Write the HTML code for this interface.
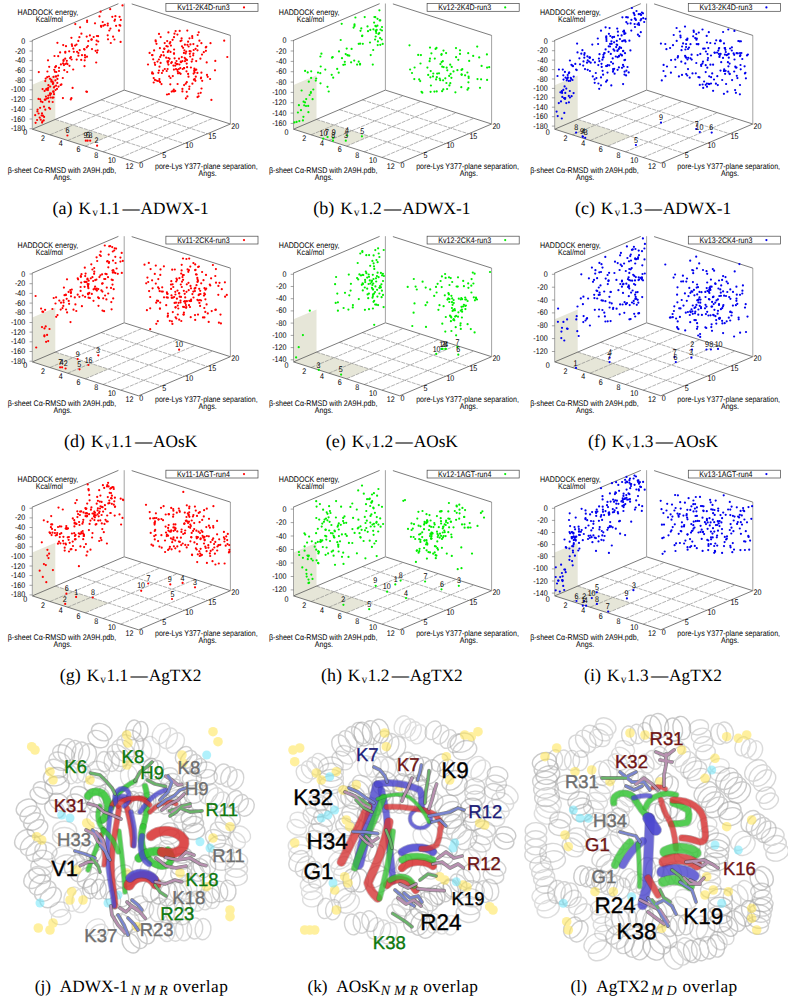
<!DOCTYPE html>
<html><head><meta charset="utf-8"><style>
html,body{margin:0;padding:0;background:#fff;}
body{width:788px;height:1000px;overflow:hidden;position:relative;font-family:"Liberation Sans",sans-serif;}
svg{display:block;position:absolute;left:0;top:0;}
</style></head><body>
<svg width="788" height="1000" viewBox="0 0 788 1000" font-family="Liberation Sans" text-rendering="geometricPrecision">
<g transform="translate(0.0,0.0)">
<polygon points="32.3,129.2 85.4,146.1 108.4,136.4 55.3,119.4" fill="#e6e6d8"/>
<polygon points="32.3,129.2 55.3,119.4 55.3,75.0 32.3,84.8" fill="#e6e6d8"/>
<line x1="50.0" y1="134.8" x2="141.9" y2="95.8" stroke="#808080" stroke-width="0.6" stroke-dasharray="4,1"/>
<line x1="67.7" y1="140.5" x2="159.6" y2="101.4" stroke="#808080" stroke-width="0.6" stroke-dasharray="4,1"/>
<line x1="85.4" y1="146.1" x2="177.3" y2="107.0" stroke="#808080" stroke-width="0.6" stroke-dasharray="4,1"/>
<line x1="103.1" y1="151.8" x2="195.0" y2="112.7" stroke="#808080" stroke-width="0.6" stroke-dasharray="4,1"/>
<line x1="120.8" y1="157.4" x2="212.7" y2="118.3" stroke="#808080" stroke-width="0.6" stroke-dasharray="4,1"/>
<line x1="55.3" y1="119.4" x2="161.5" y2="153.3" stroke="#808080" stroke-width="0.6" stroke-dasharray="4,1"/>
<line x1="78.2" y1="109.6" x2="184.4" y2="143.6" stroke="#808080" stroke-width="0.6" stroke-dasharray="4,1"/>
<line x1="101.2" y1="99.9" x2="207.4" y2="133.8" stroke="#808080" stroke-width="0.6" stroke-dasharray="4,1"/>
<line x1="32.3" y1="129.2" x2="138.5" y2="163.1" stroke="#444" stroke-width="0.7"/>
<line x1="138.5" y1="163.1" x2="230.4" y2="124.0" stroke="#444" stroke-width="0.7"/>
<line x1="32.3" y1="129.2" x2="124.2" y2="90.1" stroke="#444" stroke-width="0.7"/>
<line x1="124.2" y1="90.1" x2="230.4" y2="124.0" stroke="#444" stroke-width="0.7"/>
<line x1="32.3" y1="129.2" x2="32.3" y2="40.6" stroke="#999" stroke-width="0.9"/>
<line x1="124.2" y1="90.1" x2="124.2" y2="3.5" stroke="#999" stroke-width="0.9"/>
<line x1="230.4" y1="124.0" x2="230.4" y2="35.4" stroke="#999" stroke-width="0.9"/>
<line x1="31.8" y1="40.6" x2="118.4" y2="3.7" stroke="#444" stroke-width="0.7"/>
<line x1="131.7" y1="3.9" x2="230.4" y2="35.4" stroke="#444" stroke-width="0.7"/>
<line x1="29.5" y1="41.3" x2="32.3" y2="41.3" stroke="#666" stroke-width="0.6"/>
<text transform="translate(25.2,43.8) scale(0.868,1)" font-size="8.2" text-anchor="end" fill="#000">0</text>
<line x1="29.5" y1="51.0" x2="32.3" y2="51.0" stroke="#666" stroke-width="0.6"/>
<text transform="translate(25.2,53.5) scale(0.868,1)" font-size="8.2" text-anchor="end" fill="#000">-20</text>
<line x1="29.5" y1="60.7" x2="32.3" y2="60.7" stroke="#666" stroke-width="0.6"/>
<text transform="translate(25.2,63.2) scale(0.868,1)" font-size="8.2" text-anchor="end" fill="#000">-40</text>
<line x1="29.5" y1="70.4" x2="32.3" y2="70.4" stroke="#666" stroke-width="0.6"/>
<text transform="translate(25.2,72.9) scale(0.868,1)" font-size="8.2" text-anchor="end" fill="#000">-60</text>
<line x1="29.5" y1="80.1" x2="32.3" y2="80.1" stroke="#666" stroke-width="0.6"/>
<text transform="translate(25.2,82.6) scale(0.868,1)" font-size="8.2" text-anchor="end" fill="#000">-80</text>
<line x1="29.5" y1="89.8" x2="32.3" y2="89.8" stroke="#666" stroke-width="0.6"/>
<text transform="translate(25.2,92.3) scale(0.868,1)" font-size="8.2" text-anchor="end" fill="#000">-100</text>
<line x1="29.5" y1="99.6" x2="32.3" y2="99.6" stroke="#666" stroke-width="0.6"/>
<text transform="translate(25.2,102.1) scale(0.868,1)" font-size="8.2" text-anchor="end" fill="#000">-120</text>
<line x1="29.5" y1="109.3" x2="32.3" y2="109.3" stroke="#666" stroke-width="0.6"/>
<text transform="translate(25.2,111.8) scale(0.868,1)" font-size="8.2" text-anchor="end" fill="#000">-140</text>
<line x1="29.5" y1="119.0" x2="32.3" y2="119.0" stroke="#666" stroke-width="0.6"/>
<text transform="translate(25.2,121.5) scale(0.868,1)" font-size="8.2" text-anchor="end" fill="#000">-160</text>
<line x1="29.5" y1="128.7" x2="32.3" y2="128.7" stroke="#666" stroke-width="0.6"/>
<text transform="translate(25.2,131.2) scale(0.868,1)" font-size="8.2" text-anchor="end" fill="#000">-180</text>
<text transform="translate(27.3,135.1) scale(0.868,1)" font-size="8.2" text-anchor="end" fill="#000">0</text>
<text transform="translate(45.0,140.8) scale(0.868,1)" font-size="8.2" text-anchor="end" fill="#000">2</text>
<text transform="translate(62.7,146.4) scale(0.868,1)" font-size="8.2" text-anchor="end" fill="#000">4</text>
<text transform="translate(80.4,152.0) scale(0.868,1)" font-size="8.2" text-anchor="end" fill="#000">6</text>
<text transform="translate(98.1,157.7) scale(0.868,1)" font-size="8.2" text-anchor="end" fill="#000">8</text>
<text transform="translate(115.8,163.3) scale(0.868,1)" font-size="8.2" text-anchor="end" fill="#000">10</text>
<text transform="translate(133.5,169.0) scale(0.868,1)" font-size="8.2" text-anchor="end" fill="#000">12</text>
<text transform="translate(139.3,167.8) scale(0.868,1)" font-size="8.2" text-anchor="start" fill="#000">0</text>
<text transform="translate(162.3,158.0) scale(0.868,1)" font-size="8.2" text-anchor="start" fill="#000">5</text>
<text transform="translate(185.2,148.2) scale(0.868,1)" font-size="8.2" text-anchor="start" fill="#000">10</text>
<text transform="translate(208.2,138.5) scale(0.868,1)" font-size="8.2" text-anchor="start" fill="#000">15</text>
<text transform="translate(231.2,128.7) scale(0.868,1)" font-size="8.2" text-anchor="start" fill="#000">20</text>
<text transform="translate(47.9,15.2) scale(0.868,1)" font-size="8.2" text-anchor="middle" fill="#000">HADDOCK energy,</text>
<text transform="translate(49.3,22.0) scale(0.868,1)" font-size="8.2" text-anchor="middle" fill="#000">Kcal/mol</text>
<text transform="translate(62.0,172.9) scale(0.868,1)" font-size="8.2" text-anchor="middle" fill="#000">β-sheet Cα-RMSD with 2A9H.pdb,</text>
<text transform="translate(62.7,180.2) scale(0.868,1)" font-size="8.2" text-anchor="middle" fill="#000">Angs.</text>
<text transform="translate(206.3,169.3) scale(0.868,1)" font-size="8.2" text-anchor="middle" fill="#000">pore-Lys Y377-plane separation,</text>
<text transform="translate(207.6,176.4) scale(0.868,1)" font-size="8.2" text-anchor="middle" fill="#000">Angs.</text>
<g fill="#ff0000"><circle cx="51.0" cy="93.7" r="1.1"/><circle cx="42.6" cy="89.1" r="1.1"/><circle cx="49.1" cy="101.7" r="1.1"/><circle cx="37.1" cy="120.0" r="1.1"/><circle cx="53.2" cy="83.1" r="1.1"/><circle cx="51.3" cy="81.6" r="1.1"/><circle cx="53.2" cy="91.4" r="1.1"/><circle cx="41.6" cy="115.5" r="1.1"/><circle cx="45.3" cy="109.7" r="1.1"/><circle cx="50.5" cy="97.5" r="1.1"/><circle cx="52.6" cy="81.7" r="1.1"/><circle cx="52.7" cy="102.0" r="1.1"/><circle cx="35.2" cy="115.2" r="1.1"/><circle cx="48.3" cy="95.6" r="1.1"/><circle cx="44.0" cy="106.7" r="1.1"/><circle cx="47.6" cy="89.0" r="1.1"/><circle cx="50.2" cy="86.6" r="1.1"/><circle cx="52.9" cy="83.9" r="1.1"/><circle cx="52.4" cy="97.7" r="1.1"/><circle cx="56.1" cy="85.7" r="1.1"/><circle cx="57.3" cy="82.9" r="1.1"/><circle cx="45.9" cy="96.6" r="1.1"/><circle cx="38.5" cy="98.9" r="1.1"/><circle cx="37.6" cy="109.6" r="1.1"/><circle cx="40.1" cy="107.8" r="1.1"/><circle cx="48.4" cy="85.2" r="1.1"/><circle cx="53.6" cy="91.9" r="1.1"/><circle cx="55.5" cy="90.0" r="1.1"/><circle cx="37.4" cy="111.4" r="1.1"/><circle cx="57.0" cy="88.9" r="1.1"/><circle cx="46.5" cy="88.9" r="1.1"/><circle cx="40.2" cy="99.3" r="1.1"/><circle cx="39.7" cy="117.6" r="1.1"/><circle cx="50.1" cy="94.9" r="1.1"/><circle cx="47.9" cy="90.1" r="1.1"/><circle cx="50.0" cy="93.3" r="1.1"/><circle cx="48.1" cy="98.2" r="1.1"/><circle cx="38.6" cy="113.5" r="1.1"/><circle cx="53.5" cy="97.5" r="1.1"/><circle cx="46.3" cy="89.7" r="1.1"/><circle cx="35.6" cy="122.8" r="1.1"/><circle cx="40.7" cy="119.7" r="1.1"/><circle cx="54.0" cy="94.2" r="1.1"/><circle cx="50.1" cy="108.8" r="1.1"/><circle cx="44.6" cy="90.9" r="1.1"/><circle cx="40.9" cy="101.4" r="1.1"/><circle cx="45.5" cy="99.7" r="1.1"/><circle cx="48.2" cy="87.9" r="1.1"/><circle cx="54.5" cy="86.6" r="1.1"/><circle cx="42.0" cy="113.4" r="1.1"/><circle cx="42.4" cy="121.3" r="1.1"/><circle cx="43.7" cy="120.4" r="1.1"/><circle cx="42.1" cy="122.6" r="1.1"/><circle cx="44.8" cy="99.7" r="1.1"/><circle cx="42.5" cy="102.1" r="1.1"/><circle cx="44.1" cy="116.9" r="1.1"/><circle cx="46.8" cy="98.5" r="1.1"/><circle cx="42.9" cy="115.7" r="1.1"/><circle cx="49.1" cy="107.8" r="1.1"/><circle cx="51.3" cy="79.9" r="1.1"/><circle cx="59.0" cy="67.8" r="1.1"/><circle cx="61.4" cy="84.4" r="1.1"/><circle cx="76.5" cy="44.6" r="1.1"/><circle cx="58.1" cy="75.6" r="1.1"/><circle cx="72.6" cy="87.9" r="1.1"/><circle cx="58.2" cy="56.2" r="1.1"/><circle cx="56.2" cy="76.4" r="1.1"/><circle cx="56.3" cy="72.0" r="1.1"/><circle cx="60.1" cy="52.4" r="1.1"/><circle cx="66.0" cy="46.2" r="1.1"/><circle cx="55.2" cy="67.2" r="1.1"/><circle cx="65.3" cy="51.8" r="1.1"/><circle cx="53.5" cy="76.9" r="1.1"/><circle cx="66.8" cy="60.8" r="1.1"/><circle cx="59.0" cy="71.0" r="1.1"/><circle cx="73.3" cy="48.7" r="1.1"/><circle cx="45.3" cy="81.1" r="1.1"/><circle cx="54.5" cy="56.0" r="1.1"/><circle cx="47.4" cy="71.5" r="1.1"/><circle cx="57.4" cy="78.9" r="1.1"/><circle cx="55.4" cy="80.4" r="1.1"/><circle cx="49.2" cy="66.8" r="1.1"/><circle cx="65.2" cy="58.7" r="1.1"/><circle cx="63.6" cy="59.9" r="1.1"/><circle cx="69.5" cy="65.8" r="1.1"/><circle cx="78.4" cy="55.7" r="1.1"/><circle cx="66.6" cy="63.3" r="1.1"/><circle cx="67.2" cy="72.0" r="1.1"/><circle cx="71.6" cy="59.5" r="1.1"/><circle cx="45.7" cy="78.6" r="1.1"/><circle cx="64.3" cy="70.2" r="1.1"/><circle cx="50.0" cy="78.8" r="1.1"/><circle cx="47.2" cy="77.2" r="1.1"/><circle cx="63.5" cy="60.9" r="1.1"/><circle cx="84.9" cy="55.2" r="1.1"/><circle cx="73.2" cy="69.5" r="1.1"/><circle cx="60.6" cy="85.0" r="1.1"/><circle cx="56.0" cy="66.2" r="1.1"/><circle cx="84.7" cy="60.3" r="1.1"/><circle cx="81.2" cy="59.9" r="1.1"/><circle cx="58.5" cy="86.6" r="1.1"/><circle cx="72.1" cy="45.9" r="1.1"/><circle cx="54.9" cy="71.7" r="1.1"/><circle cx="48.0" cy="60.3" r="1.1"/><circle cx="53.9" cy="87.5" r="1.1"/><circle cx="65.2" cy="64.0" r="1.1"/><circle cx="49.0" cy="76.5" r="1.1"/><circle cx="60.9" cy="64.4" r="1.1"/><circle cx="63.9" cy="65.1" r="1.1"/><circle cx="78.4" cy="53.0" r="1.1"/><circle cx="73.8" cy="51.8" r="1.1"/><circle cx="63.1" cy="63.4" r="1.1"/><circle cx="79.7" cy="50.2" r="1.1"/><circle cx="38.8" cy="72.1" r="1.1"/><circle cx="67.5" cy="64.1" r="1.1"/><circle cx="62.9" cy="98.1" r="1.1"/><circle cx="55.7" cy="76.5" r="1.1"/><circle cx="54.2" cy="69.8" r="1.1"/><circle cx="62.8" cy="78.0" r="1.1"/><circle cx="71.8" cy="44.3" r="1.1"/><circle cx="85.1" cy="57.4" r="1.1"/><circle cx="110.4" cy="28.6" r="1.1"/><circle cx="110.8" cy="43.0" r="1.1"/><circle cx="69.2" cy="51.3" r="1.1"/><circle cx="86.8" cy="47.3" r="1.1"/><circle cx="107.7" cy="35.3" r="1.1"/><circle cx="91.4" cy="39.7" r="1.1"/><circle cx="112.3" cy="16.8" r="1.1"/><circle cx="77.1" cy="51.8" r="1.1"/><circle cx="57.4" cy="42.8" r="1.1"/><circle cx="96.9" cy="36.0" r="1.1"/><circle cx="93.7" cy="37.0" r="1.1"/><circle cx="86.7" cy="36.6" r="1.1"/><circle cx="82.0" cy="55.2" r="1.1"/><circle cx="84.1" cy="49.1" r="1.1"/><circle cx="119.5" cy="25.0" r="1.1"/><circle cx="115.4" cy="16.2" r="1.1"/><circle cx="84.6" cy="49.6" r="1.1"/><circle cx="116.1" cy="25.8" r="1.1"/><circle cx="84.5" cy="66.2" r="1.1"/><circle cx="92.0" cy="49.1" r="1.1"/><circle cx="97.0" cy="52.6" r="1.1"/><circle cx="99.5" cy="16.4" r="1.1"/><circle cx="70.1" cy="58.1" r="1.1"/><circle cx="118.9" cy="30.5" r="1.1"/><circle cx="119.6" cy="16.8" r="1.1"/><circle cx="96.2" cy="62.5" r="1.1"/><circle cx="87.1" cy="22.0" r="1.1"/><circle cx="78.3" cy="40.9" r="1.1"/><circle cx="81.4" cy="33.7" r="1.1"/><circle cx="120.6" cy="41.9" r="1.1"/><circle cx="87.9" cy="46.0" r="1.1"/><circle cx="71.4" cy="37.8" r="1.1"/><circle cx="98.2" cy="41.5" r="1.1"/><circle cx="76.7" cy="59.6" r="1.1"/><circle cx="63.2" cy="45.1" r="1.1"/><circle cx="100.6" cy="11.7" r="1.1"/><circle cx="87.0" cy="56.7" r="1.1"/><circle cx="101.0" cy="25.9" r="1.1"/><circle cx="87.1" cy="20.6" r="1.1"/><circle cx="114.5" cy="20.8" r="1.1"/><circle cx="104.9" cy="24.8" r="1.1"/><circle cx="95.6" cy="50.8" r="1.1"/><circle cx="70.9" cy="57.1" r="1.1"/><circle cx="102.7" cy="22.0" r="1.1"/><circle cx="114.4" cy="39.5" r="1.1"/><circle cx="108.0" cy="39.3" r="1.1"/><circle cx="110.2" cy="9.2" r="1.1"/><circle cx="107.7" cy="25.4" r="1.1"/><circle cx="98.1" cy="36.2" r="1.1"/><circle cx="101.2" cy="26.8" r="1.1"/><circle cx="115.0" cy="19.6" r="1.1"/><circle cx="96.6" cy="40.6" r="1.1"/><circle cx="95.0" cy="23.3" r="1.1"/><circle cx="79.4" cy="37.2" r="1.1"/><circle cx="113.1" cy="36.7" r="1.1"/><circle cx="88.3" cy="41.1" r="1.1"/><circle cx="120.8" cy="19.9" r="1.1"/><circle cx="119.1" cy="30.6" r="1.1"/><circle cx="107.8" cy="23.5" r="1.1"/><circle cx="80.1" cy="27.3" r="1.1"/><circle cx="91.7" cy="39.4" r="1.1"/><circle cx="103.3" cy="25.7" r="1.1"/><circle cx="96.4" cy="44.5" r="1.1"/><circle cx="89.9" cy="35.4" r="1.1"/><circle cx="75.1" cy="45.6" r="1.1"/><circle cx="65.3" cy="52.7" r="1.1"/><circle cx="97.6" cy="50.3" r="1.1"/><circle cx="120.3" cy="25.7" r="1.1"/><circle cx="109.3" cy="30.5" r="1.1"/><circle cx="75.3" cy="24.1" r="1.1"/><circle cx="122.5" cy="5.4" r="1.1"/><circle cx="86.3" cy="91.6" r="1.1"/><circle cx="87.0" cy="91.8" r="1.1"/><circle cx="70.8" cy="99.4" r="1.1"/><circle cx="71.4" cy="98.2" r="1.1"/><circle cx="177.4" cy="34.6" r="1.1"/><circle cx="167.0" cy="94.5" r="1.1"/><circle cx="185.8" cy="83.7" r="1.1"/><circle cx="182.4" cy="61.2" r="1.1"/><circle cx="182.4" cy="88.9" r="1.1"/><circle cx="191.7" cy="61.6" r="1.1"/><circle cx="201.1" cy="77.5" r="1.1"/><circle cx="200.7" cy="92.8" r="1.1"/><circle cx="168.4" cy="32.4" r="1.1"/><circle cx="203.8" cy="52.2" r="1.1"/><circle cx="189.5" cy="38.3" r="1.1"/><circle cx="173.4" cy="65.6" r="1.1"/><circle cx="152.5" cy="55.0" r="1.1"/><circle cx="198.7" cy="32.3" r="1.1"/><circle cx="181.0" cy="62.2" r="1.1"/><circle cx="182.0" cy="46.3" r="1.1"/><circle cx="193.4" cy="53.6" r="1.1"/><circle cx="187.1" cy="67.2" r="1.1"/><circle cx="184.7" cy="57.8" r="1.1"/><circle cx="159.4" cy="79.1" r="1.1"/><circle cx="148.0" cy="64.5" r="1.1"/><circle cx="157.8" cy="81.0" r="1.1"/><circle cx="160.1" cy="82.2" r="1.1"/><circle cx="156.5" cy="43.8" r="1.1"/><circle cx="170.5" cy="78.0" r="1.1"/><circle cx="174.0" cy="37.2" r="1.1"/><circle cx="190.2" cy="56.5" r="1.1"/><circle cx="197.5" cy="50.3" r="1.1"/><circle cx="179.4" cy="64.5" r="1.1"/><circle cx="189.8" cy="53.8" r="1.1"/><circle cx="181.8" cy="57.1" r="1.1"/><circle cx="188.6" cy="46.5" r="1.1"/><circle cx="161.9" cy="73.0" r="1.1"/><circle cx="201.4" cy="43.2" r="1.1"/><circle cx="167.7" cy="46.5" r="1.1"/><circle cx="206.3" cy="46.8" r="1.1"/><circle cx="164.3" cy="48.8" r="1.1"/><circle cx="181.6" cy="38.4" r="1.1"/><circle cx="195.6" cy="48.8" r="1.1"/><circle cx="192.4" cy="83.7" r="1.1"/><circle cx="179.7" cy="30.9" r="1.1"/><circle cx="163.0" cy="70.7" r="1.1"/><circle cx="186.2" cy="51.7" r="1.1"/><circle cx="182.4" cy="91.4" r="1.1"/><circle cx="190.4" cy="44.4" r="1.1"/><circle cx="174.0" cy="53.7" r="1.1"/><circle cx="168.6" cy="50.6" r="1.1"/><circle cx="189.6" cy="51.2" r="1.1"/><circle cx="164.7" cy="43.1" r="1.1"/><circle cx="169.6" cy="58.8" r="1.1"/><circle cx="177.8" cy="71.7" r="1.1"/><circle cx="192.2" cy="36.2" r="1.1"/><circle cx="167.6" cy="69.0" r="1.1"/><circle cx="180.5" cy="41.1" r="1.1"/><circle cx="173.8" cy="89.6" r="1.1"/><circle cx="198.6" cy="96.3" r="1.1"/><circle cx="201.4" cy="72.7" r="1.1"/><circle cx="153.1" cy="73.6" r="1.1"/><circle cx="168.6" cy="61.0" r="1.1"/><circle cx="177.6" cy="64.1" r="1.1"/><circle cx="168.9" cy="94.1" r="1.1"/><circle cx="189.2" cy="89.0" r="1.1"/><circle cx="189.4" cy="86.6" r="1.1"/><circle cx="174.5" cy="33.7" r="1.1"/><circle cx="171.2" cy="63.1" r="1.1"/><circle cx="196.2" cy="61.1" r="1.1"/><circle cx="160.2" cy="56.9" r="1.1"/><circle cx="168.4" cy="64.6" r="1.1"/><circle cx="184.9" cy="44.7" r="1.1"/><circle cx="193.6" cy="73.6" r="1.1"/><circle cx="186.7" cy="63.6" r="1.1"/><circle cx="180.3" cy="68.1" r="1.1"/><circle cx="170.3" cy="84.3" r="1.1"/><circle cx="167.4" cy="61.3" r="1.1"/><circle cx="186.3" cy="59.5" r="1.1"/><circle cx="175.6" cy="31.1" r="1.1"/><circle cx="155.8" cy="41.5" r="1.1"/><circle cx="167.8" cy="62.7" r="1.1"/><circle cx="201.5" cy="88.5" r="1.1"/><circle cx="176.5" cy="61.0" r="1.1"/><circle cx="185.0" cy="61.2" r="1.1"/><circle cx="183.9" cy="52.9" r="1.1"/><circle cx="158.9" cy="59.5" r="1.1"/><circle cx="206.7" cy="62.4" r="1.1"/><circle cx="193.4" cy="44.1" r="1.1"/><circle cx="173.9" cy="69.6" r="1.1"/><circle cx="173.0" cy="91.1" r="1.1"/><circle cx="185.5" cy="59.1" r="1.1"/><circle cx="159.0" cy="33.9" r="1.1"/><circle cx="169.2" cy="76.3" r="1.1"/><circle cx="157.5" cy="61.6" r="1.1"/><circle cx="159.3" cy="81.1" r="1.1"/><circle cx="207.0" cy="74.9" r="1.1"/><circle cx="183.1" cy="47.8" r="1.1"/><circle cx="172.8" cy="76.1" r="1.1"/><circle cx="170.5" cy="51.9" r="1.1"/><circle cx="180.6" cy="73.8" r="1.1"/><circle cx="166.2" cy="57.7" r="1.1"/><circle cx="152.1" cy="55.2" r="1.1"/><circle cx="182.7" cy="69.0" r="1.1"/><circle cx="178.9" cy="69.0" r="1.1"/><circle cx="170.9" cy="45.6" r="1.1"/><circle cx="188.1" cy="41.7" r="1.1"/><circle cx="190.6" cy="51.4" r="1.1"/><circle cx="156.4" cy="80.5" r="1.1"/><circle cx="186.8" cy="82.2" r="1.1"/><circle cx="166.7" cy="71.0" r="1.1"/><circle cx="205.8" cy="47.4" r="1.1"/><circle cx="178.0" cy="73.3" r="1.1"/><circle cx="202.2" cy="80.8" r="1.1"/><circle cx="175.5" cy="63.0" r="1.1"/><circle cx="196.3" cy="69.7" r="1.1"/><circle cx="175.2" cy="90.9" r="1.1"/><circle cx="184.4" cy="50.3" r="1.1"/><circle cx="174.0" cy="53.4" r="1.1"/><circle cx="163.8" cy="55.4" r="1.1"/><circle cx="195.0" cy="69.9" r="1.1"/><circle cx="171.7" cy="91.6" r="1.1"/><circle cx="200.4" cy="58.7" r="1.1"/><circle cx="161.5" cy="84.1" r="1.1"/><circle cx="153.7" cy="82.5" r="1.1"/><circle cx="179.0" cy="58.7" r="1.1"/><circle cx="174.0" cy="91.5" r="1.1"/><circle cx="159.9" cy="48.2" r="1.1"/><circle cx="168.4" cy="58.0" r="1.1"/><circle cx="166.4" cy="46.1" r="1.1"/><circle cx="184.1" cy="68.1" r="1.1"/><circle cx="169.7" cy="43.4" r="1.1"/><circle cx="205.9" cy="50.8" r="1.1"/><circle cx="174.1" cy="49.5" r="1.1"/><circle cx="176.7" cy="64.2" r="1.1"/><circle cx="195.4" cy="80.8" r="1.1"/><circle cx="167.2" cy="41.1" r="1.1"/><circle cx="152.1" cy="73.5" r="1.1"/><circle cx="186.5" cy="71.3" r="1.1"/><circle cx="188.5" cy="76.7" r="1.1"/><circle cx="161.2" cy="55.2" r="1.1"/><circle cx="160.6" cy="62.9" r="1.1"/><circle cx="207.7" cy="76.8" r="1.1"/><circle cx="192.3" cy="38.0" r="1.1"/><circle cx="176.0" cy="69.1" r="1.1"/><circle cx="197.4" cy="72.9" r="1.1"/><circle cx="194.4" cy="68.6" r="1.1"/><circle cx="167.8" cy="51.9" r="1.1"/><circle cx="200.9" cy="78.3" r="1.1"/><circle cx="193.2" cy="55.3" r="1.1"/><circle cx="197.4" cy="45.9" r="1.1"/><circle cx="185.6" cy="53.4" r="1.1"/><circle cx="185.9" cy="98.4" r="1.1"/><circle cx="193.9" cy="79.7" r="1.1"/><circle cx="184.1" cy="68.2" r="1.1"/><circle cx="184.1" cy="85.1" r="1.1"/><circle cx="170.3" cy="42.2" r="1.1"/><circle cx="174.6" cy="58.3" r="1.1"/><circle cx="154.7" cy="62.8" r="1.1"/><circle cx="159.0" cy="70.5" r="1.1"/><circle cx="154.9" cy="79.9" r="1.1"/><circle cx="153.7" cy="78.1" r="1.1"/><circle cx="193.7" cy="50.0" r="1.1"/><circle cx="155.6" cy="40.4" r="1.1"/><circle cx="188.1" cy="73.9" r="1.1"/><circle cx="171.8" cy="62.2" r="1.1"/><circle cx="194.8" cy="79.2" r="1.1"/><circle cx="154.1" cy="50.4" r="1.1"/><circle cx="177.6" cy="84.0" r="1.1"/><circle cx="194.4" cy="70.2" r="1.1"/><circle cx="187.3" cy="30.6" r="1.1"/><circle cx="187.0" cy="60.1" r="1.1"/><circle cx="194.3" cy="71.1" r="1.1"/><circle cx="199.4" cy="40.7" r="1.1"/><circle cx="163.2" cy="52.1" r="1.1"/><circle cx="160.7" cy="37.1" r="1.1"/><circle cx="195.8" cy="76.7" r="1.1"/><circle cx="187.4" cy="44.8" r="1.1"/><circle cx="172.6" cy="39.8" r="1.1"/><circle cx="179.5" cy="72.9" r="1.1"/><circle cx="186.7" cy="91.8" r="1.1"/><circle cx="180.7" cy="61.7" r="1.1"/><circle cx="177.3" cy="69.8" r="1.1"/><circle cx="194.6" cy="72.5" r="1.1"/><circle cx="152.2" cy="72.3" r="1.1"/><circle cx="197.7" cy="35.0" r="1.1"/><circle cx="164.8" cy="69.0" r="1.1"/><circle cx="190.9" cy="67.5" r="1.1"/><circle cx="153.2" cy="59.3" r="1.1"/><circle cx="192.4" cy="59.3" r="1.1"/><circle cx="181.5" cy="40.5" r="1.1"/><circle cx="158.4" cy="72.8" r="1.1"/><circle cx="175.2" cy="65.7" r="1.1"/><circle cx="149.6" cy="52.9" r="1.1"/><circle cx="187.4" cy="96.4" r="1.1"/><circle cx="197.5" cy="97.1" r="1.1"/><circle cx="215.0" cy="70.3" r="1.1"/><circle cx="215.3" cy="60.9" r="1.1"/><circle cx="159.5" cy="66.7" r="1.1"/><circle cx="164.3" cy="48.7" r="1.1"/><circle cx="155.1" cy="64.8" r="1.1"/><circle cx="211.4" cy="99.9" r="1.1"/><circle cx="210.1" cy="79.0" r="1.1"/><circle cx="210.5" cy="43.2" r="1.1"/><circle cx="198.4" cy="93.5" r="1.1"/><circle cx="202.0" cy="54.6" r="1.1"/><circle cx="227.3" cy="57.0" r="1.1"/><circle cx="224.2" cy="40.7" r="1.1"/><circle cx="67.4" cy="135.5" r="1.1"/><circle cx="85.8" cy="140.7" r="1.1"/><circle cx="87.6" cy="140.7" r="1.1"/><circle cx="90.2" cy="140.7" r="1.1"/><circle cx="97.1" cy="145.7" r="1.1"/></g>
<text transform="translate(67.6,133.1) scale(0.868,1)" font-size="8.2" text-anchor="middle" fill="#000">6</text>
<text transform="translate(85.5,138.3) scale(0.868,1)" font-size="8.2" text-anchor="middle" fill="#000">9</text>
<text transform="translate(88.0,138.3) scale(0.868,1)" font-size="8.2" text-anchor="middle" fill="#000">5</text>
<text transform="translate(90.5,138.3) scale(0.868,1)" font-size="8.2" text-anchor="middle" fill="#000">8</text>
<text transform="translate(96.5,143.3) scale(0.868,1)" font-size="8.2" text-anchor="middle" fill="#000">2</text>
<rect x="165.9" y="3.5" width="92.1" height="7.8" fill="#fff" stroke="#444" stroke-width="0.7"/>
<text transform="translate(203.5,10.0) scale(0.868,1)" font-size="8.2" text-anchor="middle" fill="#000">Kv11-2K4D-run3</text>
<circle cx="244" cy="7.4" r="1.1" fill="#ff0000"/>
</g>
<g transform="translate(261.2,0.0)">
<polygon points="32.3,129.2 85.4,146.1 108.4,136.4 55.3,119.4" fill="#e6e6d8"/>
<polygon points="32.3,129.2 55.3,119.4 55.3,75.3 32.3,85.1" fill="#e6e6d8"/>
<line x1="50.0" y1="134.8" x2="141.9" y2="95.8" stroke="#808080" stroke-width="0.6" stroke-dasharray="4,1"/>
<line x1="67.7" y1="140.5" x2="159.6" y2="101.4" stroke="#808080" stroke-width="0.6" stroke-dasharray="4,1"/>
<line x1="85.4" y1="146.1" x2="177.3" y2="107.0" stroke="#808080" stroke-width="0.6" stroke-dasharray="4,1"/>
<line x1="103.1" y1="151.8" x2="195.0" y2="112.7" stroke="#808080" stroke-width="0.6" stroke-dasharray="4,1"/>
<line x1="120.8" y1="157.4" x2="212.7" y2="118.3" stroke="#808080" stroke-width="0.6" stroke-dasharray="4,1"/>
<line x1="55.3" y1="119.4" x2="161.5" y2="153.3" stroke="#808080" stroke-width="0.6" stroke-dasharray="4,1"/>
<line x1="78.2" y1="109.6" x2="184.4" y2="143.6" stroke="#808080" stroke-width="0.6" stroke-dasharray="4,1"/>
<line x1="101.2" y1="99.9" x2="207.4" y2="133.8" stroke="#808080" stroke-width="0.6" stroke-dasharray="4,1"/>
<line x1="32.3" y1="129.2" x2="138.5" y2="163.1" stroke="#444" stroke-width="0.7"/>
<line x1="138.5" y1="163.1" x2="230.4" y2="124.0" stroke="#444" stroke-width="0.7"/>
<line x1="32.3" y1="129.2" x2="124.2" y2="90.1" stroke="#444" stroke-width="0.7"/>
<line x1="124.2" y1="90.1" x2="230.4" y2="124.0" stroke="#444" stroke-width="0.7"/>
<line x1="32.3" y1="129.2" x2="32.3" y2="40.6" stroke="#999" stroke-width="0.9"/>
<line x1="124.2" y1="90.1" x2="124.2" y2="3.5" stroke="#999" stroke-width="0.9"/>
<line x1="230.4" y1="124.0" x2="230.4" y2="35.4" stroke="#999" stroke-width="0.9"/>
<line x1="31.8" y1="40.6" x2="118.4" y2="3.7" stroke="#444" stroke-width="0.7"/>
<line x1="131.7" y1="3.9" x2="230.4" y2="35.4" stroke="#444" stroke-width="0.7"/>
<line x1="29.5" y1="40.7" x2="32.3" y2="40.7" stroke="#666" stroke-width="0.6"/>
<text transform="translate(25.2,43.2) scale(0.868,1)" font-size="8.2" text-anchor="end" fill="#000">0</text>
<line x1="29.5" y1="51.0" x2="32.3" y2="51.0" stroke="#666" stroke-width="0.6"/>
<text transform="translate(25.2,53.5) scale(0.868,1)" font-size="8.2" text-anchor="end" fill="#000">-20</text>
<line x1="29.5" y1="61.4" x2="32.3" y2="61.4" stroke="#666" stroke-width="0.6"/>
<text transform="translate(25.2,63.9) scale(0.868,1)" font-size="8.2" text-anchor="end" fill="#000">-40</text>
<line x1="29.5" y1="71.7" x2="32.3" y2="71.7" stroke="#666" stroke-width="0.6"/>
<text transform="translate(25.2,74.2) scale(0.868,1)" font-size="8.2" text-anchor="end" fill="#000">-60</text>
<line x1="29.5" y1="82.1" x2="32.3" y2="82.1" stroke="#666" stroke-width="0.6"/>
<text transform="translate(25.2,84.6) scale(0.868,1)" font-size="8.2" text-anchor="end" fill="#000">-80</text>
<line x1="29.5" y1="92.4" x2="32.3" y2="92.4" stroke="#666" stroke-width="0.6"/>
<text transform="translate(25.2,94.9) scale(0.868,1)" font-size="8.2" text-anchor="end" fill="#000">-100</text>
<line x1="29.5" y1="102.7" x2="32.3" y2="102.7" stroke="#666" stroke-width="0.6"/>
<text transform="translate(25.2,105.2) scale(0.868,1)" font-size="8.2" text-anchor="end" fill="#000">-120</text>
<line x1="29.5" y1="113.1" x2="32.3" y2="113.1" stroke="#666" stroke-width="0.6"/>
<text transform="translate(25.2,115.6) scale(0.868,1)" font-size="8.2" text-anchor="end" fill="#000">-140</text>
<line x1="29.5" y1="123.4" x2="32.3" y2="123.4" stroke="#666" stroke-width="0.6"/>
<text transform="translate(25.2,125.9) scale(0.868,1)" font-size="8.2" text-anchor="end" fill="#000">-160</text>
<text transform="translate(27.3,135.1) scale(0.868,1)" font-size="8.2" text-anchor="end" fill="#000">0</text>
<text transform="translate(45.0,140.8) scale(0.868,1)" font-size="8.2" text-anchor="end" fill="#000">2</text>
<text transform="translate(62.7,146.4) scale(0.868,1)" font-size="8.2" text-anchor="end" fill="#000">4</text>
<text transform="translate(80.4,152.0) scale(0.868,1)" font-size="8.2" text-anchor="end" fill="#000">6</text>
<text transform="translate(98.1,157.7) scale(0.868,1)" font-size="8.2" text-anchor="end" fill="#000">8</text>
<text transform="translate(115.8,163.3) scale(0.868,1)" font-size="8.2" text-anchor="end" fill="#000">10</text>
<text transform="translate(133.5,169.0) scale(0.868,1)" font-size="8.2" text-anchor="end" fill="#000">12</text>
<text transform="translate(139.3,167.8) scale(0.868,1)" font-size="8.2" text-anchor="start" fill="#000">0</text>
<text transform="translate(162.3,158.0) scale(0.868,1)" font-size="8.2" text-anchor="start" fill="#000">5</text>
<text transform="translate(185.2,148.2) scale(0.868,1)" font-size="8.2" text-anchor="start" fill="#000">10</text>
<text transform="translate(208.2,138.5) scale(0.868,1)" font-size="8.2" text-anchor="start" fill="#000">15</text>
<text transform="translate(231.2,128.7) scale(0.868,1)" font-size="8.2" text-anchor="start" fill="#000">20</text>
<text transform="translate(47.9,15.2) scale(0.868,1)" font-size="8.2" text-anchor="middle" fill="#000">HADDOCK energy,</text>
<text transform="translate(49.3,22.0) scale(0.868,1)" font-size="8.2" text-anchor="middle" fill="#000">Kcal/mol</text>
<text transform="translate(62.0,172.9) scale(0.868,1)" font-size="8.2" text-anchor="middle" fill="#000">β-sheet Cα-RMSD with 2A9H.pdb,</text>
<text transform="translate(62.7,180.2) scale(0.868,1)" font-size="8.2" text-anchor="middle" fill="#000">Angs.</text>
<text transform="translate(206.3,169.3) scale(0.868,1)" font-size="8.2" text-anchor="middle" fill="#000">pore-Lys Y377-plane separation,</text>
<text transform="translate(207.6,176.4) scale(0.868,1)" font-size="8.2" text-anchor="middle" fill="#000">Angs.</text>
<g fill="#00ee00"><circle cx="51.4" cy="99.2" r="1.1"/><circle cx="66.3" cy="86.8" r="1.1"/><circle cx="42.4" cy="101.7" r="1.1"/><circle cx="36.7" cy="112.5" r="1.1"/><circle cx="39.8" cy="110.2" r="1.1"/><circle cx="49.9" cy="77.9" r="1.1"/><circle cx="38.1" cy="121.1" r="1.1"/><circle cx="52.1" cy="89.5" r="1.1"/><circle cx="37.7" cy="105.2" r="1.1"/><circle cx="48.4" cy="95.0" r="1.1"/><circle cx="44.8" cy="106.0" r="1.1"/><circle cx="47.2" cy="112.2" r="1.1"/><circle cx="41.7" cy="120.4" r="1.1"/><circle cx="40.4" cy="90.5" r="1.1"/><circle cx="47.6" cy="81.7" r="1.1"/><circle cx="47.0" cy="105.9" r="1.1"/><circle cx="43.0" cy="105.3" r="1.1"/><circle cx="43.8" cy="102.4" r="1.1"/><circle cx="45.0" cy="99.1" r="1.1"/><circle cx="49.7" cy="92.0" r="1.1"/><circle cx="33.2" cy="122.4" r="1.1"/><circle cx="35.4" cy="121.9" r="1.1"/><circle cx="42.2" cy="116.8" r="1.1"/><circle cx="49.6" cy="93.0" r="1.1"/><circle cx="77.8" cy="51.4" r="1.1"/><circle cx="77.5" cy="72.7" r="1.1"/><circle cx="76.0" cy="68.9" r="1.1"/><circle cx="85.5" cy="48.6" r="1.1"/><circle cx="80.8" cy="58.2" r="1.1"/><circle cx="55.0" cy="78.5" r="1.1"/><circle cx="46.5" cy="72.4" r="1.1"/><circle cx="98.8" cy="64.6" r="1.1"/><circle cx="93.0" cy="60.6" r="1.1"/><circle cx="89.9" cy="62.3" r="1.1"/><circle cx="86.7" cy="55.4" r="1.1"/><circle cx="56.8" cy="72.6" r="1.1"/><circle cx="84.5" cy="54.1" r="1.1"/><circle cx="60.2" cy="53.7" r="1.1"/><circle cx="97.5" cy="61.7" r="1.1"/><circle cx="98.9" cy="63.9" r="1.1"/><circle cx="72.0" cy="77.7" r="1.1"/><circle cx="83.6" cy="61.8" r="1.1"/><circle cx="70.5" cy="74.8" r="1.1"/><circle cx="88.1" cy="55.7" r="1.1"/><circle cx="59.3" cy="83.3" r="1.1"/><circle cx="59.1" cy="73.2" r="1.1"/><circle cx="67.5" cy="91.5" r="1.1"/><circle cx="64.1" cy="69.6" r="1.1"/><circle cx="50.0" cy="71.3" r="1.1"/><circle cx="43.9" cy="70.9" r="1.1"/><circle cx="82.1" cy="64.8" r="1.1"/><circle cx="71.5" cy="57.2" r="1.1"/><circle cx="86.1" cy="55.0" r="1.1"/><circle cx="83.7" cy="64.5" r="1.1"/><circle cx="70.8" cy="57.7" r="1.1"/><circle cx="90.4" cy="48.9" r="1.1"/><circle cx="59.5" cy="66.5" r="1.1"/><circle cx="59.2" cy="56.5" r="1.1"/><circle cx="54.6" cy="80.6" r="1.1"/><circle cx="98.9" cy="43.7" r="1.1"/><circle cx="99.3" cy="30.8" r="1.1"/><circle cx="103.5" cy="17.1" r="1.1"/><circle cx="100.1" cy="28.4" r="1.1"/><circle cx="80.5" cy="23.8" r="1.1"/><circle cx="106.8" cy="31.2" r="1.1"/><circle cx="93.3" cy="25.9" r="1.1"/><circle cx="92.4" cy="27.6" r="1.1"/><circle cx="79.5" cy="40.0" r="1.1"/><circle cx="106.3" cy="26.4" r="1.1"/><circle cx="97.5" cy="43.8" r="1.1"/><circle cx="95.9" cy="64.6" r="1.1"/><circle cx="94.2" cy="17.5" r="1.1"/><circle cx="100.9" cy="36.1" r="1.1"/><circle cx="111.6" cy="64.6" r="1.1"/><circle cx="101.6" cy="43.8" r="1.1"/><circle cx="93.3" cy="24.4" r="1.1"/><circle cx="101.1" cy="35.7" r="1.1"/><circle cx="109.5" cy="55.1" r="1.1"/><circle cx="108.8" cy="42.5" r="1.1"/><circle cx="116.2" cy="25.7" r="1.1"/><circle cx="114.1" cy="17.2" r="1.1"/><circle cx="112.0" cy="50.0" r="1.1"/><circle cx="116.3" cy="18.8" r="1.1"/><circle cx="119.3" cy="29.6" r="1.1"/><circle cx="120.8" cy="30.5" r="1.1"/><circle cx="115.5" cy="29.9" r="1.1"/><circle cx="120.5" cy="39.5" r="1.1"/><circle cx="113.9" cy="39.5" r="1.1"/><circle cx="114.5" cy="36.5" r="1.1"/><circle cx="118.2" cy="10.3" r="1.1"/><circle cx="116.7" cy="41.4" r="1.1"/><circle cx="114.8" cy="31.3" r="1.1"/><circle cx="113.2" cy="17.0" r="1.1"/><circle cx="115.0" cy="33.0" r="1.1"/><circle cx="119.1" cy="44.8" r="1.1"/><circle cx="119.1" cy="20.3" r="1.1"/><circle cx="118.9" cy="38.1" r="1.1"/><circle cx="114.9" cy="26.5" r="1.1"/><circle cx="120.8" cy="27.0" r="1.1"/><circle cx="112.9" cy="22.6" r="1.1"/><circle cx="116.5" cy="45.1" r="1.1"/><circle cx="109.1" cy="29.9" r="1.1"/><circle cx="118.5" cy="20.4" r="1.1"/><circle cx="118.1" cy="33.1" r="1.1"/><circle cx="121.5" cy="43.9" r="1.1"/><circle cx="112.2" cy="29.3" r="1.1"/><circle cx="114.5" cy="30.5" r="1.1"/><circle cx="114.2" cy="25.9" r="1.1"/><circle cx="117.3" cy="33.9" r="1.1"/><circle cx="180.2" cy="54.8" r="1.1"/><circle cx="168.8" cy="58.7" r="1.1"/><circle cx="159.7" cy="55.1" r="1.1"/><circle cx="218.8" cy="87.8" r="1.1"/><circle cx="182.1" cy="89.4" r="1.1"/><circle cx="200.1" cy="87.2" r="1.1"/><circle cx="207.0" cy="53.2" r="1.1"/><circle cx="203.9" cy="75.3" r="1.1"/><circle cx="190.2" cy="77.8" r="1.1"/><circle cx="184.1" cy="78.3" r="1.1"/><circle cx="180.4" cy="62.1" r="1.1"/><circle cx="148.9" cy="69.5" r="1.1"/><circle cx="169.4" cy="91.8" r="1.1"/><circle cx="181.0" cy="66.7" r="1.1"/><circle cx="170.2" cy="53.3" r="1.1"/><circle cx="212.0" cy="55.9" r="1.1"/><circle cx="185.2" cy="83.0" r="1.1"/><circle cx="176.0" cy="73.6" r="1.1"/><circle cx="182.3" cy="50.6" r="1.1"/><circle cx="180.9" cy="91.2" r="1.1"/><circle cx="190.5" cy="66.9" r="1.1"/><circle cx="220.4" cy="65.9" r="1.1"/><circle cx="179.0" cy="80.2" r="1.1"/><circle cx="181.9" cy="80.3" r="1.1"/><circle cx="207.4" cy="76.6" r="1.1"/><circle cx="192.3" cy="71.4" r="1.1"/><circle cx="175.3" cy="47.9" r="1.1"/><circle cx="200.5" cy="74.8" r="1.1"/><circle cx="175.5" cy="91.4" r="1.1"/><circle cx="207.2" cy="88.2" r="1.1"/><circle cx="153.4" cy="67.5" r="1.1"/><circle cx="160.3" cy="91.8" r="1.1"/><circle cx="177.8" cy="73.3" r="1.1"/><circle cx="201.1" cy="69.2" r="1.1"/><circle cx="186.1" cy="70.3" r="1.1"/><circle cx="225.7" cy="54.4" r="1.1"/><circle cx="182.4" cy="67.1" r="1.1"/><circle cx="175.6" cy="77.2" r="1.1"/><circle cx="194.8" cy="48.1" r="1.1"/><circle cx="171.8" cy="76.4" r="1.1"/><circle cx="197.1" cy="59.8" r="1.1"/><circle cx="188.0" cy="75.9" r="1.1"/><circle cx="198.8" cy="50.3" r="1.1"/><circle cx="207.2" cy="82.3" r="1.1"/><circle cx="225.9" cy="79.9" r="1.1"/><circle cx="196.2" cy="70.2" r="1.1"/><circle cx="185.5" cy="67.7" r="1.1"/><circle cx="200.4" cy="74.4" r="1.1"/><circle cx="219.9" cy="79.3" r="1.1"/><circle cx="178.5" cy="78.5" r="1.1"/><circle cx="172.1" cy="73.5" r="1.1"/><circle cx="157.0" cy="54.9" r="1.1"/><circle cx="228.0" cy="67.2" r="1.1"/><circle cx="168.4" cy="61.2" r="1.1"/><circle cx="179.2" cy="64.1" r="1.1"/><circle cx="185.9" cy="89.0" r="1.1"/><circle cx="169.2" cy="77.3" r="1.1"/><circle cx="207.5" cy="78.0" r="1.1"/><circle cx="206.2" cy="72.5" r="1.1"/><circle cx="198.8" cy="53.9" r="1.1"/><circle cx="206.3" cy="89.7" r="1.1"/><circle cx="153.1" cy="79.1" r="1.1"/><circle cx="189.1" cy="83.2" r="1.1"/><circle cx="218.0" cy="57.4" r="1.1"/><circle cx="166.2" cy="67.6" r="1.1"/><circle cx="173.2" cy="91.6" r="1.1"/><circle cx="159.0" cy="81.1" r="1.1"/><circle cx="150.8" cy="73.0" r="1.1"/><circle cx="194.9" cy="57.2" r="1.1"/><circle cx="216.3" cy="79.1" r="1.1"/><circle cx="159.3" cy="63.5" r="1.1"/><circle cx="189.4" cy="73.9" r="1.1"/><circle cx="174.4" cy="48.9" r="1.1"/><circle cx="189.0" cy="64.7" r="1.1"/><circle cx="174.9" cy="79.4" r="1.1"/><circle cx="173.6" cy="58.6" r="1.1"/><circle cx="200.3" cy="69.9" r="1.1"/><circle cx="181.6" cy="61.2" r="1.1"/><circle cx="167.0" cy="74.9" r="1.1"/><circle cx="161.1" cy="92.7" r="1.1"/><circle cx="184.9" cy="53.1" r="1.1"/><circle cx="168.8" cy="47.6" r="1.1"/><circle cx="216.0" cy="46.6" r="1.1"/><circle cx="225.9" cy="67.6" r="1.1"/><circle cx="169.7" cy="85.5" r="1.1"/><circle cx="194.2" cy="92.3" r="1.1"/><circle cx="158.0" cy="79.4" r="1.1"/><circle cx="148.3" cy="45.3" r="1.1"/><circle cx="180.4" cy="54.0" r="1.1"/><circle cx="169.5" cy="71.1" r="1.1"/><circle cx="208.0" cy="60.9" r="1.1"/><circle cx="188.2" cy="85.4" r="1.1"/><circle cx="62.0" cy="138.7" r="1.1"/><circle cx="66.4" cy="137.0" r="1.1"/><circle cx="71.9" cy="137.8" r="1.1"/><circle cx="71.8" cy="140.7" r="1.1"/><circle cx="86.1" cy="135.5" r="1.1"/><circle cx="100.7" cy="136.3" r="1.1"/><circle cx="84.6" cy="140.7" r="1.1"/></g>
<text transform="translate(62.3,136.3) scale(0.868,1)" font-size="8.2" text-anchor="middle" fill="#000">10</text>
<text transform="translate(65.8,134.6) scale(0.868,1)" font-size="8.2" text-anchor="middle" fill="#000">7</text>
<text transform="translate(72.5,135.4) scale(0.868,1)" font-size="8.2" text-anchor="middle" fill="#000">9</text>
<text transform="translate(72.0,138.3) scale(0.868,1)" font-size="8.2" text-anchor="middle" fill="#000">8</text>
<text transform="translate(85.7,133.1) scale(0.868,1)" font-size="8.2" text-anchor="middle" fill="#000">4</text>
<text transform="translate(101.0,133.9) scale(0.868,1)" font-size="8.2" text-anchor="middle" fill="#000">5</text>
<text transform="translate(84.8,138.3) scale(0.868,1)" font-size="8.2" text-anchor="middle" fill="#000">3</text>
<rect x="165.9" y="3.5" width="92.1" height="7.8" fill="#fff" stroke="#444" stroke-width="0.7"/>
<text transform="translate(203.5,10.0) scale(0.868,1)" font-size="8.2" text-anchor="middle" fill="#000">Kv12-2K4D-run3</text>
<circle cx="244" cy="7.4" r="1.1" fill="#00ee00"/>
</g>
<g transform="translate(522.4,0.0)">
<polygon points="32.3,129.2 85.4,146.1 108.4,136.4 55.3,119.4" fill="#e6e6d8"/>
<polygon points="32.3,129.2 55.3,119.4 55.3,75.5 32.3,85.3" fill="#e6e6d8"/>
<line x1="50.0" y1="134.8" x2="141.9" y2="95.8" stroke="#808080" stroke-width="0.6" stroke-dasharray="4,1"/>
<line x1="67.7" y1="140.5" x2="159.6" y2="101.4" stroke="#808080" stroke-width="0.6" stroke-dasharray="4,1"/>
<line x1="85.4" y1="146.1" x2="177.3" y2="107.0" stroke="#808080" stroke-width="0.6" stroke-dasharray="4,1"/>
<line x1="103.1" y1="151.8" x2="195.0" y2="112.7" stroke="#808080" stroke-width="0.6" stroke-dasharray="4,1"/>
<line x1="120.8" y1="157.4" x2="212.7" y2="118.3" stroke="#808080" stroke-width="0.6" stroke-dasharray="4,1"/>
<line x1="55.3" y1="119.4" x2="161.5" y2="153.3" stroke="#808080" stroke-width="0.6" stroke-dasharray="4,1"/>
<line x1="78.2" y1="109.6" x2="184.4" y2="143.6" stroke="#808080" stroke-width="0.6" stroke-dasharray="4,1"/>
<line x1="101.2" y1="99.9" x2="207.4" y2="133.8" stroke="#808080" stroke-width="0.6" stroke-dasharray="4,1"/>
<line x1="32.3" y1="129.2" x2="138.5" y2="163.1" stroke="#444" stroke-width="0.7"/>
<line x1="138.5" y1="163.1" x2="230.4" y2="124.0" stroke="#444" stroke-width="0.7"/>
<line x1="32.3" y1="129.2" x2="124.2" y2="90.1" stroke="#444" stroke-width="0.7"/>
<line x1="124.2" y1="90.1" x2="230.4" y2="124.0" stroke="#444" stroke-width="0.7"/>
<line x1="32.3" y1="129.2" x2="32.3" y2="40.6" stroke="#999" stroke-width="0.9"/>
<line x1="124.2" y1="90.1" x2="124.2" y2="3.5" stroke="#999" stroke-width="0.9"/>
<line x1="230.4" y1="124.0" x2="230.4" y2="35.4" stroke="#999" stroke-width="0.9"/>
<line x1="31.8" y1="40.6" x2="118.4" y2="3.7" stroke="#444" stroke-width="0.7"/>
<line x1="131.7" y1="3.9" x2="230.4" y2="35.4" stroke="#444" stroke-width="0.7"/>
<line x1="29.5" y1="41.3" x2="32.3" y2="41.3" stroke="#666" stroke-width="0.6"/>
<text transform="translate(25.2,43.8) scale(0.868,1)" font-size="8.2" text-anchor="end" fill="#000">0</text>
<line x1="29.5" y1="50.7" x2="32.3" y2="50.7" stroke="#666" stroke-width="0.6"/>
<text transform="translate(25.2,53.2) scale(0.868,1)" font-size="8.2" text-anchor="end" fill="#000">-20</text>
<line x1="29.5" y1="60.1" x2="32.3" y2="60.1" stroke="#666" stroke-width="0.6"/>
<text transform="translate(25.2,62.6) scale(0.868,1)" font-size="8.2" text-anchor="end" fill="#000">-40</text>
<line x1="29.5" y1="69.6" x2="32.3" y2="69.6" stroke="#666" stroke-width="0.6"/>
<text transform="translate(25.2,72.1) scale(0.868,1)" font-size="8.2" text-anchor="end" fill="#000">-60</text>
<line x1="29.5" y1="79.0" x2="32.3" y2="79.0" stroke="#666" stroke-width="0.6"/>
<text transform="translate(25.2,81.5) scale(0.868,1)" font-size="8.2" text-anchor="end" fill="#000">-80</text>
<line x1="29.5" y1="88.4" x2="32.3" y2="88.4" stroke="#666" stroke-width="0.6"/>
<text transform="translate(25.2,90.9) scale(0.868,1)" font-size="8.2" text-anchor="end" fill="#000">-100</text>
<line x1="29.5" y1="97.8" x2="32.3" y2="97.8" stroke="#666" stroke-width="0.6"/>
<text transform="translate(25.2,100.3) scale(0.868,1)" font-size="8.2" text-anchor="end" fill="#000">-120</text>
<line x1="29.5" y1="107.2" x2="32.3" y2="107.2" stroke="#666" stroke-width="0.6"/>
<text transform="translate(25.2,109.7) scale(0.868,1)" font-size="8.2" text-anchor="end" fill="#000">-140</text>
<line x1="29.5" y1="116.7" x2="32.3" y2="116.7" stroke="#666" stroke-width="0.6"/>
<text transform="translate(25.2,119.2) scale(0.868,1)" font-size="8.2" text-anchor="end" fill="#000">-160</text>
<line x1="29.5" y1="126.1" x2="32.3" y2="126.1" stroke="#666" stroke-width="0.6"/>
<text transform="translate(25.2,128.6) scale(0.868,1)" font-size="8.2" text-anchor="end" fill="#000">-180</text>
<text transform="translate(27.3,135.1) scale(0.868,1)" font-size="8.2" text-anchor="end" fill="#000">0</text>
<text transform="translate(45.0,140.8) scale(0.868,1)" font-size="8.2" text-anchor="end" fill="#000">2</text>
<text transform="translate(62.7,146.4) scale(0.868,1)" font-size="8.2" text-anchor="end" fill="#000">4</text>
<text transform="translate(80.4,152.0) scale(0.868,1)" font-size="8.2" text-anchor="end" fill="#000">6</text>
<text transform="translate(98.1,157.7) scale(0.868,1)" font-size="8.2" text-anchor="end" fill="#000">8</text>
<text transform="translate(115.8,163.3) scale(0.868,1)" font-size="8.2" text-anchor="end" fill="#000">10</text>
<text transform="translate(133.5,169.0) scale(0.868,1)" font-size="8.2" text-anchor="end" fill="#000">12</text>
<text transform="translate(139.3,167.8) scale(0.868,1)" font-size="8.2" text-anchor="start" fill="#000">0</text>
<text transform="translate(162.3,158.0) scale(0.868,1)" font-size="8.2" text-anchor="start" fill="#000">5</text>
<text transform="translate(185.2,148.2) scale(0.868,1)" font-size="8.2" text-anchor="start" fill="#000">10</text>
<text transform="translate(208.2,138.5) scale(0.868,1)" font-size="8.2" text-anchor="start" fill="#000">15</text>
<text transform="translate(231.2,128.7) scale(0.868,1)" font-size="8.2" text-anchor="start" fill="#000">20</text>
<text transform="translate(47.9,15.2) scale(0.868,1)" font-size="8.2" text-anchor="middle" fill="#000">HADDOCK energy,</text>
<text transform="translate(49.3,22.0) scale(0.868,1)" font-size="8.2" text-anchor="middle" fill="#000">Kcal/mol</text>
<text transform="translate(62.0,172.9) scale(0.868,1)" font-size="8.2" text-anchor="middle" fill="#000">β-sheet Cα-RMSD with 2A9H.pdb,</text>
<text transform="translate(62.7,180.2) scale(0.868,1)" font-size="8.2" text-anchor="middle" fill="#000">Angs.</text>
<text transform="translate(206.3,169.3) scale(0.868,1)" font-size="8.2" text-anchor="middle" fill="#000">pore-Lys Y377-plane separation,</text>
<text transform="translate(207.6,176.4) scale(0.868,1)" font-size="8.2" text-anchor="middle" fill="#000">Angs.</text>
<g fill="#0000ee"><circle cx="35.3" cy="116.1" r="1.1"/><circle cx="43.9" cy="88.6" r="1.1"/><circle cx="39.7" cy="92.9" r="1.1"/><circle cx="47.5" cy="97.5" r="1.1"/><circle cx="41.7" cy="98.2" r="1.1"/><circle cx="47.8" cy="80.8" r="1.1"/><circle cx="34.2" cy="111.6" r="1.1"/><circle cx="39.4" cy="118.5" r="1.1"/><circle cx="38.0" cy="92.3" r="1.1"/><circle cx="38.6" cy="101.4" r="1.1"/><circle cx="42.9" cy="98.0" r="1.1"/><circle cx="40.9" cy="89.9" r="1.1"/><circle cx="41.9" cy="112.9" r="1.1"/><circle cx="47.4" cy="91.0" r="1.1"/><circle cx="42.6" cy="99.0" r="1.1"/><circle cx="36.4" cy="103.1" r="1.1"/><circle cx="50.1" cy="80.0" r="1.1"/><circle cx="46.4" cy="95.9" r="1.1"/><circle cx="39.5" cy="91.5" r="1.1"/><circle cx="43.9" cy="103.1" r="1.1"/><circle cx="51.2" cy="93.1" r="1.1"/><circle cx="39.4" cy="91.1" r="1.1"/><circle cx="46.5" cy="102.3" r="1.1"/><circle cx="42.9" cy="92.9" r="1.1"/><circle cx="46.3" cy="80.9" r="1.1"/><circle cx="42.2" cy="86.4" r="1.1"/><circle cx="49.2" cy="96.2" r="1.1"/><circle cx="39.9" cy="96.9" r="1.1"/><circle cx="45.3" cy="75.0" r="1.1"/><circle cx="48.3" cy="77.8" r="1.1"/><circle cx="67.1" cy="57.4" r="1.1"/><circle cx="65.3" cy="60.4" r="1.1"/><circle cx="61.9" cy="54.8" r="1.1"/><circle cx="60.8" cy="65.6" r="1.1"/><circle cx="67.3" cy="57.8" r="1.1"/><circle cx="62.6" cy="69.1" r="1.1"/><circle cx="42.5" cy="71.9" r="1.1"/><circle cx="53.7" cy="69.5" r="1.1"/><circle cx="48.8" cy="78.9" r="1.1"/><circle cx="44.7" cy="78.8" r="1.1"/><circle cx="44.3" cy="80.3" r="1.1"/><circle cx="51.3" cy="76.6" r="1.1"/><circle cx="57.0" cy="58.3" r="1.1"/><circle cx="45.4" cy="77.4" r="1.1"/><circle cx="46.8" cy="72.4" r="1.1"/><circle cx="49.0" cy="64.8" r="1.1"/><circle cx="64.6" cy="62.7" r="1.1"/><circle cx="58.9" cy="53.7" r="1.1"/><circle cx="57.6" cy="64.3" r="1.1"/><circle cx="45.1" cy="78.1" r="1.1"/><circle cx="55.1" cy="52.4" r="1.1"/><circle cx="72.5" cy="62.4" r="1.1"/><circle cx="65.0" cy="56.4" r="1.1"/><circle cx="46.4" cy="73.2" r="1.1"/><circle cx="40.4" cy="69.6" r="1.1"/><circle cx="60.0" cy="50.2" r="1.1"/><circle cx="65.3" cy="69.8" r="1.1"/><circle cx="50.6" cy="66.2" r="1.1"/><circle cx="61.9" cy="57.7" r="1.1"/><circle cx="67.5" cy="71.0" r="1.1"/><circle cx="66.7" cy="61.6" r="1.1"/><circle cx="67.6" cy="57.5" r="1.1"/><circle cx="36.5" cy="69.5" r="1.1"/><circle cx="54.3" cy="70.1" r="1.1"/><circle cx="68.3" cy="62.7" r="1.1"/><circle cx="40.9" cy="75.3" r="1.1"/><circle cx="62.2" cy="53.2" r="1.1"/><circle cx="43.1" cy="77.7" r="1.1"/><circle cx="35.1" cy="76.0" r="1.1"/><circle cx="52.9" cy="63.9" r="1.1"/><circle cx="54.7" cy="43.6" r="1.1"/><circle cx="41.1" cy="79.6" r="1.1"/><circle cx="61.1" cy="61.4" r="1.1"/><circle cx="47.5" cy="60.5" r="1.1"/><circle cx="50.0" cy="65.7" r="1.1"/><circle cx="101.3" cy="40.6" r="1.1"/><circle cx="102.6" cy="53.2" r="1.1"/><circle cx="104.0" cy="70.7" r="1.1"/><circle cx="103.7" cy="75.4" r="1.1"/><circle cx="83.2" cy="49.4" r="1.1"/><circle cx="90.6" cy="63.6" r="1.1"/><circle cx="95.2" cy="69.8" r="1.1"/><circle cx="77.0" cy="61.2" r="1.1"/><circle cx="96.6" cy="55.8" r="1.1"/><circle cx="80.0" cy="59.7" r="1.1"/><circle cx="102.1" cy="74.6" r="1.1"/><circle cx="80.7" cy="74.7" r="1.1"/><circle cx="86.2" cy="51.8" r="1.1"/><circle cx="105.1" cy="67.0" r="1.1"/><circle cx="90.3" cy="58.4" r="1.1"/><circle cx="100.6" cy="64.9" r="1.1"/><circle cx="94.8" cy="45.0" r="1.1"/><circle cx="75.9" cy="65.1" r="1.1"/><circle cx="72.2" cy="79.3" r="1.1"/><circle cx="96.5" cy="56.5" r="1.1"/><circle cx="78.6" cy="85.3" r="1.1"/><circle cx="87.2" cy="28.1" r="1.1"/><circle cx="97.5" cy="39.1" r="1.1"/><circle cx="86.9" cy="65.3" r="1.1"/><circle cx="103.0" cy="33.3" r="1.1"/><circle cx="95.2" cy="50.3" r="1.1"/><circle cx="88.7" cy="62.0" r="1.1"/><circle cx="91.8" cy="68.8" r="1.1"/><circle cx="78.6" cy="30.7" r="1.1"/><circle cx="95.6" cy="35.5" r="1.1"/><circle cx="86.3" cy="46.3" r="1.1"/><circle cx="81.8" cy="53.3" r="1.1"/><circle cx="70.4" cy="76.4" r="1.1"/><circle cx="102.7" cy="59.8" r="1.1"/><circle cx="79.1" cy="63.8" r="1.1"/><circle cx="101.3" cy="66.5" r="1.1"/><circle cx="85.3" cy="65.0" r="1.1"/><circle cx="73.4" cy="73.0" r="1.1"/><circle cx="106.3" cy="72.4" r="1.1"/><circle cx="99.6" cy="67.8" r="1.1"/><circle cx="72.3" cy="82.8" r="1.1"/><circle cx="103.2" cy="41.6" r="1.1"/><circle cx="85.1" cy="72.6" r="1.1"/><circle cx="94.4" cy="40.9" r="1.1"/><circle cx="75.4" cy="38.5" r="1.1"/><circle cx="92.2" cy="73.7" r="1.1"/><circle cx="98.2" cy="54.3" r="1.1"/><circle cx="92.0" cy="50.7" r="1.1"/><circle cx="102.0" cy="60.2" r="1.1"/><circle cx="84.7" cy="80.3" r="1.1"/><circle cx="88.4" cy="53.9" r="1.1"/><circle cx="76.5" cy="58.6" r="1.1"/><circle cx="107.0" cy="40.7" r="1.1"/><circle cx="102.6" cy="40.4" r="1.1"/><circle cx="78.6" cy="77.4" r="1.1"/><circle cx="77.1" cy="54.2" r="1.1"/><circle cx="83.7" cy="81.7" r="1.1"/><circle cx="95.0" cy="51.0" r="1.1"/><circle cx="83.7" cy="66.1" r="1.1"/><circle cx="80.2" cy="70.8" r="1.1"/><circle cx="102.2" cy="71.7" r="1.1"/><circle cx="76.0" cy="83.5" r="1.1"/><circle cx="88.9" cy="85.4" r="1.1"/><circle cx="95.2" cy="57.2" r="1.1"/><circle cx="79.3" cy="66.9" r="1.1"/><circle cx="100.7" cy="84.1" r="1.1"/><circle cx="76.8" cy="88.8" r="1.1"/><circle cx="81.0" cy="54.8" r="1.1"/><circle cx="87.9" cy="36.0" r="1.1"/><circle cx="90.9" cy="70.1" r="1.1"/><circle cx="89.0" cy="41.3" r="1.1"/><circle cx="81.1" cy="57.2" r="1.1"/><circle cx="75.7" cy="44.0" r="1.1"/><circle cx="69.9" cy="44.6" r="1.1"/><circle cx="82.2" cy="53.0" r="1.1"/><circle cx="91.1" cy="49.4" r="1.1"/><circle cx="90.7" cy="69.0" r="1.1"/><circle cx="84.1" cy="41.0" r="1.1"/><circle cx="74.0" cy="78.1" r="1.1"/><circle cx="84.8" cy="66.0" r="1.1"/><circle cx="93.4" cy="56.5" r="1.1"/><circle cx="87.7" cy="43.9" r="1.1"/><circle cx="99.6" cy="55.5" r="1.1"/><circle cx="96.5" cy="67.4" r="1.1"/><circle cx="80.7" cy="57.5" r="1.1"/><circle cx="89.3" cy="43.8" r="1.1"/><circle cx="87.6" cy="46.5" r="1.1"/><circle cx="70.6" cy="59.8" r="1.1"/><circle cx="90.6" cy="71.7" r="1.1"/><circle cx="94.3" cy="44.5" r="1.1"/><circle cx="95.5" cy="31.7" r="1.1"/><circle cx="111.6" cy="13.6" r="1.1"/><circle cx="116.9" cy="36.2" r="1.1"/><circle cx="109.5" cy="8.0" r="1.1"/><circle cx="116.3" cy="14.2" r="1.1"/><circle cx="94.8" cy="28.6" r="1.1"/><circle cx="100.8" cy="50.8" r="1.1"/><circle cx="99.2" cy="35.4" r="1.1"/><circle cx="108.9" cy="30.6" r="1.1"/><circle cx="83.9" cy="36.3" r="1.1"/><circle cx="114.1" cy="11.0" r="1.1"/><circle cx="115.5" cy="34.7" r="1.1"/><circle cx="112.2" cy="15.1" r="1.1"/><circle cx="119.5" cy="12.5" r="1.1"/><circle cx="116.7" cy="24.9" r="1.1"/><circle cx="101.6" cy="30.6" r="1.1"/><circle cx="98.7" cy="47.9" r="1.1"/><circle cx="91.7" cy="42.3" r="1.1"/><circle cx="100.8" cy="51.2" r="1.1"/><circle cx="113.1" cy="19.2" r="1.1"/><circle cx="84.0" cy="39.1" r="1.1"/><circle cx="116.3" cy="23.2" r="1.1"/><circle cx="86.5" cy="33.8" r="1.1"/><circle cx="120.8" cy="18.2" r="1.1"/><circle cx="83.8" cy="37.4" r="1.1"/><circle cx="103.9" cy="22.1" r="1.1"/><circle cx="113.5" cy="20.0" r="1.1"/><circle cx="99.3" cy="55.2" r="1.1"/><circle cx="112.4" cy="18.3" r="1.1"/><circle cx="118.7" cy="14.9" r="1.1"/><circle cx="108.0" cy="50.4" r="1.1"/><circle cx="96.5" cy="48.9" r="1.1"/><circle cx="112.6" cy="27.0" r="1.1"/><circle cx="115.1" cy="24.3" r="1.1"/><circle cx="105.2" cy="23.6" r="1.1"/><circle cx="105.4" cy="17.4" r="1.1"/><circle cx="90.0" cy="37.6" r="1.1"/><circle cx="121.8" cy="22.0" r="1.1"/><circle cx="100.0" cy="17.3" r="1.1"/><circle cx="118.2" cy="20.3" r="1.1"/><circle cx="99.8" cy="41.2" r="1.1"/><circle cx="118.8" cy="19.1" r="1.1"/><circle cx="91.7" cy="36.9" r="1.1"/><circle cx="108.2" cy="23.4" r="1.1"/><circle cx="118.1" cy="14.5" r="1.1"/><circle cx="101.8" cy="31.9" r="1.1"/><circle cx="90.1" cy="37.1" r="1.1"/><circle cx="118.4" cy="32.2" r="1.1"/><circle cx="83.2" cy="27.3" r="1.1"/><circle cx="112.2" cy="24.0" r="1.1"/><circle cx="120.6" cy="13.3" r="1.1"/><circle cx="101.9" cy="33.9" r="1.1"/><circle cx="100.8" cy="31.5" r="1.1"/><circle cx="97.3" cy="47.2" r="1.1"/><circle cx="93.8" cy="47.1" r="1.1"/><circle cx="109.0" cy="19.8" r="1.1"/><circle cx="117.7" cy="14.0" r="1.1"/><circle cx="103.8" cy="17.2" r="1.1"/><circle cx="123.2" cy="18.8" r="1.1"/><circle cx="111.2" cy="12.8" r="1.1"/><circle cx="185.3" cy="60.1" r="1.1"/><circle cx="180.2" cy="84.5" r="1.1"/><circle cx="163.9" cy="39.8" r="1.1"/><circle cx="176.4" cy="32.6" r="1.1"/><circle cx="174.4" cy="38.6" r="1.1"/><circle cx="162.6" cy="26.6" r="1.1"/><circle cx="180.6" cy="61.7" r="1.1"/><circle cx="154.2" cy="28.0" r="1.1"/><circle cx="185.1" cy="54.1" r="1.1"/><circle cx="144.0" cy="49.2" r="1.1"/><circle cx="157.4" cy="31.5" r="1.1"/><circle cx="154.3" cy="40.9" r="1.1"/><circle cx="170.8" cy="36.3" r="1.1"/><circle cx="173.9" cy="63.0" r="1.1"/><circle cx="193.5" cy="83.7" r="1.1"/><circle cx="175.7" cy="44.3" r="1.1"/><circle cx="163.2" cy="56.9" r="1.1"/><circle cx="177.4" cy="84.9" r="1.1"/><circle cx="171.4" cy="31.9" r="1.1"/><circle cx="176.0" cy="44.1" r="1.1"/><circle cx="158.0" cy="35.7" r="1.1"/><circle cx="170.1" cy="73.4" r="1.1"/><circle cx="164.8" cy="39.8" r="1.1"/><circle cx="151.3" cy="35.0" r="1.1"/><circle cx="173.9" cy="34.1" r="1.1"/><circle cx="163.7" cy="47.0" r="1.1"/><circle cx="165.6" cy="69.1" r="1.1"/><circle cx="176.0" cy="77.1" r="1.1"/><circle cx="165.0" cy="38.6" r="1.1"/><circle cx="165.1" cy="59.5" r="1.1"/><circle cx="150.6" cy="45.2" r="1.1"/><circle cx="174.0" cy="39.7" r="1.1"/><circle cx="142.9" cy="44.0" r="1.1"/><circle cx="183.3" cy="84.8" r="1.1"/><circle cx="163.8" cy="74.1" r="1.1"/><circle cx="141.2" cy="64.9" r="1.1"/><circle cx="185.9" cy="48.1" r="1.1"/><circle cx="177.1" cy="77.4" r="1.1"/><circle cx="184.6" cy="86.7" r="1.1"/><circle cx="178.7" cy="64.8" r="1.1"/><circle cx="144.6" cy="66.5" r="1.1"/><circle cx="139.4" cy="80.4" r="1.1"/><circle cx="166.6" cy="47.6" r="1.1"/><circle cx="153.1" cy="67.0" r="1.1"/><circle cx="141.1" cy="71.0" r="1.1"/><circle cx="173.4" cy="73.3" r="1.1"/><circle cx="165.8" cy="57.8" r="1.1"/><circle cx="165.6" cy="49.0" r="1.1"/><circle cx="188.7" cy="77.2" r="1.1"/><circle cx="192.1" cy="52.6" r="1.1"/><circle cx="163.7" cy="44.1" r="1.1"/><circle cx="169.3" cy="59.6" r="1.1"/><circle cx="162.9" cy="63.4" r="1.1"/><circle cx="171.2" cy="30.5" r="1.1"/><circle cx="155.3" cy="57.6" r="1.1"/><circle cx="185.6" cy="58.0" r="1.1"/><circle cx="163.8" cy="57.8" r="1.1"/><circle cx="156.5" cy="76.4" r="1.1"/><circle cx="168.1" cy="44.2" r="1.1"/><circle cx="175.2" cy="55.1" r="1.1"/><circle cx="163.0" cy="49.5" r="1.1"/><circle cx="159.6" cy="74.9" r="1.1"/><circle cx="158.9" cy="61.7" r="1.1"/><circle cx="183.5" cy="51.5" r="1.1"/><circle cx="168.1" cy="58.3" r="1.1"/><circle cx="148.5" cy="72.7" r="1.1"/><circle cx="143.0" cy="76.2" r="1.1"/><circle cx="184.3" cy="35.9" r="1.1"/><circle cx="155.6" cy="56.2" r="1.1"/><circle cx="138.5" cy="43.6" r="1.1"/><circle cx="147.7" cy="48.0" r="1.1"/><circle cx="162.7" cy="55.8" r="1.1"/><circle cx="172.8" cy="38.1" r="1.1"/><circle cx="152.8" cy="59.6" r="1.1"/><circle cx="180.0" cy="63.6" r="1.1"/><circle cx="158.2" cy="37.3" r="1.1"/><circle cx="160.7" cy="43.4" r="1.1"/><circle cx="167.3" cy="77.7" r="1.1"/><circle cx="159.1" cy="50.2" r="1.1"/><circle cx="164.9" cy="75.5" r="1.1"/><circle cx="169.2" cy="54.7" r="1.1"/><circle cx="188.6" cy="55.5" r="1.1"/><circle cx="159.7" cy="46.5" r="1.1"/><circle cx="174.3" cy="44.1" r="1.1"/><circle cx="148.7" cy="60.1" r="1.1"/><circle cx="200.7" cy="32.0" r="1.1"/><circle cx="207.2" cy="63.6" r="1.1"/><circle cx="207.7" cy="48.5" r="1.1"/><circle cx="212.1" cy="59.5" r="1.1"/><circle cx="181.7" cy="81.5" r="1.1"/><circle cx="186.4" cy="32.2" r="1.1"/><circle cx="188.6" cy="83.5" r="1.1"/><circle cx="196.8" cy="48.1" r="1.1"/><circle cx="192.6" cy="43.5" r="1.1"/><circle cx="212.9" cy="66.5" r="1.1"/><circle cx="209.4" cy="50.5" r="1.1"/><circle cx="199.8" cy="80.0" r="1.1"/><circle cx="215.9" cy="41.0" r="1.1"/><circle cx="198.1" cy="70.6" r="1.1"/><circle cx="205.3" cy="54.6" r="1.1"/><circle cx="202.7" cy="73.8" r="1.1"/><circle cx="212.7" cy="90.1" r="1.1"/><circle cx="195.4" cy="85.1" r="1.1"/><circle cx="187.0" cy="84.1" r="1.1"/><circle cx="218.5" cy="41.3" r="1.1"/><circle cx="207.4" cy="74.1" r="1.1"/><circle cx="215.4" cy="53.3" r="1.1"/><circle cx="214.1" cy="67.6" r="1.1"/><circle cx="201.7" cy="70.9" r="1.1"/><circle cx="218.1" cy="65.0" r="1.1"/><circle cx="178.8" cy="66.0" r="1.1"/><circle cx="197.4" cy="55.5" r="1.1"/><circle cx="202.2" cy="48.1" r="1.1"/><circle cx="177.9" cy="53.9" r="1.1"/><circle cx="217.5" cy="94.3" r="1.1"/><circle cx="217.6" cy="53.1" r="1.1"/><circle cx="214.2" cy="53.2" r="1.1"/><circle cx="201.6" cy="43.4" r="1.1"/><circle cx="207.0" cy="73.5" r="1.1"/><circle cx="206.3" cy="53.9" r="1.1"/><circle cx="192.4" cy="52.8" r="1.1"/><circle cx="219.0" cy="53.0" r="1.1"/><circle cx="184.9" cy="67.7" r="1.1"/><circle cx="196.5" cy="48.6" r="1.1"/><circle cx="205.9" cy="29.5" r="1.1"/><circle cx="183.3" cy="72.1" r="1.1"/><circle cx="211.8" cy="54.8" r="1.1"/><circle cx="186.3" cy="83.9" r="1.1"/><circle cx="203.0" cy="49.8" r="1.1"/><circle cx="205.5" cy="62.2" r="1.1"/><circle cx="187.9" cy="43.0" r="1.1"/><circle cx="218.3" cy="69.3" r="1.1"/><circle cx="219.9" cy="59.0" r="1.1"/><circle cx="206.4" cy="57.7" r="1.1"/><circle cx="198.2" cy="53.9" r="1.1"/><circle cx="223.5" cy="78.3" r="1.1"/><circle cx="188.0" cy="64.7" r="1.1"/><circle cx="203.2" cy="70.8" r="1.1"/><circle cx="180.8" cy="48.7" r="1.1"/><circle cx="194.9" cy="76.2" r="1.1"/><circle cx="215.0" cy="78.1" r="1.1"/><circle cx="189.8" cy="73.4" r="1.1"/><circle cx="206.0" cy="66.3" r="1.1"/><circle cx="196.5" cy="53.9" r="1.1"/><circle cx="222.2" cy="66.3" r="1.1"/><circle cx="212.0" cy="30.9" r="1.1"/><circle cx="195.9" cy="50.6" r="1.1"/><circle cx="211.2" cy="53.4" r="1.1"/><circle cx="180.8" cy="87.9" r="1.1"/><circle cx="197.8" cy="40.9" r="1.1"/><circle cx="191.6" cy="79.5" r="1.1"/><circle cx="211.8" cy="71.5" r="1.1"/><circle cx="198.2" cy="41.2" r="1.1"/><circle cx="204.2" cy="55.2" r="1.1"/><circle cx="190.7" cy="90.8" r="1.1"/><circle cx="193.8" cy="40.3" r="1.1"/><circle cx="183.3" cy="65.2" r="1.1"/><circle cx="214.4" cy="75.8" r="1.1"/><circle cx="190.7" cy="64.7" r="1.1"/><circle cx="225.5" cy="54.5" r="1.1"/><circle cx="201.8" cy="69.4" r="1.1"/><circle cx="203.4" cy="52.0" r="1.1"/><circle cx="217.6" cy="85.0" r="1.1"/><circle cx="194.7" cy="52.6" r="1.1"/><circle cx="222.5" cy="73.5" r="1.1"/><circle cx="213.3" cy="67.5" r="1.1"/><circle cx="186.8" cy="76.3" r="1.1"/><circle cx="209.7" cy="80.1" r="1.1"/><circle cx="205.0" cy="91.7" r="1.1"/><circle cx="201.6" cy="71.0" r="1.1"/><circle cx="202.7" cy="48.1" r="1.1"/><circle cx="180.1" cy="29.5" r="1.1"/><circle cx="213.5" cy="92.8" r="1.1"/><circle cx="223.0" cy="72.8" r="1.1"/><circle cx="201.5" cy="93.8" r="1.1"/><circle cx="182.3" cy="48.5" r="1.1"/><circle cx="200.6" cy="57.9" r="1.1"/><circle cx="184.5" cy="83.5" r="1.1"/><circle cx="184.6" cy="42.5" r="1.1"/><circle cx="217.6" cy="56.1" r="1.1"/><circle cx="205.9" cy="71.7" r="1.1"/><circle cx="209.5" cy="47.3" r="1.1"/><circle cx="203.7" cy="84.0" r="1.1"/><circle cx="218.0" cy="55.2" r="1.1"/><circle cx="198.0" cy="40.4" r="1.1"/><circle cx="224.6" cy="55.4" r="1.1"/><circle cx="198.8" cy="62.2" r="1.1"/><circle cx="217.1" cy="41.3" r="1.1"/><circle cx="197.0" cy="56.9" r="1.1"/><circle cx="202.5" cy="54.6" r="1.1"/><circle cx="53.7" cy="132.6" r="1.1"/><circle cx="60.2" cy="136.3" r="1.1"/><circle cx="60.5" cy="136.8" r="1.1"/><circle cx="62.8" cy="137.8" r="1.1"/><circle cx="113.5" cy="145.0" r="1.1"/><circle cx="138.6" cy="122.6" r="1.1"/><circle cx="173.8" cy="129.0" r="1.1"/><circle cx="177.4" cy="132.0" r="1.1"/><circle cx="189.3" cy="132.6" r="1.1"/></g>
<text transform="translate(53.8,130.2) scale(0.868,1)" font-size="8.2" text-anchor="middle" fill="#000">8</text>
<text transform="translate(59.6,133.9) scale(0.868,1)" font-size="8.2" text-anchor="middle" fill="#000">9</text>
<text transform="translate(61.0,134.4) scale(0.868,1)" font-size="8.2" text-anchor="middle" fill="#000">4</text>
<text transform="translate(63.4,135.4) scale(0.868,1)" font-size="8.2" text-anchor="middle" fill="#000">3</text>
<text transform="translate(113.6,142.6) scale(0.868,1)" font-size="8.2" text-anchor="middle" fill="#000">5</text>
<text transform="translate(138.7,120.2) scale(0.868,1)" font-size="8.2" text-anchor="middle" fill="#000">9</text>
<text transform="translate(174.3,126.6) scale(0.868,1)" font-size="8.2" text-anchor="middle" fill="#000">7</text>
<text transform="translate(177.0,129.6) scale(0.868,1)" font-size="8.2" text-anchor="middle" fill="#000">10</text>
<text transform="translate(188.9,130.2) scale(0.868,1)" font-size="8.2" text-anchor="middle" fill="#000">6</text>
<rect x="165.9" y="3.5" width="92.1" height="7.8" fill="#fff" stroke="#444" stroke-width="0.7"/>
<text transform="translate(203.5,10.0) scale(0.868,1)" font-size="8.2" text-anchor="middle" fill="#000">Kv13-2K4D-run3</text>
<circle cx="244" cy="7.4" r="1.1" fill="#0000ee"/>
</g>
<g transform="translate(0.0,232.7)">
<polygon points="32.3,129.2 85.4,146.1 108.4,136.4 55.3,119.4" fill="#e6e6d8"/>
<polygon points="32.3,129.2 55.3,119.4 55.3,75.1 32.3,84.9" fill="#e6e6d8"/>
<line x1="50.0" y1="134.8" x2="141.9" y2="95.8" stroke="#808080" stroke-width="0.6" stroke-dasharray="4,1"/>
<line x1="67.7" y1="140.5" x2="159.6" y2="101.4" stroke="#808080" stroke-width="0.6" stroke-dasharray="4,1"/>
<line x1="85.4" y1="146.1" x2="177.3" y2="107.0" stroke="#808080" stroke-width="0.6" stroke-dasharray="4,1"/>
<line x1="103.1" y1="151.8" x2="195.0" y2="112.7" stroke="#808080" stroke-width="0.6" stroke-dasharray="4,1"/>
<line x1="120.8" y1="157.4" x2="212.7" y2="118.3" stroke="#808080" stroke-width="0.6" stroke-dasharray="4,1"/>
<line x1="55.3" y1="119.4" x2="161.5" y2="153.3" stroke="#808080" stroke-width="0.6" stroke-dasharray="4,1"/>
<line x1="78.2" y1="109.6" x2="184.4" y2="143.6" stroke="#808080" stroke-width="0.6" stroke-dasharray="4,1"/>
<line x1="101.2" y1="99.9" x2="207.4" y2="133.8" stroke="#808080" stroke-width="0.6" stroke-dasharray="4,1"/>
<line x1="32.3" y1="129.2" x2="138.5" y2="163.1" stroke="#444" stroke-width="0.7"/>
<line x1="138.5" y1="163.1" x2="230.4" y2="124.0" stroke="#444" stroke-width="0.7"/>
<line x1="32.3" y1="129.2" x2="124.2" y2="90.1" stroke="#444" stroke-width="0.7"/>
<line x1="124.2" y1="90.1" x2="230.4" y2="124.0" stroke="#444" stroke-width="0.7"/>
<line x1="32.3" y1="129.2" x2="32.3" y2="40.6" stroke="#999" stroke-width="0.9"/>
<line x1="124.2" y1="90.1" x2="124.2" y2="3.5" stroke="#999" stroke-width="0.9"/>
<line x1="230.4" y1="124.0" x2="230.4" y2="35.4" stroke="#999" stroke-width="0.9"/>
<line x1="31.8" y1="40.6" x2="118.4" y2="3.7" stroke="#444" stroke-width="0.7"/>
<line x1="131.7" y1="3.9" x2="230.4" y2="35.4" stroke="#444" stroke-width="0.7"/>
<line x1="29.5" y1="41.3" x2="32.3" y2="41.3" stroke="#666" stroke-width="0.6"/>
<text transform="translate(25.2,43.8) scale(0.868,1)" font-size="8.2" text-anchor="end" fill="#000">0</text>
<line x1="29.5" y1="51.0" x2="32.3" y2="51.0" stroke="#666" stroke-width="0.6"/>
<text transform="translate(25.2,53.5) scale(0.868,1)" font-size="8.2" text-anchor="end" fill="#000">-20</text>
<line x1="29.5" y1="60.7" x2="32.3" y2="60.7" stroke="#666" stroke-width="0.6"/>
<text transform="translate(25.2,63.2) scale(0.868,1)" font-size="8.2" text-anchor="end" fill="#000">-40</text>
<line x1="29.5" y1="70.4" x2="32.3" y2="70.4" stroke="#666" stroke-width="0.6"/>
<text transform="translate(25.2,72.9) scale(0.868,1)" font-size="8.2" text-anchor="end" fill="#000">-60</text>
<line x1="29.5" y1="80.1" x2="32.3" y2="80.1" stroke="#666" stroke-width="0.6"/>
<text transform="translate(25.2,82.6) scale(0.868,1)" font-size="8.2" text-anchor="end" fill="#000">-80</text>
<line x1="29.5" y1="89.8" x2="32.3" y2="89.8" stroke="#666" stroke-width="0.6"/>
<text transform="translate(25.2,92.2) scale(0.868,1)" font-size="8.2" text-anchor="end" fill="#000">-100</text>
<line x1="29.5" y1="99.4" x2="32.3" y2="99.4" stroke="#666" stroke-width="0.6"/>
<text transform="translate(25.2,101.9) scale(0.868,1)" font-size="8.2" text-anchor="end" fill="#000">-120</text>
<line x1="29.5" y1="109.1" x2="32.3" y2="109.1" stroke="#666" stroke-width="0.6"/>
<text transform="translate(25.2,111.6) scale(0.868,1)" font-size="8.2" text-anchor="end" fill="#000">-140</text>
<line x1="29.5" y1="118.8" x2="32.3" y2="118.8" stroke="#666" stroke-width="0.6"/>
<text transform="translate(25.2,121.3) scale(0.868,1)" font-size="8.2" text-anchor="end" fill="#000">-160</text>
<line x1="29.5" y1="128.5" x2="32.3" y2="128.5" stroke="#666" stroke-width="0.6"/>
<text transform="translate(25.2,131.0) scale(0.868,1)" font-size="8.2" text-anchor="end" fill="#000">-180</text>
<text transform="translate(27.3,135.1) scale(0.868,1)" font-size="8.2" text-anchor="end" fill="#000">0</text>
<text transform="translate(45.0,140.8) scale(0.868,1)" font-size="8.2" text-anchor="end" fill="#000">2</text>
<text transform="translate(62.7,146.4) scale(0.868,1)" font-size="8.2" text-anchor="end" fill="#000">4</text>
<text transform="translate(80.4,152.0) scale(0.868,1)" font-size="8.2" text-anchor="end" fill="#000">6</text>
<text transform="translate(98.1,157.7) scale(0.868,1)" font-size="8.2" text-anchor="end" fill="#000">8</text>
<text transform="translate(115.8,163.3) scale(0.868,1)" font-size="8.2" text-anchor="end" fill="#000">10</text>
<text transform="translate(133.5,169.0) scale(0.868,1)" font-size="8.2" text-anchor="end" fill="#000">12</text>
<text transform="translate(139.3,167.8) scale(0.868,1)" font-size="8.2" text-anchor="start" fill="#000">0</text>
<text transform="translate(162.3,158.0) scale(0.868,1)" font-size="8.2" text-anchor="start" fill="#000">5</text>
<text transform="translate(185.2,148.2) scale(0.868,1)" font-size="8.2" text-anchor="start" fill="#000">10</text>
<text transform="translate(208.2,138.5) scale(0.868,1)" font-size="8.2" text-anchor="start" fill="#000">15</text>
<text transform="translate(231.2,128.7) scale(0.868,1)" font-size="8.2" text-anchor="start" fill="#000">20</text>
<text transform="translate(47.9,15.2) scale(0.868,1)" font-size="8.2" text-anchor="middle" fill="#000">HADDOCK energy,</text>
<text transform="translate(49.3,22.0) scale(0.868,1)" font-size="8.2" text-anchor="middle" fill="#000">Kcal/mol</text>
<text transform="translate(62.0,172.9) scale(0.868,1)" font-size="8.2" text-anchor="middle" fill="#000">β-sheet Cα-RMSD with 2A9H.pdb,</text>
<text transform="translate(62.7,180.2) scale(0.868,1)" font-size="8.2" text-anchor="middle" fill="#000">Angs.</text>
<text transform="translate(206.3,169.3) scale(0.868,1)" font-size="8.2" text-anchor="middle" fill="#000">pore-Lys Y377-plane separation,</text>
<text transform="translate(207.6,176.4) scale(0.868,1)" font-size="8.2" text-anchor="middle" fill="#000">Angs.</text>
<g fill="#ff0000"><circle cx="49.5" cy="96.3" r="1.1"/><circle cx="42.4" cy="79.0" r="1.1"/><circle cx="44.4" cy="102.7" r="1.1"/><circle cx="42.0" cy="94.4" r="1.1"/><circle cx="36.2" cy="114.8" r="1.1"/><circle cx="45.7" cy="93.7" r="1.1"/><circle cx="47.1" cy="102.2" r="1.1"/><circle cx="44.5" cy="95.7" r="1.1"/><circle cx="44.4" cy="103.6" r="1.1"/><circle cx="48.2" cy="108.4" r="1.1"/><circle cx="46.1" cy="109.1" r="1.1"/><circle cx="43.2" cy="79.1" r="1.1"/><circle cx="69.1" cy="71.1" r="1.1"/><circle cx="77.7" cy="45.6" r="1.1"/><circle cx="55.5" cy="70.8" r="1.1"/><circle cx="95.1" cy="53.8" r="1.1"/><circle cx="71.8" cy="56.9" r="1.1"/><circle cx="62.5" cy="75.4" r="1.1"/><circle cx="70.5" cy="89.4" r="1.1"/><circle cx="86.6" cy="49.2" r="1.1"/><circle cx="71.0" cy="63.6" r="1.1"/><circle cx="65.8" cy="62.0" r="1.1"/><circle cx="52.4" cy="76.3" r="1.1"/><circle cx="56.2" cy="84.1" r="1.1"/><circle cx="96.9" cy="57.9" r="1.1"/><circle cx="85.1" cy="64.1" r="1.1"/><circle cx="35.6" cy="63.3" r="1.1"/><circle cx="93.2" cy="48.3" r="1.1"/><circle cx="74.8" cy="64.7" r="1.1"/><circle cx="53.7" cy="65.3" r="1.1"/><circle cx="68.6" cy="59.2" r="1.1"/><circle cx="81.2" cy="49.9" r="1.1"/><circle cx="68.7" cy="68.2" r="1.1"/><circle cx="66.7" cy="66.1" r="1.1"/><circle cx="45.1" cy="77.1" r="1.1"/><circle cx="63.9" cy="54.9" r="1.1"/><circle cx="70.9" cy="60.4" r="1.1"/><circle cx="63.5" cy="67.6" r="1.1"/><circle cx="71.0" cy="59.4" r="1.1"/><circle cx="65.8" cy="62.4" r="1.1"/><circle cx="56.1" cy="64.6" r="1.1"/><circle cx="61.0" cy="70.0" r="1.1"/><circle cx="82.8" cy="62.8" r="1.1"/><circle cx="85.6" cy="40.9" r="1.1"/><circle cx="66.1" cy="76.8" r="1.1"/><circle cx="63.6" cy="69.7" r="1.1"/><circle cx="91.8" cy="61.2" r="1.1"/><circle cx="88.1" cy="52.8" r="1.1"/><circle cx="87.5" cy="46.0" r="1.1"/><circle cx="59.3" cy="67.9" r="1.1"/><circle cx="77.7" cy="62.0" r="1.1"/><circle cx="87.6" cy="51.3" r="1.1"/><circle cx="79.4" cy="64.1" r="1.1"/><circle cx="67.1" cy="79.7" r="1.1"/><circle cx="84.5" cy="49.1" r="1.1"/><circle cx="89.9" cy="65.3" r="1.1"/><circle cx="63.3" cy="73.2" r="1.1"/><circle cx="73.5" cy="77.0" r="1.1"/><circle cx="70.3" cy="57.4" r="1.1"/><circle cx="76.3" cy="78.3" r="1.1"/><circle cx="57.5" cy="82.4" r="1.1"/><circle cx="67.0" cy="46.6" r="1.1"/><circle cx="81.9" cy="73.5" r="1.1"/><circle cx="41.1" cy="75.9" r="1.1"/><circle cx="75.4" cy="71.7" r="1.1"/><circle cx="60.7" cy="76.9" r="1.1"/><circle cx="64.5" cy="62.5" r="1.1"/><circle cx="80.9" cy="44.1" r="1.1"/><circle cx="104.1" cy="78.5" r="1.1"/><circle cx="106.6" cy="41.5" r="1.1"/><circle cx="111.6" cy="76.6" r="1.1"/><circle cx="112.8" cy="47.4" r="1.1"/><circle cx="120.4" cy="28.9" r="1.1"/><circle cx="100.7" cy="19.0" r="1.1"/><circle cx="96.8" cy="56.0" r="1.1"/><circle cx="115.6" cy="30.3" r="1.1"/><circle cx="92.4" cy="36.8" r="1.1"/><circle cx="88.1" cy="54.0" r="1.1"/><circle cx="94.2" cy="35.3" r="1.1"/><circle cx="88.8" cy="60.9" r="1.1"/><circle cx="87.4" cy="46.8" r="1.1"/><circle cx="88.7" cy="48.0" r="1.1"/><circle cx="104.8" cy="12.8" r="1.1"/><circle cx="93.5" cy="68.1" r="1.1"/><circle cx="113.2" cy="65.7" r="1.1"/><circle cx="108.0" cy="44.5" r="1.1"/><circle cx="114.2" cy="17.8" r="1.1"/><circle cx="95.2" cy="47.4" r="1.1"/><circle cx="102.1" cy="51.0" r="1.1"/><circle cx="114.2" cy="39.7" r="1.1"/><circle cx="85.2" cy="43.4" r="1.1"/><circle cx="101.4" cy="57.7" r="1.1"/><circle cx="99.4" cy="44.4" r="1.1"/><circle cx="117.8" cy="41.1" r="1.1"/><circle cx="87.9" cy="60.8" r="1.1"/><circle cx="113.3" cy="37.7" r="1.1"/><circle cx="108.2" cy="60.8" r="1.1"/><circle cx="108.3" cy="34.6" r="1.1"/><circle cx="111.7" cy="47.0" r="1.1"/><circle cx="97.2" cy="28.3" r="1.1"/><circle cx="98.5" cy="73.1" r="1.1"/><circle cx="113.7" cy="56.5" r="1.1"/><circle cx="110.2" cy="13.4" r="1.1"/><circle cx="100.8" cy="23.3" r="1.1"/><circle cx="109.2" cy="13.6" r="1.1"/><circle cx="84.8" cy="35.0" r="1.1"/><circle cx="102.4" cy="58.9" r="1.1"/><circle cx="122.8" cy="28.2" r="1.1"/><circle cx="112.4" cy="37.9" r="1.1"/><circle cx="104.2" cy="46.3" r="1.1"/><circle cx="105.4" cy="41.1" r="1.1"/><circle cx="98.3" cy="56.4" r="1.1"/><circle cx="115.3" cy="24.1" r="1.1"/><circle cx="80.8" cy="43.5" r="1.1"/><circle cx="113.2" cy="37.7" r="1.1"/><circle cx="93.6" cy="56.6" r="1.1"/><circle cx="96.6" cy="24.6" r="1.1"/><circle cx="94.3" cy="39.0" r="1.1"/><circle cx="120.4" cy="24.9" r="1.1"/><circle cx="88.6" cy="51.4" r="1.1"/><circle cx="91.3" cy="31.6" r="1.1"/><circle cx="115.4" cy="40.4" r="1.1"/><circle cx="107.6" cy="28.4" r="1.1"/><circle cx="109.1" cy="29.3" r="1.1"/><circle cx="112.2" cy="14.4" r="1.1"/><circle cx="85.2" cy="49.2" r="1.1"/><circle cx="80.6" cy="54.3" r="1.1"/><circle cx="116.6" cy="35.8" r="1.1"/><circle cx="100.4" cy="42.6" r="1.1"/><circle cx="88.6" cy="65.0" r="1.1"/><circle cx="89.3" cy="60.2" r="1.1"/><circle cx="98.9" cy="65.5" r="1.1"/><circle cx="90.8" cy="45.6" r="1.1"/><circle cx="121.7" cy="20.2" r="1.1"/><circle cx="94.7" cy="55.6" r="1.1"/><circle cx="116.1" cy="15.9" r="1.1"/><circle cx="78.1" cy="46.6" r="1.1"/><circle cx="105.1" cy="62.8" r="1.1"/><circle cx="106.8" cy="54.9" r="1.1"/><circle cx="105.3" cy="46.3" r="1.1"/><circle cx="102.7" cy="50.6" r="1.1"/><circle cx="112.8" cy="18.8" r="1.1"/><circle cx="80.6" cy="58.2" r="1.1"/><circle cx="94.1" cy="41.1" r="1.1"/><circle cx="111.0" cy="55.2" r="1.1"/><circle cx="113.0" cy="27.9" r="1.1"/><circle cx="102.5" cy="77.9" r="1.1"/><circle cx="98.1" cy="64.6" r="1.1"/><circle cx="81.5" cy="41.5" r="1.1"/><circle cx="106.4" cy="66.7" r="1.1"/><circle cx="88.1" cy="61.6" r="1.1"/><circle cx="114.7" cy="15.6" r="1.1"/><circle cx="102.1" cy="41.6" r="1.1"/><circle cx="92.4" cy="44.5" r="1.1"/><circle cx="96.4" cy="46.9" r="1.1"/><circle cx="107.1" cy="28.8" r="1.1"/><circle cx="103.2" cy="65.6" r="1.1"/><circle cx="88.4" cy="55.5" r="1.1"/><circle cx="111.3" cy="69.4" r="1.1"/><circle cx="95.8" cy="56.7" r="1.1"/><circle cx="112.8" cy="39.9" r="1.1"/><circle cx="108.7" cy="21.9" r="1.1"/><circle cx="112.5" cy="51.9" r="1.1"/><circle cx="108.9" cy="30.3" r="1.1"/><circle cx="99.8" cy="22.3" r="1.1"/><circle cx="121.8" cy="40.2" r="1.1"/><circle cx="84.6" cy="54.1" r="1.1"/><circle cx="171.1" cy="56.2" r="1.1"/><circle cx="181.8" cy="54.3" r="1.1"/><circle cx="162.8" cy="58.9" r="1.1"/><circle cx="167.9" cy="80.8" r="1.1"/><circle cx="188.3" cy="39.1" r="1.1"/><circle cx="172.9" cy="65.0" r="1.1"/><circle cx="195.2" cy="37.5" r="1.1"/><circle cx="204.3" cy="60.7" r="1.1"/><circle cx="176.5" cy="45.8" r="1.1"/><circle cx="172.6" cy="51.6" r="1.1"/><circle cx="183.1" cy="74.1" r="1.1"/><circle cx="212.9" cy="32.3" r="1.1"/><circle cx="184.1" cy="68.8" r="1.1"/><circle cx="211.1" cy="45.6" r="1.1"/><circle cx="183.8" cy="81.9" r="1.1"/><circle cx="179.7" cy="64.0" r="1.1"/><circle cx="150.2" cy="64.3" r="1.1"/><circle cx="175.6" cy="84.6" r="1.1"/><circle cx="177.8" cy="72.9" r="1.1"/><circle cx="211.7" cy="78.4" r="1.1"/><circle cx="193.5" cy="64.8" r="1.1"/><circle cx="189.2" cy="25.9" r="1.1"/><circle cx="198.6" cy="62.4" r="1.1"/><circle cx="150.2" cy="75.6" r="1.1"/><circle cx="205.4" cy="57.0" r="1.1"/><circle cx="183.9" cy="80.0" r="1.1"/><circle cx="160.3" cy="42.2" r="1.1"/><circle cx="171.0" cy="51.9" r="1.1"/><circle cx="184.7" cy="61.1" r="1.1"/><circle cx="161.4" cy="58.8" r="1.1"/><circle cx="176.4" cy="85.8" r="1.1"/><circle cx="188.9" cy="37.5" r="1.1"/><circle cx="197.9" cy="48.2" r="1.1"/><circle cx="166.7" cy="64.6" r="1.1"/><circle cx="171.9" cy="88.6" r="1.1"/><circle cx="155.8" cy="50.9" r="1.1"/><circle cx="186.8" cy="51.6" r="1.1"/><circle cx="188.5" cy="50.1" r="1.1"/><circle cx="181.2" cy="40.9" r="1.1"/><circle cx="182.0" cy="49.0" r="1.1"/><circle cx="174.8" cy="36.8" r="1.1"/><circle cx="194.9" cy="58.4" r="1.1"/><circle cx="171.3" cy="48.5" r="1.1"/><circle cx="181.6" cy="37.7" r="1.1"/><circle cx="152.1" cy="47.6" r="1.1"/><circle cx="197.6" cy="46.9" r="1.1"/><circle cx="198.3" cy="67.8" r="1.1"/><circle cx="176.9" cy="47.2" r="1.1"/><circle cx="160.0" cy="75.9" r="1.1"/><circle cx="215.4" cy="77.2" r="1.1"/><circle cx="186.4" cy="26.3" r="1.1"/><circle cx="183.1" cy="47.1" r="1.1"/><circle cx="195.5" cy="37.1" r="1.1"/><circle cx="190.5" cy="53.2" r="1.1"/><circle cx="191.1" cy="66.8" r="1.1"/><circle cx="171.7" cy="65.1" r="1.1"/><circle cx="199.9" cy="67.3" r="1.1"/><circle cx="182.9" cy="42.5" r="1.1"/><circle cx="164.0" cy="64.6" r="1.1"/><circle cx="225.1" cy="64.0" r="1.1"/><circle cx="195.2" cy="87.2" r="1.1"/><circle cx="190.7" cy="84.5" r="1.1"/><circle cx="195.4" cy="55.2" r="1.1"/><circle cx="176.0" cy="70.0" r="1.1"/><circle cx="182.5" cy="44.4" r="1.1"/><circle cx="221.8" cy="56.5" r="1.1"/><circle cx="224.9" cy="49.6" r="1.1"/><circle cx="148.2" cy="49.3" r="1.1"/><circle cx="198.1" cy="34.3" r="1.1"/><circle cx="191.1" cy="68.2" r="1.1"/><circle cx="186.5" cy="59.1" r="1.1"/><circle cx="192.4" cy="61.4" r="1.1"/><circle cx="183.0" cy="25.8" r="1.1"/><circle cx="206.2" cy="56.0" r="1.1"/><circle cx="155.8" cy="32.9" r="1.1"/><circle cx="146.2" cy="50.6" r="1.1"/><circle cx="174.2" cy="64.3" r="1.1"/><circle cx="180.5" cy="67.9" r="1.1"/><circle cx="196.7" cy="41.8" r="1.1"/><circle cx="205.4" cy="66.6" r="1.1"/><circle cx="154.8" cy="41.2" r="1.1"/><circle cx="174.6" cy="70.2" r="1.1"/><circle cx="204.0" cy="62.9" r="1.1"/><circle cx="210.3" cy="52.8" r="1.1"/><circle cx="190.0" cy="74.3" r="1.1"/><circle cx="203.0" cy="84.7" r="1.1"/><circle cx="201.2" cy="50.6" r="1.1"/><circle cx="216.0" cy="50.0" r="1.1"/><circle cx="204.3" cy="75.3" r="1.1"/><circle cx="167.7" cy="84.0" r="1.1"/><circle cx="166.9" cy="59.6" r="1.1"/><circle cx="147.4" cy="44.9" r="1.1"/><circle cx="177.5" cy="57.9" r="1.1"/><circle cx="179.3" cy="60.6" r="1.1"/><circle cx="226.8" cy="62.2" r="1.1"/><circle cx="181.0" cy="64.2" r="1.1"/><circle cx="160.2" cy="69.9" r="1.1"/><circle cx="176.9" cy="66.0" r="1.1"/><circle cx="180.8" cy="51.8" r="1.1"/><circle cx="149.1" cy="58.4" r="1.1"/><circle cx="158.9" cy="55.9" r="1.1"/><circle cx="200.5" cy="61.3" r="1.1"/><circle cx="157.8" cy="88.5" r="1.1"/><circle cx="191.0" cy="55.6" r="1.1"/><circle cx="144.5" cy="32.0" r="1.1"/><circle cx="190.3" cy="33.9" r="1.1"/><circle cx="159.6" cy="58.4" r="1.1"/><circle cx="201.1" cy="67.8" r="1.1"/><circle cx="169.8" cy="88.1" r="1.1"/><circle cx="189.3" cy="68.1" r="1.1"/><circle cx="184.1" cy="74.4" r="1.1"/><circle cx="178.6" cy="70.1" r="1.1"/><circle cx="199.2" cy="61.7" r="1.1"/><circle cx="186.3" cy="74.3" r="1.1"/><circle cx="208.7" cy="89.2" r="1.1"/><circle cx="200.1" cy="73.2" r="1.1"/><circle cx="185.2" cy="64.7" r="1.1"/><circle cx="195.0" cy="82.4" r="1.1"/><circle cx="185.0" cy="68.5" r="1.1"/><circle cx="185.3" cy="70.4" r="1.1"/><circle cx="205.0" cy="61.6" r="1.1"/><circle cx="172.2" cy="37.0" r="1.1"/><circle cx="218.4" cy="53.2" r="1.1"/><circle cx="179.4" cy="45.5" r="1.1"/><circle cx="180.5" cy="69.7" r="1.1"/><circle cx="194.6" cy="56.0" r="1.1"/><circle cx="215.8" cy="77.0" r="1.1"/><circle cx="158.3" cy="46.4" r="1.1"/><circle cx="171.5" cy="62.7" r="1.1"/><circle cx="219.5" cy="50.1" r="1.1"/><circle cx="200.2" cy="58.1" r="1.1"/><circle cx="175.4" cy="61.8" r="1.1"/><circle cx="156.3" cy="91.1" r="1.1"/><circle cx="202.1" cy="39.3" r="1.1"/><circle cx="177.8" cy="81.8" r="1.1"/><circle cx="190.3" cy="68.4" r="1.1"/><circle cx="178.3" cy="75.8" r="1.1"/><circle cx="172.4" cy="91.2" r="1.1"/><circle cx="189.0" cy="72.5" r="1.1"/><circle cx="146.9" cy="77.5" r="1.1"/><circle cx="160.5" cy="36.7" r="1.1"/><circle cx="218.9" cy="90.0" r="1.1"/><circle cx="215.9" cy="36.4" r="1.1"/><circle cx="167.5" cy="61.2" r="1.1"/><circle cx="167.2" cy="60.9" r="1.1"/><circle cx="193.3" cy="58.9" r="1.1"/><circle cx="179.2" cy="87.0" r="1.1"/><circle cx="186.1" cy="75.1" r="1.1"/><circle cx="206.6" cy="71.7" r="1.1"/><circle cx="167.9" cy="82.8" r="1.1"/><circle cx="209.8" cy="51.8" r="1.1"/><circle cx="181.7" cy="32.1" r="1.1"/><circle cx="199.2" cy="56.1" r="1.1"/><circle cx="159.9" cy="75.9" r="1.1"/><circle cx="196.5" cy="52.5" r="1.1"/><circle cx="204.4" cy="84.7" r="1.1"/><circle cx="175.3" cy="59.1" r="1.1"/><circle cx="183.8" cy="42.3" r="1.1"/><circle cx="218.3" cy="62.1" r="1.1"/><circle cx="188.7" cy="57.5" r="1.1"/><circle cx="197.3" cy="45.2" r="1.1"/><circle cx="175.6" cy="74.3" r="1.1"/><circle cx="148.8" cy="30.2" r="1.1"/><circle cx="220.9" cy="90.7" r="1.1"/><circle cx="172.8" cy="79.4" r="1.1"/><circle cx="175.5" cy="74.9" r="1.1"/><circle cx="183.8" cy="58.1" r="1.1"/><circle cx="181.3" cy="88.3" r="1.1"/><circle cx="203.5" cy="47.5" r="1.1"/><circle cx="186.9" cy="68.5" r="1.1"/><circle cx="179.0" cy="60.6" r="1.1"/><circle cx="199.4" cy="70.2" r="1.1"/><circle cx="187.6" cy="36.7" r="1.1"/><circle cx="167.8" cy="65.0" r="1.1"/><circle cx="193.4" cy="30.4" r="1.1"/><circle cx="198.9" cy="33.8" r="1.1"/><circle cx="162.2" cy="54.6" r="1.1"/><circle cx="173.3" cy="54.3" r="1.1"/><circle cx="183.4" cy="81.8" r="1.1"/><circle cx="158.1" cy="54.6" r="1.1"/><circle cx="204.5" cy="55.5" r="1.1"/><circle cx="195.2" cy="31.7" r="1.1"/><circle cx="176.2" cy="48.8" r="1.1"/><circle cx="205.3" cy="79.2" r="1.1"/><circle cx="158.1" cy="68.2" r="1.1"/><circle cx="198.0" cy="81.9" r="1.1"/><circle cx="166.2" cy="72.5" r="1.1"/><circle cx="206.0" cy="42.2" r="1.1"/><circle cx="207.8" cy="80.7" r="1.1"/><circle cx="152.6" cy="55.6" r="1.1"/><circle cx="150.2" cy="96.5" r="1.1"/><circle cx="197.4" cy="67.1" r="1.1"/><circle cx="185.9" cy="72.3" r="1.1"/><circle cx="150.6" cy="36.4" r="1.1"/><circle cx="156.2" cy="70.0" r="1.1"/><circle cx="197.5" cy="49.2" r="1.1"/><circle cx="215.3" cy="43.3" r="1.1"/><circle cx="220.5" cy="81.9" r="1.1"/><circle cx="157.0" cy="68.0" r="1.1"/><circle cx="196.0" cy="41.7" r="1.1"/><circle cx="163.9" cy="33.6" r="1.1"/><circle cx="77.7" cy="126.4" r="1.1"/><circle cx="98.3" cy="122.6" r="1.1"/><circle cx="60.1" cy="134.6" r="1.1"/><circle cx="62.1" cy="134.6" r="1.1"/><circle cx="65.6" cy="135.8" r="1.1"/><circle cx="79.5" cy="136.6" r="1.1"/><circle cx="88.4" cy="132.3" r="1.1"/><circle cx="179.1" cy="117.0" r="1.1"/></g>
<text transform="translate(77.8,124.0) scale(0.868,1)" font-size="8.2" text-anchor="middle" fill="#000">9</text>
<text transform="translate(98.0,120.2) scale(0.868,1)" font-size="8.2" text-anchor="middle" fill="#000">3</text>
<text transform="translate(60.3,132.2) scale(0.868,1)" font-size="8.2" text-anchor="middle" fill="#000">7</text>
<text transform="translate(61.8,132.2) scale(0.868,1)" font-size="8.2" text-anchor="middle" fill="#000">4</text>
<text transform="translate(65.8,133.4) scale(0.868,1)" font-size="8.2" text-anchor="middle" fill="#000">2</text>
<text transform="translate(79.3,134.2) scale(0.868,1)" font-size="8.2" text-anchor="middle" fill="#000">5</text>
<text transform="translate(88.6,129.9) scale(0.868,1)" font-size="8.2" text-anchor="middle" fill="#000">16</text>
<text transform="translate(179.0,114.6) scale(0.868,1)" font-size="8.2" text-anchor="middle" fill="#000">10</text>
<rect x="165.9" y="3.5" width="92.1" height="7.8" fill="#fff" stroke="#444" stroke-width="0.7"/>
<text transform="translate(203.5,10.0) scale(0.868,1)" font-size="8.2" text-anchor="middle" fill="#000">Kv11-2CK4-run3</text>
<circle cx="244" cy="7.4" r="1.1" fill="#ff0000"/>
</g>
<g transform="translate(261.2,232.7)">
<polygon points="32.3,129.2 85.4,146.1 108.4,136.4 55.3,119.4" fill="#e6e6d8"/>
<polygon points="32.3,129.2 55.3,119.4 55.3,76.7 32.3,86.5" fill="#e6e6d8"/>
<line x1="50.0" y1="134.8" x2="141.9" y2="95.8" stroke="#808080" stroke-width="0.6" stroke-dasharray="4,1"/>
<line x1="67.7" y1="140.5" x2="159.6" y2="101.4" stroke="#808080" stroke-width="0.6" stroke-dasharray="4,1"/>
<line x1="85.4" y1="146.1" x2="177.3" y2="107.0" stroke="#808080" stroke-width="0.6" stroke-dasharray="4,1"/>
<line x1="103.1" y1="151.8" x2="195.0" y2="112.7" stroke="#808080" stroke-width="0.6" stroke-dasharray="4,1"/>
<line x1="120.8" y1="157.4" x2="212.7" y2="118.3" stroke="#808080" stroke-width="0.6" stroke-dasharray="4,1"/>
<line x1="55.3" y1="119.4" x2="161.5" y2="153.3" stroke="#808080" stroke-width="0.6" stroke-dasharray="4,1"/>
<line x1="78.2" y1="109.6" x2="184.4" y2="143.6" stroke="#808080" stroke-width="0.6" stroke-dasharray="4,1"/>
<line x1="101.2" y1="99.9" x2="207.4" y2="133.8" stroke="#808080" stroke-width="0.6" stroke-dasharray="4,1"/>
<line x1="32.3" y1="129.2" x2="138.5" y2="163.1" stroke="#444" stroke-width="0.7"/>
<line x1="138.5" y1="163.1" x2="230.4" y2="124.0" stroke="#444" stroke-width="0.7"/>
<line x1="32.3" y1="129.2" x2="124.2" y2="90.1" stroke="#444" stroke-width="0.7"/>
<line x1="124.2" y1="90.1" x2="230.4" y2="124.0" stroke="#444" stroke-width="0.7"/>
<line x1="32.3" y1="129.2" x2="32.3" y2="40.6" stroke="#999" stroke-width="0.9"/>
<line x1="124.2" y1="90.1" x2="124.2" y2="3.5" stroke="#999" stroke-width="0.9"/>
<line x1="230.4" y1="124.0" x2="230.4" y2="35.4" stroke="#999" stroke-width="0.9"/>
<line x1="31.8" y1="40.6" x2="118.4" y2="3.7" stroke="#444" stroke-width="0.7"/>
<line x1="131.7" y1="3.9" x2="230.4" y2="35.4" stroke="#444" stroke-width="0.7"/>
<line x1="29.5" y1="41.6" x2="32.3" y2="41.6" stroke="#666" stroke-width="0.6"/>
<text transform="translate(25.2,44.1) scale(0.868,1)" font-size="8.2" text-anchor="end" fill="#000">0</text>
<line x1="29.5" y1="53.8" x2="32.3" y2="53.8" stroke="#666" stroke-width="0.6"/>
<text transform="translate(25.2,56.3) scale(0.868,1)" font-size="8.2" text-anchor="end" fill="#000">-20</text>
<line x1="29.5" y1="66.0" x2="32.3" y2="66.0" stroke="#666" stroke-width="0.6"/>
<text transform="translate(25.2,68.5) scale(0.868,1)" font-size="8.2" text-anchor="end" fill="#000">-40</text>
<line x1="29.5" y1="78.2" x2="32.3" y2="78.2" stroke="#666" stroke-width="0.6"/>
<text transform="translate(25.2,80.7) scale(0.868,1)" font-size="8.2" text-anchor="end" fill="#000">-60</text>
<line x1="29.5" y1="90.4" x2="32.3" y2="90.4" stroke="#666" stroke-width="0.6"/>
<text transform="translate(25.2,92.9) scale(0.868,1)" font-size="8.2" text-anchor="end" fill="#000">-80</text>
<line x1="29.5" y1="102.7" x2="32.3" y2="102.7" stroke="#666" stroke-width="0.6"/>
<text transform="translate(25.2,105.2) scale(0.868,1)" font-size="8.2" text-anchor="end" fill="#000">-100</text>
<line x1="29.5" y1="114.9" x2="32.3" y2="114.9" stroke="#666" stroke-width="0.6"/>
<text transform="translate(25.2,117.4) scale(0.868,1)" font-size="8.2" text-anchor="end" fill="#000">-120</text>
<line x1="29.5" y1="127.1" x2="32.3" y2="127.1" stroke="#666" stroke-width="0.6"/>
<text transform="translate(25.2,129.6) scale(0.868,1)" font-size="8.2" text-anchor="end" fill="#000">-140</text>
<text transform="translate(27.3,135.1) scale(0.868,1)" font-size="8.2" text-anchor="end" fill="#000">0</text>
<text transform="translate(45.0,140.8) scale(0.868,1)" font-size="8.2" text-anchor="end" fill="#000">2</text>
<text transform="translate(62.7,146.4) scale(0.868,1)" font-size="8.2" text-anchor="end" fill="#000">4</text>
<text transform="translate(80.4,152.0) scale(0.868,1)" font-size="8.2" text-anchor="end" fill="#000">6</text>
<text transform="translate(98.1,157.7) scale(0.868,1)" font-size="8.2" text-anchor="end" fill="#000">8</text>
<text transform="translate(115.8,163.3) scale(0.868,1)" font-size="8.2" text-anchor="end" fill="#000">10</text>
<text transform="translate(133.5,169.0) scale(0.868,1)" font-size="8.2" text-anchor="end" fill="#000">12</text>
<text transform="translate(139.3,167.8) scale(0.868,1)" font-size="8.2" text-anchor="start" fill="#000">0</text>
<text transform="translate(162.3,158.0) scale(0.868,1)" font-size="8.2" text-anchor="start" fill="#000">5</text>
<text transform="translate(185.2,148.2) scale(0.868,1)" font-size="8.2" text-anchor="start" fill="#000">10</text>
<text transform="translate(208.2,138.5) scale(0.868,1)" font-size="8.2" text-anchor="start" fill="#000">15</text>
<text transform="translate(231.2,128.7) scale(0.868,1)" font-size="8.2" text-anchor="start" fill="#000">20</text>
<text transform="translate(47.9,15.2) scale(0.868,1)" font-size="8.2" text-anchor="middle" fill="#000">HADDOCK energy,</text>
<text transform="translate(49.3,22.0) scale(0.868,1)" font-size="8.2" text-anchor="middle" fill="#000">Kcal/mol</text>
<text transform="translate(62.0,172.9) scale(0.868,1)" font-size="8.2" text-anchor="middle" fill="#000">β-sheet Cα-RMSD with 2A9H.pdb,</text>
<text transform="translate(62.7,180.2) scale(0.868,1)" font-size="8.2" text-anchor="middle" fill="#000">Angs.</text>
<text transform="translate(206.3,169.3) scale(0.868,1)" font-size="8.2" text-anchor="middle" fill="#000">pore-Lys Y377-plane separation,</text>
<text transform="translate(207.6,176.4) scale(0.868,1)" font-size="8.2" text-anchor="middle" fill="#000">Angs.</text>
<g fill="#00ee00"><circle cx="34.9" cy="124.7" r="1.1"/><circle cx="37.5" cy="114.5" r="1.1"/><circle cx="41.7" cy="102.4" r="1.1"/><circle cx="48.6" cy="78.0" r="1.1"/><circle cx="91.6" cy="74.7" r="1.1"/><circle cx="76.7" cy="78.0" r="1.1"/><circle cx="89.7" cy="51.1" r="1.1"/><circle cx="76.7" cy="69.6" r="1.1"/><circle cx="73.9" cy="51.5" r="1.1"/><circle cx="74.5" cy="70.2" r="1.1"/><circle cx="76.1" cy="60.9" r="1.1"/><circle cx="87.2" cy="76.9" r="1.1"/><circle cx="91.7" cy="72.4" r="1.1"/><circle cx="87.6" cy="41.9" r="1.1"/><circle cx="82.4" cy="75.3" r="1.1"/><circle cx="89.4" cy="57.9" r="1.1"/><circle cx="88.1" cy="62.6" r="1.1"/><circle cx="83.8" cy="60.1" r="1.1"/><circle cx="74.9" cy="44.3" r="1.1"/><circle cx="98.2" cy="41.7" r="1.1"/><circle cx="115.2" cy="72.0" r="1.1"/><circle cx="119.1" cy="54.8" r="1.1"/><circle cx="113.8" cy="59.3" r="1.1"/><circle cx="107.8" cy="44.1" r="1.1"/><circle cx="111.2" cy="52.3" r="1.1"/><circle cx="113.1" cy="36.2" r="1.1"/><circle cx="121.8" cy="62.2" r="1.1"/><circle cx="107.9" cy="22.4" r="1.1"/><circle cx="99.8" cy="42.7" r="1.1"/><circle cx="109.0" cy="33.1" r="1.1"/><circle cx="118.2" cy="24.3" r="1.1"/><circle cx="122.5" cy="17.3" r="1.1"/><circle cx="116.4" cy="29.5" r="1.1"/><circle cx="95.9" cy="45.4" r="1.1"/><circle cx="108.6" cy="47.7" r="1.1"/><circle cx="115.7" cy="43.4" r="1.1"/><circle cx="100.6" cy="52.1" r="1.1"/><circle cx="120.4" cy="64.5" r="1.1"/><circle cx="96.5" cy="30.3" r="1.1"/><circle cx="104.6" cy="38.9" r="1.1"/><circle cx="99.1" cy="20.8" r="1.1"/><circle cx="111.8" cy="61.6" r="1.1"/><circle cx="107.7" cy="60.9" r="1.1"/><circle cx="115.9" cy="57.1" r="1.1"/><circle cx="111.3" cy="65.0" r="1.1"/><circle cx="111.6" cy="42.1" r="1.1"/><circle cx="111.4" cy="56.4" r="1.1"/><circle cx="104.0" cy="49.4" r="1.1"/><circle cx="103.9" cy="47.2" r="1.1"/><circle cx="114.0" cy="71.8" r="1.1"/><circle cx="102.1" cy="42.3" r="1.1"/><circle cx="101.4" cy="50.7" r="1.1"/><circle cx="112.3" cy="69.1" r="1.1"/><circle cx="112.4" cy="22.7" r="1.1"/><circle cx="116.2" cy="63.9" r="1.1"/><circle cx="109.2" cy="50.8" r="1.1"/><circle cx="101.6" cy="42.1" r="1.1"/><circle cx="118.8" cy="53.4" r="1.1"/><circle cx="112.3" cy="46.3" r="1.1"/><circle cx="112.9" cy="60.9" r="1.1"/><circle cx="112.8" cy="33.6" r="1.1"/><circle cx="105.1" cy="22.5" r="1.1"/><circle cx="120.2" cy="51.6" r="1.1"/><circle cx="122.4" cy="74.4" r="1.1"/><circle cx="101.8" cy="51.3" r="1.1"/><circle cx="116.9" cy="15.6" r="1.1"/><circle cx="114.2" cy="53.7" r="1.1"/><circle cx="107.0" cy="65.5" r="1.1"/><circle cx="101.6" cy="57.7" r="1.1"/><circle cx="122.7" cy="43.3" r="1.1"/><circle cx="111.7" cy="75.8" r="1.1"/><circle cx="116.9" cy="72.4" r="1.1"/><circle cx="111.7" cy="63.4" r="1.1"/><circle cx="117.5" cy="20.8" r="1.1"/><circle cx="106.0" cy="44.9" r="1.1"/><circle cx="110.7" cy="55.1" r="1.1"/><circle cx="114.8" cy="45.6" r="1.1"/><circle cx="110.4" cy="49.2" r="1.1"/><circle cx="107.8" cy="76.5" r="1.1"/><circle cx="111.9" cy="56.9" r="1.1"/><circle cx="116.4" cy="40.0" r="1.1"/><circle cx="121.8" cy="48.3" r="1.1"/><circle cx="119.7" cy="54.6" r="1.1"/><circle cx="105.2" cy="40.5" r="1.1"/><circle cx="97.6" cy="66.4" r="1.1"/><circle cx="101.1" cy="18.4" r="1.1"/><circle cx="120.9" cy="42.6" r="1.1"/><circle cx="115.0" cy="48.8" r="1.1"/><circle cx="97.0" cy="46.7" r="1.1"/><circle cx="119.7" cy="40.2" r="1.1"/><circle cx="107.4" cy="51.3" r="1.1"/><circle cx="103.6" cy="54.8" r="1.1"/><circle cx="101.2" cy="19.4" r="1.1"/><circle cx="118.1" cy="55.1" r="1.1"/><circle cx="112.4" cy="30.6" r="1.1"/><circle cx="115.3" cy="27.3" r="1.1"/><circle cx="107.5" cy="41.8" r="1.1"/><circle cx="112.0" cy="50.8" r="1.1"/><circle cx="120.7" cy="58.0" r="1.1"/><circle cx="121.7" cy="41.1" r="1.1"/><circle cx="114.1" cy="17.4" r="1.1"/><circle cx="117.4" cy="44.5" r="1.1"/><circle cx="103.7" cy="77.1" r="1.1"/><circle cx="106.0" cy="56.0" r="1.1"/><circle cx="113.0" cy="68.1" r="1.1"/><circle cx="106.4" cy="61.7" r="1.1"/><circle cx="110.8" cy="48.0" r="1.1"/><circle cx="111.2" cy="28.2" r="1.1"/><circle cx="118.2" cy="60.8" r="1.1"/><circle cx="113.0" cy="92.1" r="1.1"/><circle cx="154.4" cy="53.9" r="1.1"/><circle cx="164.5" cy="54.9" r="1.1"/><circle cx="173.0" cy="63.2" r="1.1"/><circle cx="176.4" cy="51.1" r="1.1"/><circle cx="152.6" cy="46.3" r="1.1"/><circle cx="146.5" cy="54.2" r="1.1"/><circle cx="164.4" cy="72.5" r="1.1"/><circle cx="169.0" cy="56.7" r="1.1"/><circle cx="164.8" cy="94.2" r="1.1"/><circle cx="155.6" cy="56.8" r="1.1"/><circle cx="151.1" cy="93.3" r="1.1"/><circle cx="166.0" cy="69.7" r="1.1"/><circle cx="161.4" cy="49.0" r="1.1"/><circle cx="152.4" cy="80.0" r="1.1"/><circle cx="153.3" cy="70.7" r="1.1"/><circle cx="174.8" cy="54.2" r="1.1"/><circle cx="177.2" cy="77.1" r="1.1"/><circle cx="210.2" cy="59.8" r="1.1"/><circle cx="199.2" cy="92.6" r="1.1"/><circle cx="204.1" cy="66.8" r="1.1"/><circle cx="194.9" cy="83.2" r="1.1"/><circle cx="200.9" cy="66.5" r="1.1"/><circle cx="206.4" cy="91.5" r="1.1"/><circle cx="195.4" cy="53.8" r="1.1"/><circle cx="196.8" cy="44.6" r="1.1"/><circle cx="193.4" cy="76.3" r="1.1"/><circle cx="191.0" cy="49.3" r="1.1"/><circle cx="214.8" cy="65.0" r="1.1"/><circle cx="204.2" cy="76.4" r="1.1"/><circle cx="190.2" cy="98.3" r="1.1"/><circle cx="193.9" cy="83.9" r="1.1"/><circle cx="200.7" cy="84.8" r="1.1"/><circle cx="178.3" cy="72.5" r="1.1"/><circle cx="200.1" cy="65.4" r="1.1"/><circle cx="192.1" cy="77.5" r="1.1"/><circle cx="184.4" cy="45.2" r="1.1"/><circle cx="201.8" cy="73.8" r="1.1"/><circle cx="193.1" cy="87.6" r="1.1"/><circle cx="200.7" cy="76.9" r="1.1"/><circle cx="188.3" cy="66.3" r="1.1"/><circle cx="206.4" cy="68.3" r="1.1"/><circle cx="200.9" cy="79.0" r="1.1"/><circle cx="192.6" cy="70.3" r="1.1"/><circle cx="189.5" cy="83.7" r="1.1"/><circle cx="199.6" cy="78.0" r="1.1"/><circle cx="205.0" cy="66.8" r="1.1"/><circle cx="190.2" cy="63.1" r="1.1"/><circle cx="211.6" cy="39.9" r="1.1"/><circle cx="204.7" cy="72.8" r="1.1"/><circle cx="199.5" cy="66.8" r="1.1"/><circle cx="180.5" cy="54.4" r="1.1"/><circle cx="183.6" cy="62.6" r="1.1"/><circle cx="197.6" cy="66.0" r="1.1"/><circle cx="186.3" cy="66.9" r="1.1"/><circle cx="213.4" cy="99.7" r="1.1"/><circle cx="214.8" cy="66.0" r="1.1"/><circle cx="210.4" cy="46.4" r="1.1"/><circle cx="196.5" cy="53.9" r="1.1"/><circle cx="187.8" cy="44.6" r="1.1"/><circle cx="194.9" cy="102.6" r="1.1"/><circle cx="187.7" cy="61.7" r="1.1"/><circle cx="200.3" cy="74.1" r="1.1"/><circle cx="191.4" cy="72.1" r="1.1"/><circle cx="213.4" cy="41.0" r="1.1"/><circle cx="190.1" cy="84.7" r="1.1"/><circle cx="183.9" cy="41.3" r="1.1"/><circle cx="180.7" cy="43.7" r="1.1"/><circle cx="189.7" cy="88.5" r="1.1"/><circle cx="189.5" cy="45.4" r="1.1"/><circle cx="188.8" cy="83.0" r="1.1"/><circle cx="207.0" cy="50.7" r="1.1"/><circle cx="188.1" cy="69.3" r="1.1"/><circle cx="193.7" cy="77.6" r="1.1"/><circle cx="197.2" cy="79.6" r="1.1"/><circle cx="199.6" cy="96.2" r="1.1"/><circle cx="175.4" cy="59.8" r="1.1"/><circle cx="187.1" cy="65.7" r="1.1"/><circle cx="184.1" cy="98.9" r="1.1"/><circle cx="204.0" cy="73.3" r="1.1"/><circle cx="190.7" cy="75.3" r="1.1"/><circle cx="191.4" cy="78.2" r="1.1"/><circle cx="179.4" cy="48.3" r="1.1"/><circle cx="181.1" cy="91.0" r="1.1"/><circle cx="202.7" cy="72.1" r="1.1"/><circle cx="209.6" cy="96.4" r="1.1"/><circle cx="194.5" cy="94.5" r="1.1"/><circle cx="207.2" cy="55.1" r="1.1"/><circle cx="184.6" cy="84.3" r="1.1"/><circle cx="188.3" cy="52.3" r="1.1"/><circle cx="190.8" cy="69.5" r="1.1"/><circle cx="215.8" cy="66.8" r="1.1"/><circle cx="212.2" cy="50.8" r="1.1"/><circle cx="199.4" cy="90.6" r="1.1"/><circle cx="191.0" cy="65.7" r="1.1"/><circle cx="202.7" cy="53.5" r="1.1"/><circle cx="192.5" cy="86.5" r="1.1"/><circle cx="192.4" cy="67.4" r="1.1"/><circle cx="196.8" cy="84.0" r="1.1"/><circle cx="213.7" cy="67.6" r="1.1"/><circle cx="202.0" cy="48.2" r="1.1"/><circle cx="192.2" cy="87.2" r="1.1"/><circle cx="212.6" cy="64.6" r="1.1"/><circle cx="187.2" cy="60.5" r="1.1"/><circle cx="204.0" cy="64.8" r="1.1"/><circle cx="210.1" cy="53.0" r="1.1"/><circle cx="182.4" cy="73.5" r="1.1"/><circle cx="228.8" cy="39.3" r="1.1"/><circle cx="57.6" cy="137.2" r="1.1"/><circle cx="79.9" cy="141.9" r="1.1"/><circle cx="175.1" cy="121.2" r="1.1"/><circle cx="180.4" cy="116.2" r="1.1"/><circle cx="181.4" cy="116.2" r="1.1"/><circle cx="184.2" cy="116.2" r="1.1"/><circle cx="184.6" cy="116.2" r="1.1"/><circle cx="196.2" cy="114.2" r="1.1"/><circle cx="197.1" cy="122.0" r="1.1"/></g>
<text transform="translate(57.2,134.8) scale(0.868,1)" font-size="8.2" text-anchor="middle" fill="#000">3</text>
<text transform="translate(79.6,139.5) scale(0.868,1)" font-size="8.2" text-anchor="middle" fill="#000">5</text>
<text transform="translate(175.4,118.8) scale(0.868,1)" font-size="8.2" text-anchor="middle" fill="#000">10</text>
<text transform="translate(180.0,113.8) scale(0.868,1)" font-size="8.2" text-anchor="middle" fill="#000">1</text>
<text transform="translate(182.0,113.8) scale(0.868,1)" font-size="8.2" text-anchor="middle" fill="#000">2</text>
<text transform="translate(184.0,113.8) scale(0.868,1)" font-size="8.2" text-anchor="middle" fill="#000">8</text>
<text transform="translate(185.0,113.8) scale(0.868,1)" font-size="8.2" text-anchor="middle" fill="#000">4</text>
<text transform="translate(196.4,111.8) scale(0.868,1)" font-size="8.2" text-anchor="middle" fill="#000">7</text>
<text transform="translate(197.0,119.6) scale(0.868,1)" font-size="8.2" text-anchor="middle" fill="#000">6</text>
<rect x="165.9" y="3.5" width="92.1" height="7.8" fill="#fff" stroke="#444" stroke-width="0.7"/>
<text transform="translate(203.5,10.0) scale(0.868,1)" font-size="8.2" text-anchor="middle" fill="#000">Kv12-2CK4-run3</text>
<circle cx="244" cy="7.4" r="1.1" fill="#00ee00"/>
</g>
<g transform="translate(522.4,232.7)">
<polygon points="32.3,129.2 85.4,146.1 108.4,136.4 55.3,119.4" fill="#e6e6d8"/>
<polygon points="32.3,129.2 55.3,119.4 55.3,76.7 32.3,86.5" fill="#e6e6d8"/>
<line x1="50.0" y1="134.8" x2="141.9" y2="95.8" stroke="#808080" stroke-width="0.6" stroke-dasharray="4,1"/>
<line x1="67.7" y1="140.5" x2="159.6" y2="101.4" stroke="#808080" stroke-width="0.6" stroke-dasharray="4,1"/>
<line x1="85.4" y1="146.1" x2="177.3" y2="107.0" stroke="#808080" stroke-width="0.6" stroke-dasharray="4,1"/>
<line x1="103.1" y1="151.8" x2="195.0" y2="112.7" stroke="#808080" stroke-width="0.6" stroke-dasharray="4,1"/>
<line x1="120.8" y1="157.4" x2="212.7" y2="118.3" stroke="#808080" stroke-width="0.6" stroke-dasharray="4,1"/>
<line x1="55.3" y1="119.4" x2="161.5" y2="153.3" stroke="#808080" stroke-width="0.6" stroke-dasharray="4,1"/>
<line x1="78.2" y1="109.6" x2="184.4" y2="143.6" stroke="#808080" stroke-width="0.6" stroke-dasharray="4,1"/>
<line x1="101.2" y1="99.9" x2="207.4" y2="133.8" stroke="#808080" stroke-width="0.6" stroke-dasharray="4,1"/>
<line x1="32.3" y1="129.2" x2="138.5" y2="163.1" stroke="#444" stroke-width="0.7"/>
<line x1="138.5" y1="163.1" x2="230.4" y2="124.0" stroke="#444" stroke-width="0.7"/>
<line x1="32.3" y1="129.2" x2="124.2" y2="90.1" stroke="#444" stroke-width="0.7"/>
<line x1="124.2" y1="90.1" x2="230.4" y2="124.0" stroke="#444" stroke-width="0.7"/>
<line x1="32.3" y1="129.2" x2="32.3" y2="40.6" stroke="#999" stroke-width="0.9"/>
<line x1="124.2" y1="90.1" x2="124.2" y2="3.5" stroke="#999" stroke-width="0.9"/>
<line x1="230.4" y1="124.0" x2="230.4" y2="35.4" stroke="#999" stroke-width="0.9"/>
<line x1="31.8" y1="40.6" x2="118.4" y2="3.7" stroke="#444" stroke-width="0.7"/>
<line x1="131.7" y1="3.9" x2="230.4" y2="35.4" stroke="#444" stroke-width="0.7"/>
<line x1="29.5" y1="41.6" x2="32.3" y2="41.6" stroke="#666" stroke-width="0.6"/>
<text transform="translate(25.2,44.1) scale(0.868,1)" font-size="8.2" text-anchor="end" fill="#000">0</text>
<line x1="29.5" y1="54.5" x2="32.3" y2="54.5" stroke="#666" stroke-width="0.6"/>
<text transform="translate(25.2,57.0) scale(0.868,1)" font-size="8.2" text-anchor="end" fill="#000">-20</text>
<line x1="29.5" y1="67.3" x2="32.3" y2="67.3" stroke="#666" stroke-width="0.6"/>
<text transform="translate(25.2,69.8) scale(0.868,1)" font-size="8.2" text-anchor="end" fill="#000">-40</text>
<line x1="29.5" y1="80.2" x2="32.3" y2="80.2" stroke="#666" stroke-width="0.6"/>
<text transform="translate(25.2,82.7) scale(0.868,1)" font-size="8.2" text-anchor="end" fill="#000">-60</text>
<line x1="29.5" y1="93.1" x2="32.3" y2="93.1" stroke="#666" stroke-width="0.6"/>
<text transform="translate(25.2,95.6) scale(0.868,1)" font-size="8.2" text-anchor="end" fill="#000">-80</text>
<line x1="29.5" y1="105.9" x2="32.3" y2="105.9" stroke="#666" stroke-width="0.6"/>
<text transform="translate(25.2,108.4) scale(0.868,1)" font-size="8.2" text-anchor="end" fill="#000">-100</text>
<line x1="29.5" y1="118.8" x2="32.3" y2="118.8" stroke="#666" stroke-width="0.6"/>
<text transform="translate(25.2,121.3) scale(0.868,1)" font-size="8.2" text-anchor="end" fill="#000">-120</text>
<text transform="translate(27.3,135.1) scale(0.868,1)" font-size="8.2" text-anchor="end" fill="#000">0</text>
<text transform="translate(45.0,140.8) scale(0.868,1)" font-size="8.2" text-anchor="end" fill="#000">2</text>
<text transform="translate(62.7,146.4) scale(0.868,1)" font-size="8.2" text-anchor="end" fill="#000">4</text>
<text transform="translate(80.4,152.0) scale(0.868,1)" font-size="8.2" text-anchor="end" fill="#000">6</text>
<text transform="translate(98.1,157.7) scale(0.868,1)" font-size="8.2" text-anchor="end" fill="#000">8</text>
<text transform="translate(115.8,163.3) scale(0.868,1)" font-size="8.2" text-anchor="end" fill="#000">10</text>
<text transform="translate(133.5,169.0) scale(0.868,1)" font-size="8.2" text-anchor="end" fill="#000">12</text>
<text transform="translate(139.3,167.8) scale(0.868,1)" font-size="8.2" text-anchor="start" fill="#000">0</text>
<text transform="translate(162.3,158.0) scale(0.868,1)" font-size="8.2" text-anchor="start" fill="#000">5</text>
<text transform="translate(185.2,148.2) scale(0.868,1)" font-size="8.2" text-anchor="start" fill="#000">10</text>
<text transform="translate(208.2,138.5) scale(0.868,1)" font-size="8.2" text-anchor="start" fill="#000">15</text>
<text transform="translate(231.2,128.7) scale(0.868,1)" font-size="8.2" text-anchor="start" fill="#000">20</text>
<text transform="translate(47.9,15.2) scale(0.868,1)" font-size="8.2" text-anchor="middle" fill="#000">HADDOCK energy,</text>
<text transform="translate(49.3,22.0) scale(0.868,1)" font-size="8.2" text-anchor="middle" fill="#000">Kcal/mol</text>
<text transform="translate(62.0,172.9) scale(0.868,1)" font-size="8.2" text-anchor="middle" fill="#000">β-sheet Cα-RMSD with 2A9H.pdb,</text>
<text transform="translate(62.7,180.2) scale(0.868,1)" font-size="8.2" text-anchor="middle" fill="#000">Angs.</text>
<text transform="translate(206.3,169.3) scale(0.868,1)" font-size="8.2" text-anchor="middle" fill="#000">pore-Lys Y377-plane separation,</text>
<text transform="translate(207.6,176.4) scale(0.868,1)" font-size="8.2" text-anchor="middle" fill="#000">Angs.</text>
<g fill="#0000ee"><circle cx="54.3" cy="83.5" r="1.1"/><circle cx="41.9" cy="107.8" r="1.1"/><circle cx="45.2" cy="96.1" r="1.1"/><circle cx="38.9" cy="105.4" r="1.1"/><circle cx="56.3" cy="103.3" r="1.1"/><circle cx="44.6" cy="95.9" r="1.1"/><circle cx="39.6" cy="95.1" r="1.1"/><circle cx="53.9" cy="86.7" r="1.1"/><circle cx="60.9" cy="89.4" r="1.1"/><circle cx="64.7" cy="85.5" r="1.1"/><circle cx="41.0" cy="89.2" r="1.1"/><circle cx="44.7" cy="86.7" r="1.1"/><circle cx="55.1" cy="73.8" r="1.1"/><circle cx="63.1" cy="87.8" r="1.1"/><circle cx="39.0" cy="98.9" r="1.1"/><circle cx="35.7" cy="75.9" r="1.1"/><circle cx="35.5" cy="89.1" r="1.1"/><circle cx="64.2" cy="86.1" r="1.1"/><circle cx="61.2" cy="83.4" r="1.1"/><circle cx="54.9" cy="98.5" r="1.1"/><circle cx="76.7" cy="76.8" r="1.1"/><circle cx="83.0" cy="68.5" r="1.1"/><circle cx="58.4" cy="65.7" r="1.1"/><circle cx="77.2" cy="59.8" r="1.1"/><circle cx="80.5" cy="68.0" r="1.1"/><circle cx="86.0" cy="48.4" r="1.1"/><circle cx="76.9" cy="39.6" r="1.1"/><circle cx="58.9" cy="41.6" r="1.1"/><circle cx="76.4" cy="54.8" r="1.1"/><circle cx="71.6" cy="47.2" r="1.1"/><circle cx="88.3" cy="59.2" r="1.1"/><circle cx="74.8" cy="65.8" r="1.1"/><circle cx="71.8" cy="62.1" r="1.1"/><circle cx="86.2" cy="47.7" r="1.1"/><circle cx="79.1" cy="67.6" r="1.1"/><circle cx="85.4" cy="51.4" r="1.1"/><circle cx="87.2" cy="74.8" r="1.1"/><circle cx="83.0" cy="88.8" r="1.1"/><circle cx="61.0" cy="64.0" r="1.1"/><circle cx="86.7" cy="40.1" r="1.1"/><circle cx="77.4" cy="62.0" r="1.1"/><circle cx="88.2" cy="88.4" r="1.1"/><circle cx="80.1" cy="34.9" r="1.1"/><circle cx="97.7" cy="71.7" r="1.1"/><circle cx="92.6" cy="29.0" r="1.1"/><circle cx="79.1" cy="31.5" r="1.1"/><circle cx="72.4" cy="77.1" r="1.1"/><circle cx="85.3" cy="88.6" r="1.1"/><circle cx="67.5" cy="92.8" r="1.1"/><circle cx="80.0" cy="77.3" r="1.1"/><circle cx="87.3" cy="69.9" r="1.1"/><circle cx="82.9" cy="24.2" r="1.1"/><circle cx="81.8" cy="58.8" r="1.1"/><circle cx="73.0" cy="37.5" r="1.1"/><circle cx="74.7" cy="45.5" r="1.1"/><circle cx="85.2" cy="42.3" r="1.1"/><circle cx="65.7" cy="65.8" r="1.1"/><circle cx="76.3" cy="62.2" r="1.1"/><circle cx="83.3" cy="45.9" r="1.1"/><circle cx="72.0" cy="65.4" r="1.1"/><circle cx="74.9" cy="58.3" r="1.1"/><circle cx="87.0" cy="64.1" r="1.1"/><circle cx="92.0" cy="40.3" r="1.1"/><circle cx="78.1" cy="52.7" r="1.1"/><circle cx="60.5" cy="71.5" r="1.1"/><circle cx="78.6" cy="39.3" r="1.1"/><circle cx="89.3" cy="70.7" r="1.1"/><circle cx="70.6" cy="49.1" r="1.1"/><circle cx="66.5" cy="45.6" r="1.1"/><circle cx="74.1" cy="57.9" r="1.1"/><circle cx="77.0" cy="30.2" r="1.1"/><circle cx="90.6" cy="76.3" r="1.1"/><circle cx="96.0" cy="57.5" r="1.1"/><circle cx="72.8" cy="40.9" r="1.1"/><circle cx="76.4" cy="83.8" r="1.1"/><circle cx="90.8" cy="75.2" r="1.1"/><circle cx="69.5" cy="34.9" r="1.1"/><circle cx="88.2" cy="59.3" r="1.1"/><circle cx="81.9" cy="80.0" r="1.1"/><circle cx="82.5" cy="83.7" r="1.1"/><circle cx="119.6" cy="45.4" r="1.1"/><circle cx="100.6" cy="51.6" r="1.1"/><circle cx="106.4" cy="63.5" r="1.1"/><circle cx="110.8" cy="42.1" r="1.1"/><circle cx="108.4" cy="21.8" r="1.1"/><circle cx="99.5" cy="48.7" r="1.1"/><circle cx="109.6" cy="69.8" r="1.1"/><circle cx="102.2" cy="69.5" r="1.1"/><circle cx="103.5" cy="71.5" r="1.1"/><circle cx="120.6" cy="47.6" r="1.1"/><circle cx="106.5" cy="53.9" r="1.1"/><circle cx="120.1" cy="41.3" r="1.1"/><circle cx="113.3" cy="64.2" r="1.1"/><circle cx="114.4" cy="72.1" r="1.1"/><circle cx="111.8" cy="81.1" r="1.1"/><circle cx="95.3" cy="30.4" r="1.1"/><circle cx="111.6" cy="51.3" r="1.1"/><circle cx="112.6" cy="47.7" r="1.1"/><circle cx="106.8" cy="47.4" r="1.1"/><circle cx="116.7" cy="80.5" r="1.1"/><circle cx="115.7" cy="24.6" r="1.1"/><circle cx="103.9" cy="51.0" r="1.1"/><circle cx="104.6" cy="70.4" r="1.1"/><circle cx="99.5" cy="33.4" r="1.1"/><circle cx="97.3" cy="81.6" r="1.1"/><circle cx="101.1" cy="51.2" r="1.1"/><circle cx="97.7" cy="22.6" r="1.1"/><circle cx="114.0" cy="26.5" r="1.1"/><circle cx="109.3" cy="35.4" r="1.1"/><circle cx="99.6" cy="48.0" r="1.1"/><circle cx="105.6" cy="54.3" r="1.1"/><circle cx="112.8" cy="25.7" r="1.1"/><circle cx="106.3" cy="52.6" r="1.1"/><circle cx="122.5" cy="11.2" r="1.1"/><circle cx="113.9" cy="66.1" r="1.1"/><circle cx="108.7" cy="59.9" r="1.1"/><circle cx="116.3" cy="17.9" r="1.1"/><circle cx="122.1" cy="26.7" r="1.1"/><circle cx="101.9" cy="80.1" r="1.1"/><circle cx="119.8" cy="64.4" r="1.1"/><circle cx="106.2" cy="44.6" r="1.1"/><circle cx="107.3" cy="72.4" r="1.1"/><circle cx="112.8" cy="52.1" r="1.1"/><circle cx="105.6" cy="46.5" r="1.1"/><circle cx="115.3" cy="67.1" r="1.1"/><circle cx="122.0" cy="15.8" r="1.1"/><circle cx="122.4" cy="40.8" r="1.1"/><circle cx="110.4" cy="16.7" r="1.1"/><circle cx="115.9" cy="70.0" r="1.1"/><circle cx="107.0" cy="86.6" r="1.1"/><circle cx="112.8" cy="30.8" r="1.1"/><circle cx="115.2" cy="59.4" r="1.1"/><circle cx="116.1" cy="47.4" r="1.1"/><circle cx="98.3" cy="32.0" r="1.1"/><circle cx="109.8" cy="48.0" r="1.1"/><circle cx="97.2" cy="37.3" r="1.1"/><circle cx="111.9" cy="43.2" r="1.1"/><circle cx="108.3" cy="36.6" r="1.1"/><circle cx="116.6" cy="22.5" r="1.1"/><circle cx="119.4" cy="46.6" r="1.1"/><circle cx="120.5" cy="5.7" r="1.1"/><circle cx="119.9" cy="32.6" r="1.1"/><circle cx="104.5" cy="13.7" r="1.1"/><circle cx="94.0" cy="47.2" r="1.1"/><circle cx="113.5" cy="59.6" r="1.1"/><circle cx="98.5" cy="20.2" r="1.1"/><circle cx="113.4" cy="44.4" r="1.1"/><circle cx="118.0" cy="45.2" r="1.1"/><circle cx="100.2" cy="71.8" r="1.1"/><circle cx="116.3" cy="44.6" r="1.1"/><circle cx="94.2" cy="76.0" r="1.1"/><circle cx="115.6" cy="26.1" r="1.1"/><circle cx="108.2" cy="86.4" r="1.1"/><circle cx="112.8" cy="66.3" r="1.1"/><circle cx="116.6" cy="46.8" r="1.1"/><circle cx="99.5" cy="54.0" r="1.1"/><circle cx="111.5" cy="14.1" r="1.1"/><circle cx="111.3" cy="68.2" r="1.1"/><circle cx="110.2" cy="57.8" r="1.1"/><circle cx="108.6" cy="27.9" r="1.1"/><circle cx="109.5" cy="17.1" r="1.1"/><circle cx="113.0" cy="16.3" r="1.1"/><circle cx="106.9" cy="36.3" r="1.1"/><circle cx="119.6" cy="18.5" r="1.1"/><circle cx="103.4" cy="38.3" r="1.1"/><circle cx="105.0" cy="25.3" r="1.1"/><circle cx="112.8" cy="83.8" r="1.1"/><circle cx="119.5" cy="44.6" r="1.1"/><circle cx="106.9" cy="40.2" r="1.1"/><circle cx="108.3" cy="47.8" r="1.1"/><circle cx="107.8" cy="23.4" r="1.1"/><circle cx="115.9" cy="80.7" r="1.1"/><circle cx="100.6" cy="60.2" r="1.1"/><circle cx="101.7" cy="30.8" r="1.1"/><circle cx="106.6" cy="28.6" r="1.1"/><circle cx="111.4" cy="70.8" r="1.1"/><circle cx="113.0" cy="26.5" r="1.1"/><circle cx="112.7" cy="62.0" r="1.1"/><circle cx="106.9" cy="55.7" r="1.1"/><circle cx="97.9" cy="51.3" r="1.1"/><circle cx="195.5" cy="66.7" r="1.1"/><circle cx="184.8" cy="79.1" r="1.1"/><circle cx="155.3" cy="95.6" r="1.1"/><circle cx="199.7" cy="88.1" r="1.1"/><circle cx="148.4" cy="84.7" r="1.1"/><circle cx="217.0" cy="31.4" r="1.1"/><circle cx="188.0" cy="57.2" r="1.1"/><circle cx="189.1" cy="74.0" r="1.1"/><circle cx="163.9" cy="48.9" r="1.1"/><circle cx="197.2" cy="86.1" r="1.1"/><circle cx="165.5" cy="79.3" r="1.1"/><circle cx="178.6" cy="75.5" r="1.1"/><circle cx="174.7" cy="51.8" r="1.1"/><circle cx="222.6" cy="74.9" r="1.1"/><circle cx="184.8" cy="49.8" r="1.1"/><circle cx="169.9" cy="59.0" r="1.1"/><circle cx="198.8" cy="52.7" r="1.1"/><circle cx="175.6" cy="54.5" r="1.1"/><circle cx="196.0" cy="55.8" r="1.1"/><circle cx="198.5" cy="63.1" r="1.1"/><circle cx="157.5" cy="84.2" r="1.1"/><circle cx="155.3" cy="88.7" r="1.1"/><circle cx="196.5" cy="85.7" r="1.1"/><circle cx="208.0" cy="66.1" r="1.1"/><circle cx="170.0" cy="78.6" r="1.1"/><circle cx="196.6" cy="72.2" r="1.1"/><circle cx="186.8" cy="57.2" r="1.1"/><circle cx="196.6" cy="47.8" r="1.1"/><circle cx="193.0" cy="83.5" r="1.1"/><circle cx="207.8" cy="87.8" r="1.1"/><circle cx="183.9" cy="95.3" r="1.1"/><circle cx="156.8" cy="75.6" r="1.1"/><circle cx="216.2" cy="84.9" r="1.1"/><circle cx="193.8" cy="87.4" r="1.1"/><circle cx="162.5" cy="60.7" r="1.1"/><circle cx="154.7" cy="62.0" r="1.1"/><circle cx="203.6" cy="63.3" r="1.1"/><circle cx="214.0" cy="68.1" r="1.1"/><circle cx="172.0" cy="87.4" r="1.1"/><circle cx="174.8" cy="67.6" r="1.1"/><circle cx="155.1" cy="54.6" r="1.1"/><circle cx="171.5" cy="57.2" r="1.1"/><circle cx="206.4" cy="85.0" r="1.1"/><circle cx="200.0" cy="90.7" r="1.1"/><circle cx="191.1" cy="64.0" r="1.1"/><circle cx="203.1" cy="44.4" r="1.1"/><circle cx="206.8" cy="64.4" r="1.1"/><circle cx="176.0" cy="76.8" r="1.1"/><circle cx="186.5" cy="59.1" r="1.1"/><circle cx="195.2" cy="81.0" r="1.1"/><circle cx="164.6" cy="45.8" r="1.1"/><circle cx="174.6" cy="96.1" r="1.1"/><circle cx="204.9" cy="59.3" r="1.1"/><circle cx="195.6" cy="78.1" r="1.1"/><circle cx="169.1" cy="76.6" r="1.1"/><circle cx="174.7" cy="90.5" r="1.1"/><circle cx="214.0" cy="54.0" r="1.1"/><circle cx="173.4" cy="87.5" r="1.1"/><circle cx="211.7" cy="103.8" r="1.1"/><circle cx="213.5" cy="72.5" r="1.1"/><circle cx="190.4" cy="36.4" r="1.1"/><circle cx="223.3" cy="71.5" r="1.1"/><circle cx="150.2" cy="81.3" r="1.1"/><circle cx="207.9" cy="79.3" r="1.1"/><circle cx="196.9" cy="63.3" r="1.1"/><circle cx="205.5" cy="50.6" r="1.1"/><circle cx="174.0" cy="72.2" r="1.1"/><circle cx="175.8" cy="67.2" r="1.1"/><circle cx="191.3" cy="71.4" r="1.1"/><circle cx="204.3" cy="88.6" r="1.1"/><circle cx="156.1" cy="96.4" r="1.1"/><circle cx="190.8" cy="82.1" r="1.1"/><circle cx="184.8" cy="41.1" r="1.1"/><circle cx="209.4" cy="79.8" r="1.1"/><circle cx="170.8" cy="40.5" r="1.1"/><circle cx="177.8" cy="104.2" r="1.1"/><circle cx="191.7" cy="38.0" r="1.1"/><circle cx="153.7" cy="85.8" r="1.1"/><circle cx="178.6" cy="74.4" r="1.1"/><circle cx="172.6" cy="80.6" r="1.1"/><circle cx="177.1" cy="59.2" r="1.1"/><circle cx="187.6" cy="55.8" r="1.1"/><circle cx="166.1" cy="63.5" r="1.1"/><circle cx="214.1" cy="66.0" r="1.1"/><circle cx="186.0" cy="82.8" r="1.1"/><circle cx="175.1" cy="94.1" r="1.1"/><circle cx="187.9" cy="54.0" r="1.1"/><circle cx="194.1" cy="67.7" r="1.1"/><circle cx="170.4" cy="72.8" r="1.1"/><circle cx="168.3" cy="79.5" r="1.1"/><circle cx="198.4" cy="60.0" r="1.1"/><circle cx="207.9" cy="56.7" r="1.1"/><circle cx="161.1" cy="72.9" r="1.1"/><circle cx="199.7" cy="47.2" r="1.1"/><circle cx="201.0" cy="72.3" r="1.1"/><circle cx="187.1" cy="66.8" r="1.1"/><circle cx="152.7" cy="41.8" r="1.1"/><circle cx="167.4" cy="82.3" r="1.1"/><circle cx="178.1" cy="66.9" r="1.1"/><circle cx="173.1" cy="74.5" r="1.1"/><circle cx="212.3" cy="38.7" r="1.1"/><circle cx="160.7" cy="48.7" r="1.1"/><circle cx="183.0" cy="94.6" r="1.1"/><circle cx="185.1" cy="58.2" r="1.1"/><circle cx="172.9" cy="79.0" r="1.1"/><circle cx="188.9" cy="94.4" r="1.1"/><circle cx="196.6" cy="71.5" r="1.1"/><circle cx="164.4" cy="68.1" r="1.1"/><circle cx="172.0" cy="62.6" r="1.1"/><circle cx="177.9" cy="70.0" r="1.1"/><circle cx="219.9" cy="60.8" r="1.1"/><circle cx="169.8" cy="37.3" r="1.1"/><circle cx="180.6" cy="37.3" r="1.1"/><circle cx="189.7" cy="69.2" r="1.1"/><circle cx="200.6" cy="73.6" r="1.1"/><circle cx="197.9" cy="56.7" r="1.1"/><circle cx="179.1" cy="59.5" r="1.1"/><circle cx="210.5" cy="72.9" r="1.1"/><circle cx="182.9" cy="59.2" r="1.1"/><circle cx="200.7" cy="43.4" r="1.1"/><circle cx="169.0" cy="58.6" r="1.1"/><circle cx="208.0" cy="79.0" r="1.1"/><circle cx="188.5" cy="46.9" r="1.1"/><circle cx="167.8" cy="89.5" r="1.1"/><circle cx="192.9" cy="69.9" r="1.1"/><circle cx="158.1" cy="75.7" r="1.1"/><circle cx="177.1" cy="64.6" r="1.1"/><circle cx="223.6" cy="99.3" r="1.1"/><circle cx="197.5" cy="85.2" r="1.1"/><circle cx="189.2" cy="91.6" r="1.1"/><circle cx="192.8" cy="50.7" r="1.1"/><circle cx="170.5" cy="49.4" r="1.1"/><circle cx="201.7" cy="63.0" r="1.1"/><circle cx="175.9" cy="82.0" r="1.1"/><circle cx="151.2" cy="44.9" r="1.1"/><circle cx="209.1" cy="82.8" r="1.1"/><circle cx="216.3" cy="86.6" r="1.1"/><circle cx="202.3" cy="90.5" r="1.1"/><circle cx="163.4" cy="80.0" r="1.1"/><circle cx="186.5" cy="66.4" r="1.1"/><circle cx="193.1" cy="51.2" r="1.1"/><circle cx="174.3" cy="54.9" r="1.1"/><circle cx="183.5" cy="81.4" r="1.1"/><circle cx="176.5" cy="66.7" r="1.1"/><circle cx="174.5" cy="35.6" r="1.1"/><circle cx="184.3" cy="55.4" r="1.1"/><circle cx="170.8" cy="37.8" r="1.1"/><circle cx="187.1" cy="55.2" r="1.1"/><circle cx="168.0" cy="60.1" r="1.1"/><circle cx="188.1" cy="82.6" r="1.1"/><circle cx="175.8" cy="102.8" r="1.1"/><circle cx="192.0" cy="77.1" r="1.1"/><circle cx="193.9" cy="90.9" r="1.1"/><circle cx="159.3" cy="67.3" r="1.1"/><circle cx="204.2" cy="48.9" r="1.1"/><circle cx="179.5" cy="82.2" r="1.1"/><circle cx="191.4" cy="82.6" r="1.1"/><circle cx="198.5" cy="76.5" r="1.1"/><circle cx="176.0" cy="69.7" r="1.1"/><circle cx="150.4" cy="84.5" r="1.1"/><circle cx="183.1" cy="64.3" r="1.1"/><circle cx="217.7" cy="100.0" r="1.1"/><circle cx="167.8" cy="78.6" r="1.1"/><circle cx="214.9" cy="71.1" r="1.1"/><circle cx="184.1" cy="73.9" r="1.1"/><circle cx="199.8" cy="75.4" r="1.1"/><circle cx="190.5" cy="64.5" r="1.1"/><circle cx="151.5" cy="78.3" r="1.1"/><circle cx="200.7" cy="58.7" r="1.1"/><circle cx="177.3" cy="73.1" r="1.1"/><circle cx="167.8" cy="28.0" r="1.1"/><circle cx="187.0" cy="60.3" r="1.1"/><circle cx="177.7" cy="101.3" r="1.1"/><circle cx="189.6" cy="98.1" r="1.1"/><circle cx="220.0" cy="58.0" r="1.1"/><circle cx="166.9" cy="55.2" r="1.1"/><circle cx="154.7" cy="94.4" r="1.1"/><circle cx="225.1" cy="83.9" r="1.1"/><circle cx="189.2" cy="54.0" r="1.1"/><circle cx="172.1" cy="75.3" r="1.1"/><circle cx="174.8" cy="61.7" r="1.1"/><circle cx="151.9" cy="73.6" r="1.1"/><circle cx="142.9" cy="31.8" r="1.1"/><circle cx="155.0" cy="69.6" r="1.1"/><circle cx="189.7" cy="73.8" r="1.1"/><circle cx="162.8" cy="97.7" r="1.1"/><circle cx="176.8" cy="30.7" r="1.1"/><circle cx="200.7" cy="100.4" r="1.1"/><circle cx="170.4" cy="81.1" r="1.1"/><circle cx="182.6" cy="75.6" r="1.1"/><circle cx="210.6" cy="59.2" r="1.1"/><circle cx="173.8" cy="24.0" r="1.1"/><circle cx="147.5" cy="84.9" r="1.1"/><circle cx="214.4" cy="62.0" r="1.1"/><circle cx="183.1" cy="72.1" r="1.1"/><circle cx="158.8" cy="48.8" r="1.1"/><circle cx="160.5" cy="43.0" r="1.1"/><circle cx="220.5" cy="52.7" r="1.1"/><circle cx="217.6" cy="62.1" r="1.1"/><circle cx="184.1" cy="38.5" r="1.1"/><circle cx="53.6" cy="135.2" r="1.1"/><circle cx="87.2" cy="125.0" r="1.1"/><circle cx="87.2" cy="129.4" r="1.1"/><circle cx="152.1" cy="124.4" r="1.1"/><circle cx="153.4" cy="129.4" r="1.1"/><circle cx="169.0" cy="125.0" r="1.1"/><circle cx="169.6" cy="116.8" r="1.1"/><circle cx="184.1" cy="116.8" r="1.1"/><circle cx="188.5" cy="116.8" r="1.1"/><circle cx="195.6" cy="116.2" r="1.1"/></g>
<text transform="translate(53.2,132.8) scale(0.868,1)" font-size="8.2" text-anchor="middle" fill="#000">1</text>
<text transform="translate(87.6,122.6) scale(0.868,1)" font-size="8.2" text-anchor="middle" fill="#000">4</text>
<text transform="translate(86.7,127.0) scale(0.868,1)" font-size="8.2" text-anchor="middle" fill="#000">7</text>
<text transform="translate(152.4,122.0) scale(0.868,1)" font-size="8.2" text-anchor="middle" fill="#000">7</text>
<text transform="translate(153.0,127.0) scale(0.868,1)" font-size="8.2" text-anchor="middle" fill="#000">6</text>
<text transform="translate(168.5,122.6) scale(0.868,1)" font-size="8.2" text-anchor="middle" fill="#000">3</text>
<text transform="translate(169.9,114.4) scale(0.868,1)" font-size="8.2" text-anchor="middle" fill="#000">2</text>
<text transform="translate(184.5,114.4) scale(0.868,1)" font-size="8.2" text-anchor="middle" fill="#000">9</text>
<text transform="translate(188.9,114.4) scale(0.868,1)" font-size="8.2" text-anchor="middle" fill="#000">8</text>
<text transform="translate(196.2,113.8) scale(0.868,1)" font-size="8.2" text-anchor="middle" fill="#000">10</text>
<rect x="165.9" y="3.5" width="92.1" height="7.8" fill="#fff" stroke="#444" stroke-width="0.7"/>
<text transform="translate(203.5,10.0) scale(0.868,1)" font-size="8.2" text-anchor="middle" fill="#000">Kv13-2CK4-run3</text>
<circle cx="244" cy="7.4" r="1.1" fill="#0000ee"/>
</g>
<g transform="translate(0.0,466.7)">
<polygon points="32.3,129.2 85.4,146.1 108.4,136.4 55.3,119.4" fill="#e6e6d8"/>
<polygon points="32.3,129.2 55.3,119.4 55.3,76.1 32.3,85.9" fill="#e6e6d8"/>
<line x1="50.0" y1="134.8" x2="141.9" y2="95.8" stroke="#808080" stroke-width="0.6" stroke-dasharray="4,1"/>
<line x1="67.7" y1="140.5" x2="159.6" y2="101.4" stroke="#808080" stroke-width="0.6" stroke-dasharray="4,1"/>
<line x1="85.4" y1="146.1" x2="177.3" y2="107.0" stroke="#808080" stroke-width="0.6" stroke-dasharray="4,1"/>
<line x1="103.1" y1="151.8" x2="195.0" y2="112.7" stroke="#808080" stroke-width="0.6" stroke-dasharray="4,1"/>
<line x1="120.8" y1="157.4" x2="212.7" y2="118.3" stroke="#808080" stroke-width="0.6" stroke-dasharray="4,1"/>
<line x1="55.3" y1="119.4" x2="161.5" y2="153.3" stroke="#808080" stroke-width="0.6" stroke-dasharray="4,1"/>
<line x1="78.2" y1="109.6" x2="184.4" y2="143.6" stroke="#808080" stroke-width="0.6" stroke-dasharray="4,1"/>
<line x1="101.2" y1="99.9" x2="207.4" y2="133.8" stroke="#808080" stroke-width="0.6" stroke-dasharray="4,1"/>
<line x1="32.3" y1="129.2" x2="138.5" y2="163.1" stroke="#444" stroke-width="0.7"/>
<line x1="138.5" y1="163.1" x2="230.4" y2="124.0" stroke="#444" stroke-width="0.7"/>
<line x1="32.3" y1="129.2" x2="124.2" y2="90.1" stroke="#444" stroke-width="0.7"/>
<line x1="124.2" y1="90.1" x2="230.4" y2="124.0" stroke="#444" stroke-width="0.7"/>
<line x1="32.3" y1="129.2" x2="32.3" y2="40.6" stroke="#999" stroke-width="0.9"/>
<line x1="124.2" y1="90.1" x2="124.2" y2="3.5" stroke="#999" stroke-width="0.9"/>
<line x1="230.4" y1="124.0" x2="230.4" y2="35.4" stroke="#999" stroke-width="0.9"/>
<line x1="31.8" y1="40.6" x2="118.4" y2="3.7" stroke="#444" stroke-width="0.7"/>
<line x1="131.7" y1="3.9" x2="230.4" y2="35.4" stroke="#444" stroke-width="0.7"/>
<line x1="29.5" y1="41.6" x2="32.3" y2="41.6" stroke="#666" stroke-width="0.6"/>
<text transform="translate(25.2,44.1) scale(0.868,1)" font-size="8.2" text-anchor="end" fill="#000">0</text>
<line x1="29.5" y1="51.2" x2="32.3" y2="51.2" stroke="#666" stroke-width="0.6"/>
<text transform="translate(25.2,53.7) scale(0.868,1)" font-size="8.2" text-anchor="end" fill="#000">-20</text>
<line x1="29.5" y1="60.8" x2="32.3" y2="60.8" stroke="#666" stroke-width="0.6"/>
<text transform="translate(25.2,63.3) scale(0.868,1)" font-size="8.2" text-anchor="end" fill="#000">-40</text>
<line x1="29.5" y1="70.5" x2="32.3" y2="70.5" stroke="#666" stroke-width="0.6"/>
<text transform="translate(25.2,73.0) scale(0.868,1)" font-size="8.2" text-anchor="end" fill="#000">-60</text>
<line x1="29.5" y1="80.1" x2="32.3" y2="80.1" stroke="#666" stroke-width="0.6"/>
<text transform="translate(25.2,82.6) scale(0.868,1)" font-size="8.2" text-anchor="end" fill="#000">-80</text>
<line x1="29.5" y1="89.7" x2="32.3" y2="89.7" stroke="#666" stroke-width="0.6"/>
<text transform="translate(25.2,92.2) scale(0.868,1)" font-size="8.2" text-anchor="end" fill="#000">-100</text>
<line x1="29.5" y1="99.3" x2="32.3" y2="99.3" stroke="#666" stroke-width="0.6"/>
<text transform="translate(25.2,101.8) scale(0.868,1)" font-size="8.2" text-anchor="end" fill="#000">-120</text>
<line x1="29.5" y1="108.9" x2="32.3" y2="108.9" stroke="#666" stroke-width="0.6"/>
<text transform="translate(25.2,111.4) scale(0.868,1)" font-size="8.2" text-anchor="end" fill="#000">-140</text>
<line x1="29.5" y1="118.6" x2="32.3" y2="118.6" stroke="#666" stroke-width="0.6"/>
<text transform="translate(25.2,121.1) scale(0.868,1)" font-size="8.2" text-anchor="end" fill="#000">-160</text>
<line x1="29.5" y1="128.2" x2="32.3" y2="128.2" stroke="#666" stroke-width="0.6"/>
<text transform="translate(25.2,130.7) scale(0.868,1)" font-size="8.2" text-anchor="end" fill="#000">-180</text>
<text transform="translate(27.3,135.1) scale(0.868,1)" font-size="8.2" text-anchor="end" fill="#000">0</text>
<text transform="translate(45.0,140.8) scale(0.868,1)" font-size="8.2" text-anchor="end" fill="#000">2</text>
<text transform="translate(62.7,146.4) scale(0.868,1)" font-size="8.2" text-anchor="end" fill="#000">4</text>
<text transform="translate(80.4,152.0) scale(0.868,1)" font-size="8.2" text-anchor="end" fill="#000">6</text>
<text transform="translate(98.1,157.7) scale(0.868,1)" font-size="8.2" text-anchor="end" fill="#000">8</text>
<text transform="translate(115.8,163.3) scale(0.868,1)" font-size="8.2" text-anchor="end" fill="#000">10</text>
<text transform="translate(133.5,169.0) scale(0.868,1)" font-size="8.2" text-anchor="end" fill="#000">12</text>
<text transform="translate(139.3,167.8) scale(0.868,1)" font-size="8.2" text-anchor="start" fill="#000">0</text>
<text transform="translate(162.3,158.0) scale(0.868,1)" font-size="8.2" text-anchor="start" fill="#000">5</text>
<text transform="translate(185.2,148.2) scale(0.868,1)" font-size="8.2" text-anchor="start" fill="#000">10</text>
<text transform="translate(208.2,138.5) scale(0.868,1)" font-size="8.2" text-anchor="start" fill="#000">15</text>
<text transform="translate(231.2,128.7) scale(0.868,1)" font-size="8.2" text-anchor="start" fill="#000">20</text>
<text transform="translate(47.9,15.2) scale(0.868,1)" font-size="8.2" text-anchor="middle" fill="#000">HADDOCK energy,</text>
<text transform="translate(49.3,22.0) scale(0.868,1)" font-size="8.2" text-anchor="middle" fill="#000">Kcal/mol</text>
<text transform="translate(62.0,172.9) scale(0.868,1)" font-size="8.2" text-anchor="middle" fill="#000">β-sheet Cα-RMSD with 2A9H.pdb,</text>
<text transform="translate(62.7,180.2) scale(0.868,1)" font-size="8.2" text-anchor="middle" fill="#000">Angs.</text>
<text transform="translate(206.3,169.3) scale(0.868,1)" font-size="8.2" text-anchor="middle" fill="#000">pore-Lys Y377-plane separation,</text>
<text transform="translate(207.6,176.4) scale(0.868,1)" font-size="8.2" text-anchor="middle" fill="#000">Angs.</text>
<g fill="#ff0000"><circle cx="48.5" cy="91.4" r="1.1"/><circle cx="51.6" cy="68.4" r="1.1"/><circle cx="42.8" cy="110.2" r="1.1"/><circle cx="41.8" cy="75.6" r="1.1"/><circle cx="47.4" cy="83.1" r="1.1"/><circle cx="43.9" cy="97.4" r="1.1"/><circle cx="46.3" cy="115.5" r="1.1"/><circle cx="52.9" cy="103.4" r="1.1"/><circle cx="49.1" cy="87.0" r="1.1"/><circle cx="45.8" cy="98.4" r="1.1"/><circle cx="47.3" cy="88.9" r="1.1"/><circle cx="39.7" cy="104.0" r="1.1"/><circle cx="87.2" cy="36.9" r="1.1"/><circle cx="67.7" cy="70.6" r="1.1"/><circle cx="68.6" cy="73.1" r="1.1"/><circle cx="83.8" cy="69.2" r="1.1"/><circle cx="114.3" cy="34.6" r="1.1"/><circle cx="78.9" cy="69.8" r="1.1"/><circle cx="75.8" cy="83.4" r="1.1"/><circle cx="87.7" cy="17.7" r="1.1"/><circle cx="108.6" cy="19.7" r="1.1"/><circle cx="79.1" cy="55.3" r="1.1"/><circle cx="99.1" cy="46.2" r="1.1"/><circle cx="92.1" cy="70.8" r="1.1"/><circle cx="107.7" cy="54.8" r="1.1"/><circle cx="58.0" cy="60.3" r="1.1"/><circle cx="93.6" cy="46.9" r="1.1"/><circle cx="52.0" cy="62.2" r="1.1"/><circle cx="51.2" cy="57.7" r="1.1"/><circle cx="85.5" cy="49.4" r="1.1"/><circle cx="88.7" cy="23.6" r="1.1"/><circle cx="66.7" cy="61.4" r="1.1"/><circle cx="109.5" cy="36.4" r="1.1"/><circle cx="68.0" cy="61.7" r="1.1"/><circle cx="78.8" cy="66.6" r="1.1"/><circle cx="50.9" cy="60.5" r="1.1"/><circle cx="97.9" cy="34.1" r="1.1"/><circle cx="90.5" cy="83.0" r="1.1"/><circle cx="59.9" cy="67.4" r="1.1"/><circle cx="92.5" cy="66.4" r="1.1"/><circle cx="96.4" cy="57.4" r="1.1"/><circle cx="64.7" cy="81.0" r="1.1"/><circle cx="112.5" cy="20.4" r="1.1"/><circle cx="68.9" cy="70.3" r="1.1"/><circle cx="100.3" cy="53.7" r="1.1"/><circle cx="99.6" cy="44.8" r="1.1"/><circle cx="86.6" cy="46.4" r="1.1"/><circle cx="62.8" cy="42.8" r="1.1"/><circle cx="110.5" cy="46.3" r="1.1"/><circle cx="76.8" cy="33.4" r="1.1"/><circle cx="110.5" cy="46.3" r="1.1"/><circle cx="94.9" cy="50.6" r="1.1"/><circle cx="85.9" cy="42.2" r="1.1"/><circle cx="55.7" cy="68.8" r="1.1"/><circle cx="81.6" cy="66.6" r="1.1"/><circle cx="84.1" cy="80.4" r="1.1"/><circle cx="97.2" cy="30.2" r="1.1"/><circle cx="94.3" cy="45.0" r="1.1"/><circle cx="111.7" cy="31.8" r="1.1"/><circle cx="113.8" cy="38.0" r="1.1"/><circle cx="83.2" cy="72.5" r="1.1"/><circle cx="77.4" cy="50.4" r="1.1"/><circle cx="122.5" cy="51.2" r="1.1"/><circle cx="85.9" cy="77.4" r="1.1"/><circle cx="121.1" cy="57.8" r="1.1"/><circle cx="74.7" cy="55.9" r="1.1"/><circle cx="111.3" cy="21.2" r="1.1"/><circle cx="79.5" cy="58.3" r="1.1"/><circle cx="57.2" cy="66.3" r="1.1"/><circle cx="86.4" cy="41.9" r="1.1"/><circle cx="111.1" cy="31.5" r="1.1"/><circle cx="95.8" cy="48.8" r="1.1"/><circle cx="55.0" cy="63.3" r="1.1"/><circle cx="79.9" cy="48.3" r="1.1"/><circle cx="105.5" cy="53.1" r="1.1"/><circle cx="74.9" cy="72.7" r="1.1"/><circle cx="75.6" cy="72.5" r="1.1"/><circle cx="114.9" cy="40.1" r="1.1"/><circle cx="108.1" cy="16.1" r="1.1"/><circle cx="49.5" cy="65.6" r="1.1"/><circle cx="75.8" cy="57.0" r="1.1"/><circle cx="43.8" cy="53.6" r="1.1"/><circle cx="122.9" cy="32.8" r="1.1"/><circle cx="82.4" cy="57.0" r="1.1"/><circle cx="111.9" cy="29.0" r="1.1"/><circle cx="98.2" cy="53.9" r="1.1"/><circle cx="97.5" cy="47.7" r="1.1"/><circle cx="83.5" cy="45.7" r="1.1"/><circle cx="86.5" cy="88.7" r="1.1"/><circle cx="110.3" cy="22.0" r="1.1"/><circle cx="73.0" cy="79.3" r="1.1"/><circle cx="100.7" cy="71.2" r="1.1"/><circle cx="109.3" cy="33.9" r="1.1"/><circle cx="63.4" cy="70.1" r="1.1"/><circle cx="101.9" cy="40.1" r="1.1"/><circle cx="104.5" cy="57.2" r="1.1"/><circle cx="69.0" cy="84.8" r="1.1"/><circle cx="64.7" cy="83.9" r="1.1"/><circle cx="76.5" cy="57.2" r="1.1"/><circle cx="65.6" cy="76.8" r="1.1"/><circle cx="101.6" cy="35.2" r="1.1"/><circle cx="77.3" cy="44.6" r="1.1"/><circle cx="109.7" cy="26.1" r="1.1"/><circle cx="90.4" cy="53.9" r="1.1"/><circle cx="81.2" cy="44.7" r="1.1"/><circle cx="86.7" cy="49.8" r="1.1"/><circle cx="52.5" cy="66.0" r="1.1"/><circle cx="88.5" cy="22.5" r="1.1"/><circle cx="119.5" cy="47.7" r="1.1"/><circle cx="83.0" cy="55.3" r="1.1"/><circle cx="105.3" cy="42.4" r="1.1"/><circle cx="101.8" cy="56.7" r="1.1"/><circle cx="78.9" cy="99.5" r="1.1"/><circle cx="87.1" cy="49.2" r="1.1"/><circle cx="91.4" cy="40.7" r="1.1"/><circle cx="71.4" cy="82.5" r="1.1"/><circle cx="82.7" cy="64.3" r="1.1"/><circle cx="106.6" cy="54.6" r="1.1"/><circle cx="115.1" cy="39.8" r="1.1"/><circle cx="98.7" cy="49.6" r="1.1"/><circle cx="107.0" cy="19.7" r="1.1"/><circle cx="107.8" cy="30.4" r="1.1"/><circle cx="80.4" cy="79.7" r="1.1"/><circle cx="94.6" cy="48.7" r="1.1"/><circle cx="61.3" cy="66.5" r="1.1"/><circle cx="99.2" cy="23.5" r="1.1"/><circle cx="83.9" cy="68.0" r="1.1"/><circle cx="74.9" cy="69.3" r="1.1"/><circle cx="74.6" cy="56.8" r="1.1"/><circle cx="113.8" cy="22.3" r="1.1"/><circle cx="72.7" cy="74.9" r="1.1"/><circle cx="111.0" cy="26.4" r="1.1"/><circle cx="66.3" cy="59.4" r="1.1"/><circle cx="100.5" cy="39.6" r="1.1"/><circle cx="95.0" cy="46.1" r="1.1"/><circle cx="59.8" cy="59.7" r="1.1"/><circle cx="83.8" cy="69.3" r="1.1"/><circle cx="61.3" cy="59.8" r="1.1"/><circle cx="47.6" cy="55.1" r="1.1"/><circle cx="97.9" cy="41.6" r="1.1"/><circle cx="114.7" cy="48.9" r="1.1"/><circle cx="80.0" cy="67.2" r="1.1"/><circle cx="87.4" cy="85.0" r="1.1"/><circle cx="74.2" cy="53.5" r="1.1"/><circle cx="123.2" cy="33.4" r="1.1"/><circle cx="101.4" cy="73.5" r="1.1"/><circle cx="99.2" cy="74.3" r="1.1"/><circle cx="100.0" cy="41.8" r="1.1"/><circle cx="89.6" cy="33.6" r="1.1"/><circle cx="89.3" cy="28.2" r="1.1"/><circle cx="72.8" cy="51.7" r="1.1"/><circle cx="65.7" cy="61.8" r="1.1"/><circle cx="70.6" cy="82.6" r="1.1"/><circle cx="85.6" cy="46.7" r="1.1"/><circle cx="51.2" cy="49.4" r="1.1"/><circle cx="96.7" cy="37.0" r="1.1"/><circle cx="97.6" cy="43.7" r="1.1"/><circle cx="57.9" cy="77.0" r="1.1"/><circle cx="52.2" cy="57.7" r="1.1"/><circle cx="107.3" cy="18.4" r="1.1"/><circle cx="102.6" cy="40.5" r="1.1"/><circle cx="56.9" cy="68.2" r="1.1"/><circle cx="104.9" cy="38.5" r="1.1"/><circle cx="63.6" cy="76.8" r="1.1"/><circle cx="85.4" cy="41.5" r="1.1"/><circle cx="88.9" cy="63.4" r="1.1"/><circle cx="102.9" cy="18.5" r="1.1"/><circle cx="107.2" cy="48.8" r="1.1"/><circle cx="75.3" cy="36.4" r="1.1"/><circle cx="87.1" cy="46.8" r="1.1"/><circle cx="59.0" cy="75.0" r="1.1"/><circle cx="74.4" cy="59.7" r="1.1"/><circle cx="103.1" cy="44.9" r="1.1"/><circle cx="58.5" cy="40.9" r="1.1"/><circle cx="111.8" cy="37.1" r="1.1"/><circle cx="83.3" cy="53.1" r="1.1"/><circle cx="60.4" cy="76.6" r="1.1"/><circle cx="103.8" cy="65.5" r="1.1"/><circle cx="69.7" cy="76.1" r="1.1"/><circle cx="71.9" cy="66.8" r="1.1"/><circle cx="99.8" cy="34.9" r="1.1"/><circle cx="50.2" cy="66.5" r="1.1"/><circle cx="74.2" cy="66.5" r="1.1"/><circle cx="81.4" cy="65.5" r="1.1"/><circle cx="66.0" cy="61.7" r="1.1"/><circle cx="78.1" cy="47.4" r="1.1"/><circle cx="95.6" cy="57.9" r="1.1"/><circle cx="94.0" cy="49.6" r="1.1"/><circle cx="102.3" cy="62.4" r="1.1"/><circle cx="108.3" cy="36.7" r="1.1"/><circle cx="83.1" cy="66.7" r="1.1"/><circle cx="100.4" cy="28.9" r="1.1"/><circle cx="94.4" cy="53.4" r="1.1"/><circle cx="59.8" cy="70.4" r="1.1"/><circle cx="106.9" cy="76.8" r="1.1"/><circle cx="101.6" cy="48.3" r="1.1"/><circle cx="120.7" cy="32.0" r="1.1"/><circle cx="63.0" cy="74.1" r="1.1"/><circle cx="90.9" cy="43.0" r="1.1"/><circle cx="89.6" cy="57.2" r="1.1"/><circle cx="94.6" cy="48.2" r="1.1"/><circle cx="114.9" cy="31.0" r="1.1"/><circle cx="80.1" cy="44.9" r="1.1"/><circle cx="66.9" cy="62.3" r="1.1"/><circle cx="75.5" cy="68.2" r="1.1"/><circle cx="113.5" cy="20.6" r="1.1"/><circle cx="89.1" cy="47.5" r="1.1"/><circle cx="65.9" cy="77.8" r="1.1"/><circle cx="92.2" cy="51.9" r="1.1"/><circle cx="104.2" cy="21.2" r="1.1"/><circle cx="92.5" cy="46.8" r="1.1"/><circle cx="54.9" cy="66.3" r="1.1"/><circle cx="187.8" cy="46.6" r="1.1"/><circle cx="169.4" cy="81.9" r="1.1"/><circle cx="189.4" cy="50.1" r="1.1"/><circle cx="161.0" cy="41.1" r="1.1"/><circle cx="191.2" cy="70.5" r="1.1"/><circle cx="213.2" cy="71.7" r="1.1"/><circle cx="178.8" cy="41.8" r="1.1"/><circle cx="213.4" cy="39.5" r="1.1"/><circle cx="197.6" cy="70.5" r="1.1"/><circle cx="155.2" cy="63.2" r="1.1"/><circle cx="179.8" cy="75.2" r="1.1"/><circle cx="189.4" cy="40.0" r="1.1"/><circle cx="153.1" cy="79.0" r="1.1"/><circle cx="173.2" cy="42.3" r="1.1"/><circle cx="194.4" cy="75.7" r="1.1"/><circle cx="158.7" cy="52.6" r="1.1"/><circle cx="166.0" cy="65.8" r="1.1"/><circle cx="165.6" cy="59.9" r="1.1"/><circle cx="190.9" cy="59.3" r="1.1"/><circle cx="177.1" cy="71.0" r="1.1"/><circle cx="168.1" cy="69.0" r="1.1"/><circle cx="199.9" cy="45.4" r="1.1"/><circle cx="165.1" cy="85.3" r="1.1"/><circle cx="149.7" cy="45.4" r="1.1"/><circle cx="188.1" cy="56.3" r="1.1"/><circle cx="172.5" cy="72.7" r="1.1"/><circle cx="192.1" cy="88.4" r="1.1"/><circle cx="154.6" cy="57.9" r="1.1"/><circle cx="171.2" cy="41.2" r="1.1"/><circle cx="184.8" cy="45.9" r="1.1"/><circle cx="189.2" cy="41.6" r="1.1"/><circle cx="175.2" cy="73.9" r="1.1"/><circle cx="192.0" cy="87.8" r="1.1"/><circle cx="189.2" cy="45.6" r="1.1"/><circle cx="206.9" cy="69.3" r="1.1"/><circle cx="197.8" cy="87.6" r="1.1"/><circle cx="185.8" cy="54.1" r="1.1"/><circle cx="190.3" cy="57.9" r="1.1"/><circle cx="154.7" cy="64.3" r="1.1"/><circle cx="196.5" cy="70.2" r="1.1"/><circle cx="177.3" cy="79.7" r="1.1"/><circle cx="168.1" cy="83.2" r="1.1"/><circle cx="155.7" cy="68.4" r="1.1"/><circle cx="166.7" cy="69.4" r="1.1"/><circle cx="173.9" cy="79.6" r="1.1"/><circle cx="150.1" cy="51.7" r="1.1"/><circle cx="171.2" cy="63.7" r="1.1"/><circle cx="163.6" cy="39.5" r="1.1"/><circle cx="191.7" cy="53.8" r="1.1"/><circle cx="161.4" cy="68.5" r="1.1"/><circle cx="175.1" cy="63.2" r="1.1"/><circle cx="154.6" cy="56.3" r="1.1"/><circle cx="184.9" cy="66.5" r="1.1"/><circle cx="184.2" cy="57.2" r="1.1"/><circle cx="154.8" cy="51.5" r="1.1"/><circle cx="196.8" cy="71.6" r="1.1"/><circle cx="206.8" cy="42.0" r="1.1"/><circle cx="188.8" cy="60.2" r="1.1"/><circle cx="193.1" cy="64.2" r="1.1"/><circle cx="208.8" cy="69.6" r="1.1"/><circle cx="186.5" cy="50.3" r="1.1"/><circle cx="199.3" cy="84.6" r="1.1"/><circle cx="179.8" cy="45.1" r="1.1"/><circle cx="161.4" cy="52.3" r="1.1"/><circle cx="179.6" cy="84.7" r="1.1"/><circle cx="154.2" cy="69.4" r="1.1"/><circle cx="194.2" cy="56.4" r="1.1"/><circle cx="159.4" cy="79.9" r="1.1"/><circle cx="175.6" cy="61.7" r="1.1"/><circle cx="170.8" cy="65.0" r="1.1"/><circle cx="189.0" cy="55.0" r="1.1"/><circle cx="174.7" cy="61.0" r="1.1"/><circle cx="155.9" cy="46.6" r="1.1"/><circle cx="168.4" cy="63.9" r="1.1"/><circle cx="173.5" cy="70.7" r="1.1"/><circle cx="196.7" cy="82.8" r="1.1"/><circle cx="173.4" cy="60.7" r="1.1"/><circle cx="172.2" cy="75.5" r="1.1"/><circle cx="197.0" cy="77.4" r="1.1"/><circle cx="161.7" cy="81.0" r="1.1"/><circle cx="204.6" cy="73.0" r="1.1"/><circle cx="185.3" cy="78.2" r="1.1"/><circle cx="169.0" cy="47.6" r="1.1"/><circle cx="181.2" cy="78.4" r="1.1"/><circle cx="173.7" cy="57.7" r="1.1"/><circle cx="188.2" cy="78.3" r="1.1"/><circle cx="198.6" cy="65.0" r="1.1"/><circle cx="197.0" cy="49.2" r="1.1"/><circle cx="212.7" cy="82.9" r="1.1"/><circle cx="165.0" cy="73.8" r="1.1"/><circle cx="198.7" cy="46.2" r="1.1"/><circle cx="176.8" cy="46.0" r="1.1"/><circle cx="183.2" cy="67.3" r="1.1"/><circle cx="153.2" cy="51.6" r="1.1"/><circle cx="168.7" cy="58.3" r="1.1"/><circle cx="204.6" cy="70.1" r="1.1"/><circle cx="199.6" cy="55.5" r="1.1"/><circle cx="193.4" cy="48.4" r="1.1"/><circle cx="173.4" cy="47.8" r="1.1"/><circle cx="181.4" cy="65.2" r="1.1"/><circle cx="201.4" cy="63.9" r="1.1"/><circle cx="173.6" cy="64.1" r="1.1"/><circle cx="169.9" cy="80.1" r="1.1"/><circle cx="181.6" cy="62.8" r="1.1"/><circle cx="186.8" cy="38.6" r="1.1"/><circle cx="155.0" cy="54.6" r="1.1"/><circle cx="209.0" cy="52.1" r="1.1"/><circle cx="191.7" cy="66.2" r="1.1"/><circle cx="188.7" cy="48.6" r="1.1"/><circle cx="185.2" cy="63.8" r="1.1"/><circle cx="168.6" cy="47.5" r="1.1"/><circle cx="203.6" cy="71.0" r="1.1"/><circle cx="197.8" cy="70.6" r="1.1"/><circle cx="202.6" cy="69.1" r="1.1"/><circle cx="166.9" cy="67.9" r="1.1"/><circle cx="195.8" cy="43.9" r="1.1"/><circle cx="190.4" cy="74.6" r="1.1"/><circle cx="186.7" cy="80.7" r="1.1"/><circle cx="186.5" cy="53.8" r="1.1"/><circle cx="202.2" cy="53.2" r="1.1"/><circle cx="191.4" cy="70.6" r="1.1"/><circle cx="151.5" cy="78.0" r="1.1"/><circle cx="200.2" cy="86.9" r="1.1"/><circle cx="173.5" cy="72.6" r="1.1"/><circle cx="169.6" cy="64.8" r="1.1"/><circle cx="168.1" cy="61.2" r="1.1"/><circle cx="163.0" cy="53.5" r="1.1"/><circle cx="190.2" cy="61.1" r="1.1"/><circle cx="194.9" cy="39.9" r="1.1"/><circle cx="178.9" cy="74.8" r="1.1"/><circle cx="179.4" cy="43.8" r="1.1"/><circle cx="154.7" cy="56.2" r="1.1"/><circle cx="158.1" cy="74.4" r="1.1"/><circle cx="171.6" cy="82.6" r="1.1"/><circle cx="184.5" cy="56.7" r="1.1"/><circle cx="192.9" cy="49.8" r="1.1"/><circle cx="173.4" cy="44.0" r="1.1"/><circle cx="170.9" cy="71.6" r="1.1"/><circle cx="204.1" cy="43.5" r="1.1"/><circle cx="200.0" cy="66.3" r="1.1"/><circle cx="175.3" cy="81.6" r="1.1"/><circle cx="194.2" cy="62.4" r="1.1"/><circle cx="177.3" cy="64.7" r="1.1"/><circle cx="188.6" cy="48.0" r="1.1"/><circle cx="175.4" cy="57.7" r="1.1"/><circle cx="146.0" cy="38.1" r="1.1"/><circle cx="203.8" cy="49.7" r="1.1"/><circle cx="187.2" cy="54.9" r="1.1"/><circle cx="173.1" cy="50.0" r="1.1"/><circle cx="158.4" cy="52.9" r="1.1"/><circle cx="202.4" cy="65.2" r="1.1"/><circle cx="229.4" cy="83.1" r="1.1"/><circle cx="210.7" cy="75.4" r="1.1"/><circle cx="196.4" cy="64.0" r="1.1"/><circle cx="217.1" cy="54.2" r="1.1"/><circle cx="227.8" cy="67.2" r="1.1"/><circle cx="197.2" cy="95.4" r="1.1"/><circle cx="200.5" cy="72.5" r="1.1"/><circle cx="204.7" cy="73.6" r="1.1"/><circle cx="223.9" cy="65.2" r="1.1"/><circle cx="208.4" cy="81.0" r="1.1"/><circle cx="218.8" cy="96.8" r="1.1"/><circle cx="225.7" cy="79.0" r="1.1"/><circle cx="223.9" cy="70.6" r="1.1"/><circle cx="212.4" cy="73.2" r="1.1"/><circle cx="214.9" cy="87.0" r="1.1"/><circle cx="224.6" cy="72.2" r="1.1"/><circle cx="229.4" cy="85.1" r="1.1"/><circle cx="213.2" cy="59.3" r="1.1"/><circle cx="219.2" cy="72.6" r="1.1"/><circle cx="201.9" cy="88.2" r="1.1"/><circle cx="215.4" cy="97.8" r="1.1"/><circle cx="217.4" cy="79.8" r="1.1"/><circle cx="217.1" cy="67.6" r="1.1"/><circle cx="226.2" cy="69.7" r="1.1"/><circle cx="224.4" cy="74.8" r="1.1"/><circle cx="212.5" cy="94.5" r="1.1"/><circle cx="210.2" cy="89.3" r="1.1"/><circle cx="218.4" cy="78.6" r="1.1"/><circle cx="206.6" cy="84.5" r="1.1"/><circle cx="206.3" cy="60.4" r="1.1"/><circle cx="199.7" cy="89.3" r="1.1"/><circle cx="203.4" cy="70.5" r="1.1"/><circle cx="215.3" cy="75.2" r="1.1"/><circle cx="205.8" cy="81.3" r="1.1"/><circle cx="209.9" cy="61.0" r="1.1"/><circle cx="227.2" cy="73.4" r="1.1"/><circle cx="200.7" cy="71.6" r="1.1"/><circle cx="217.2" cy="83.8" r="1.1"/><circle cx="208.3" cy="78.5" r="1.1"/><circle cx="204.0" cy="76.8" r="1.1"/><circle cx="227.5" cy="77.4" r="1.1"/><circle cx="200.6" cy="82.1" r="1.1"/><circle cx="210.7" cy="84.2" r="1.1"/><circle cx="205.3" cy="80.0" r="1.1"/><circle cx="195.9" cy="81.6" r="1.1"/><circle cx="208.9" cy="59.0" r="1.1"/><circle cx="209.9" cy="86.7" r="1.1"/><circle cx="220.3" cy="78.1" r="1.1"/><circle cx="218.8" cy="78.4" r="1.1"/><circle cx="214.1" cy="77.3" r="1.1"/><circle cx="150.7" cy="66.2" r="1.1"/><circle cx="213.3" cy="60.9" r="1.1"/><circle cx="154.8" cy="72.7" r="1.1"/><circle cx="229.2" cy="78.4" r="1.1"/><circle cx="200.9" cy="88.7" r="1.1"/><circle cx="182.7" cy="76.8" r="1.1"/><circle cx="214.3" cy="80.8" r="1.1"/><circle cx="206.9" cy="96.2" r="1.1"/><circle cx="183.3" cy="25.2" r="1.1"/><circle cx="180.9" cy="71.0" r="1.1"/><circle cx="165.7" cy="47.8" r="1.1"/><circle cx="156.4" cy="51.3" r="1.1"/><circle cx="228.9" cy="85.7" r="1.1"/><circle cx="224.6" cy="96.8" r="1.1"/><circle cx="66.4" cy="127.0" r="1.1"/><circle cx="76.1" cy="130.2" r="1.1"/><circle cx="92.8" cy="130.8" r="1.1"/><circle cx="65.2" cy="137.2" r="1.1"/><circle cx="141.2" cy="124.1" r="1.1"/><circle cx="148.2" cy="116.8" r="1.1"/><circle cx="170.3" cy="117.7" r="1.1"/><circle cx="182.6" cy="116.2" r="1.1"/><circle cx="195.0" cy="120.6" r="1.1"/><circle cx="172.0" cy="132.3" r="1.1"/></g>
<text transform="translate(66.7,124.6) scale(0.868,1)" font-size="8.2" text-anchor="middle" fill="#000">6</text>
<text transform="translate(76.3,127.8) scale(0.868,1)" font-size="8.2" text-anchor="middle" fill="#000">1</text>
<text transform="translate(93.0,128.4) scale(0.868,1)" font-size="8.2" text-anchor="middle" fill="#000">8</text>
<text transform="translate(64.7,134.8) scale(0.868,1)" font-size="8.2" text-anchor="middle" fill="#000">2</text>
<text transform="translate(141.1,121.7) scale(0.868,1)" font-size="8.2" text-anchor="middle" fill="#000">10</text>
<text transform="translate(148.4,114.4) scale(0.868,1)" font-size="8.2" text-anchor="middle" fill="#000">7</text>
<text transform="translate(169.7,115.3) scale(0.868,1)" font-size="8.2" text-anchor="middle" fill="#000">9</text>
<text transform="translate(182.6,113.8) scale(0.868,1)" font-size="8.2" text-anchor="middle" fill="#000">4</text>
<text transform="translate(195.1,118.2) scale(0.868,1)" font-size="8.2" text-anchor="middle" fill="#000">3</text>
<text transform="translate(172.4,129.9) scale(0.868,1)" font-size="8.2" text-anchor="middle" fill="#000">5</text>
<rect x="165.9" y="3.5" width="92.1" height="7.8" fill="#fff" stroke="#444" stroke-width="0.7"/>
<text transform="translate(203.5,10.0) scale(0.868,1)" font-size="8.2" text-anchor="middle" fill="#000">Kv11-1AGT-run4</text>
<circle cx="244" cy="7.4" r="1.1" fill="#ff0000"/>
</g>
<g transform="translate(261.2,466.7)">
<polygon points="32.3,129.2 85.4,146.1 108.4,136.4 55.3,119.4" fill="#e6e6d8"/>
<polygon points="32.3,129.2 55.3,119.4 55.3,76.1 32.3,85.9" fill="#e6e6d8"/>
<line x1="50.0" y1="134.8" x2="141.9" y2="95.8" stroke="#808080" stroke-width="0.6" stroke-dasharray="4,1"/>
<line x1="67.7" y1="140.5" x2="159.6" y2="101.4" stroke="#808080" stroke-width="0.6" stroke-dasharray="4,1"/>
<line x1="85.4" y1="146.1" x2="177.3" y2="107.0" stroke="#808080" stroke-width="0.6" stroke-dasharray="4,1"/>
<line x1="103.1" y1="151.8" x2="195.0" y2="112.7" stroke="#808080" stroke-width="0.6" stroke-dasharray="4,1"/>
<line x1="120.8" y1="157.4" x2="212.7" y2="118.3" stroke="#808080" stroke-width="0.6" stroke-dasharray="4,1"/>
<line x1="55.3" y1="119.4" x2="161.5" y2="153.3" stroke="#808080" stroke-width="0.6" stroke-dasharray="4,1"/>
<line x1="78.2" y1="109.6" x2="184.4" y2="143.6" stroke="#808080" stroke-width="0.6" stroke-dasharray="4,1"/>
<line x1="101.2" y1="99.9" x2="207.4" y2="133.8" stroke="#808080" stroke-width="0.6" stroke-dasharray="4,1"/>
<line x1="32.3" y1="129.2" x2="138.5" y2="163.1" stroke="#444" stroke-width="0.7"/>
<line x1="138.5" y1="163.1" x2="230.4" y2="124.0" stroke="#444" stroke-width="0.7"/>
<line x1="32.3" y1="129.2" x2="124.2" y2="90.1" stroke="#444" stroke-width="0.7"/>
<line x1="124.2" y1="90.1" x2="230.4" y2="124.0" stroke="#444" stroke-width="0.7"/>
<line x1="32.3" y1="129.2" x2="32.3" y2="40.6" stroke="#999" stroke-width="0.9"/>
<line x1="124.2" y1="90.1" x2="124.2" y2="3.5" stroke="#999" stroke-width="0.9"/>
<line x1="230.4" y1="124.0" x2="230.4" y2="35.4" stroke="#999" stroke-width="0.9"/>
<line x1="31.8" y1="40.6" x2="118.4" y2="3.7" stroke="#444" stroke-width="0.7"/>
<line x1="131.7" y1="3.9" x2="230.4" y2="35.4" stroke="#444" stroke-width="0.7"/>
<line x1="29.5" y1="42.4" x2="32.3" y2="42.4" stroke="#666" stroke-width="0.6"/>
<text transform="translate(25.2,44.9) scale(0.868,1)" font-size="8.2" text-anchor="end" fill="#000">0</text>
<line x1="29.5" y1="55.9" x2="32.3" y2="55.9" stroke="#666" stroke-width="0.6"/>
<text transform="translate(25.2,58.4) scale(0.868,1)" font-size="8.2" text-anchor="end" fill="#000">-20</text>
<line x1="29.5" y1="69.3" x2="32.3" y2="69.3" stroke="#666" stroke-width="0.6"/>
<text transform="translate(25.2,71.8) scale(0.868,1)" font-size="8.2" text-anchor="end" fill="#000">-40</text>
<line x1="29.5" y1="82.8" x2="32.3" y2="82.8" stroke="#666" stroke-width="0.6"/>
<text transform="translate(25.2,85.3) scale(0.868,1)" font-size="8.2" text-anchor="end" fill="#000">-60</text>
<line x1="29.5" y1="96.3" x2="32.3" y2="96.3" stroke="#666" stroke-width="0.6"/>
<text transform="translate(25.2,98.8) scale(0.868,1)" font-size="8.2" text-anchor="end" fill="#000">-80</text>
<line x1="29.5" y1="109.8" x2="32.3" y2="109.8" stroke="#666" stroke-width="0.6"/>
<text transform="translate(25.2,112.2) scale(0.868,1)" font-size="8.2" text-anchor="end" fill="#000">-100</text>
<line x1="29.5" y1="123.2" x2="32.3" y2="123.2" stroke="#666" stroke-width="0.6"/>
<text transform="translate(25.2,125.7) scale(0.868,1)" font-size="8.2" text-anchor="end" fill="#000">-120</text>
<text transform="translate(27.3,135.1) scale(0.868,1)" font-size="8.2" text-anchor="end" fill="#000">0</text>
<text transform="translate(45.0,140.8) scale(0.868,1)" font-size="8.2" text-anchor="end" fill="#000">2</text>
<text transform="translate(62.7,146.4) scale(0.868,1)" font-size="8.2" text-anchor="end" fill="#000">4</text>
<text transform="translate(80.4,152.0) scale(0.868,1)" font-size="8.2" text-anchor="end" fill="#000">6</text>
<text transform="translate(98.1,157.7) scale(0.868,1)" font-size="8.2" text-anchor="end" fill="#000">8</text>
<text transform="translate(115.8,163.3) scale(0.868,1)" font-size="8.2" text-anchor="end" fill="#000">10</text>
<text transform="translate(133.5,169.0) scale(0.868,1)" font-size="8.2" text-anchor="end" fill="#000">12</text>
<text transform="translate(139.3,167.8) scale(0.868,1)" font-size="8.2" text-anchor="start" fill="#000">0</text>
<text transform="translate(162.3,158.0) scale(0.868,1)" font-size="8.2" text-anchor="start" fill="#000">5</text>
<text transform="translate(185.2,148.2) scale(0.868,1)" font-size="8.2" text-anchor="start" fill="#000">10</text>
<text transform="translate(208.2,138.5) scale(0.868,1)" font-size="8.2" text-anchor="start" fill="#000">15</text>
<text transform="translate(231.2,128.7) scale(0.868,1)" font-size="8.2" text-anchor="start" fill="#000">20</text>
<text transform="translate(47.9,15.2) scale(0.868,1)" font-size="8.2" text-anchor="middle" fill="#000">HADDOCK energy,</text>
<text transform="translate(49.3,22.0) scale(0.868,1)" font-size="8.2" text-anchor="middle" fill="#000">Kcal/mol</text>
<text transform="translate(62.0,172.9) scale(0.868,1)" font-size="8.2" text-anchor="middle" fill="#000">β-sheet Cα-RMSD with 2A9H.pdb,</text>
<text transform="translate(62.7,180.2) scale(0.868,1)" font-size="8.2" text-anchor="middle" fill="#000">Angs.</text>
<text transform="translate(206.3,169.3) scale(0.868,1)" font-size="8.2" text-anchor="middle" fill="#000">pore-Lys Y377-plane separation,</text>
<text transform="translate(207.6,176.4) scale(0.868,1)" font-size="8.2" text-anchor="middle" fill="#000">Angs.</text>
<g fill="#00ee00"><circle cx="47.2" cy="116.4" r="1.1"/><circle cx="56.9" cy="96.2" r="1.1"/><circle cx="41.1" cy="100.7" r="1.1"/><circle cx="47.1" cy="89.8" r="1.1"/><circle cx="38.0" cy="88.3" r="1.1"/><circle cx="51.6" cy="93.8" r="1.1"/><circle cx="45.3" cy="107.1" r="1.1"/><circle cx="46.6" cy="92.5" r="1.1"/><circle cx="45.1" cy="103.2" r="1.1"/><circle cx="51.3" cy="112.2" r="1.1"/><circle cx="50.1" cy="107.9" r="1.1"/><circle cx="47.3" cy="112.9" r="1.1"/><circle cx="50.1" cy="92.1" r="1.1"/><circle cx="41.7" cy="91.1" r="1.1"/><circle cx="45.5" cy="109.9" r="1.1"/><circle cx="46.2" cy="88.8" r="1.1"/><circle cx="47.9" cy="116.0" r="1.1"/><circle cx="37.7" cy="85.3" r="1.1"/><circle cx="57.2" cy="86.8" r="1.1"/><circle cx="57.2" cy="96.6" r="1.1"/><circle cx="58.7" cy="37.4" r="1.1"/><circle cx="43.2" cy="66.6" r="1.1"/><circle cx="82.0" cy="51.2" r="1.1"/><circle cx="61.6" cy="80.3" r="1.1"/><circle cx="55.1" cy="51.3" r="1.1"/><circle cx="54.9" cy="66.5" r="1.1"/><circle cx="67.9" cy="39.5" r="1.1"/><circle cx="84.3" cy="67.5" r="1.1"/><circle cx="68.7" cy="44.3" r="1.1"/><circle cx="61.1" cy="56.9" r="1.1"/><circle cx="47.6" cy="88.9" r="1.1"/><circle cx="55.0" cy="34.5" r="1.1"/><circle cx="91.1" cy="36.8" r="1.1"/><circle cx="56.6" cy="75.2" r="1.1"/><circle cx="45.9" cy="75.9" r="1.1"/><circle cx="91.2" cy="62.4" r="1.1"/><circle cx="64.0" cy="69.1" r="1.1"/><circle cx="73.2" cy="70.8" r="1.1"/><circle cx="69.7" cy="66.4" r="1.1"/><circle cx="59.4" cy="74.9" r="1.1"/><circle cx="77.6" cy="62.8" r="1.1"/><circle cx="95.7" cy="86.6" r="1.1"/><circle cx="85.0" cy="56.1" r="1.1"/><circle cx="56.6" cy="62.1" r="1.1"/><circle cx="60.0" cy="74.6" r="1.1"/><circle cx="89.2" cy="40.2" r="1.1"/><circle cx="82.0" cy="86.0" r="1.1"/><circle cx="91.1" cy="76.3" r="1.1"/><circle cx="87.7" cy="76.2" r="1.1"/><circle cx="82.7" cy="56.4" r="1.1"/><circle cx="91.9" cy="51.2" r="1.1"/><circle cx="82.3" cy="97.2" r="1.1"/><circle cx="77.6" cy="56.7" r="1.1"/><circle cx="63.4" cy="52.9" r="1.1"/><circle cx="85.6" cy="69.2" r="1.1"/><circle cx="87.3" cy="90.2" r="1.1"/><circle cx="66.2" cy="53.6" r="1.1"/><circle cx="65.1" cy="69.7" r="1.1"/><circle cx="57.1" cy="84.6" r="1.1"/><circle cx="58.0" cy="52.9" r="1.1"/><circle cx="83.3" cy="49.7" r="1.1"/><circle cx="74.7" cy="50.8" r="1.1"/><circle cx="76.9" cy="58.6" r="1.1"/><circle cx="61.1" cy="73.7" r="1.1"/><circle cx="55.0" cy="83.0" r="1.1"/><circle cx="73.3" cy="64.0" r="1.1"/><circle cx="60.5" cy="59.9" r="1.1"/><circle cx="79.9" cy="40.0" r="1.1"/><circle cx="62.7" cy="55.1" r="1.1"/><circle cx="66.3" cy="47.1" r="1.1"/><circle cx="68.8" cy="74.3" r="1.1"/><circle cx="81.9" cy="54.4" r="1.1"/><circle cx="76.1" cy="75.5" r="1.1"/><circle cx="72.8" cy="70.5" r="1.1"/><circle cx="69.3" cy="46.3" r="1.1"/><circle cx="65.4" cy="80.8" r="1.1"/><circle cx="66.9" cy="86.7" r="1.1"/><circle cx="64.4" cy="63.2" r="1.1"/><circle cx="43.4" cy="84.0" r="1.1"/><circle cx="65.5" cy="45.6" r="1.1"/><circle cx="59.0" cy="75.1" r="1.1"/><circle cx="77.0" cy="77.9" r="1.1"/><circle cx="72.4" cy="69.1" r="1.1"/><circle cx="73.7" cy="64.6" r="1.1"/><circle cx="65.1" cy="72.9" r="1.1"/><circle cx="57.7" cy="85.4" r="1.1"/><circle cx="70.5" cy="85.0" r="1.1"/><circle cx="77.4" cy="84.8" r="1.1"/><circle cx="77.1" cy="78.4" r="1.1"/><circle cx="59.4" cy="73.3" r="1.1"/><circle cx="44.0" cy="67.9" r="1.1"/><circle cx="43.4" cy="79.7" r="1.1"/><circle cx="80.8" cy="90.1" r="1.1"/><circle cx="64.8" cy="51.9" r="1.1"/><circle cx="61.9" cy="43.0" r="1.1"/><circle cx="53.5" cy="80.0" r="1.1"/><circle cx="71.4" cy="66.7" r="1.1"/><circle cx="80.7" cy="67.7" r="1.1"/><circle cx="54.4" cy="76.4" r="1.1"/><circle cx="79.6" cy="58.1" r="1.1"/><circle cx="78.8" cy="74.6" r="1.1"/><circle cx="67.4" cy="50.6" r="1.1"/><circle cx="64.4" cy="62.9" r="1.1"/><circle cx="76.4" cy="60.0" r="1.1"/><circle cx="71.9" cy="84.0" r="1.1"/><circle cx="77.1" cy="80.1" r="1.1"/><circle cx="70.2" cy="58.3" r="1.1"/><circle cx="55.4" cy="39.9" r="1.1"/><circle cx="77.7" cy="69.4" r="1.1"/><circle cx="74.9" cy="34.4" r="1.1"/><circle cx="68.0" cy="63.8" r="1.1"/><circle cx="68.4" cy="55.1" r="1.1"/><circle cx="55.4" cy="93.6" r="1.1"/><circle cx="57.1" cy="84.8" r="1.1"/><circle cx="64.4" cy="88.1" r="1.1"/><circle cx="72.4" cy="89.0" r="1.1"/><circle cx="50.6" cy="74.6" r="1.1"/><circle cx="93.4" cy="66.2" r="1.1"/><circle cx="73.8" cy="98.1" r="1.1"/><circle cx="47.9" cy="69.9" r="1.1"/><circle cx="104.3" cy="56.3" r="1.1"/><circle cx="100.4" cy="63.1" r="1.1"/><circle cx="110.2" cy="36.0" r="1.1"/><circle cx="108.5" cy="74.0" r="1.1"/><circle cx="115.4" cy="55.2" r="1.1"/><circle cx="105.1" cy="61.3" r="1.1"/><circle cx="110.7" cy="80.2" r="1.1"/><circle cx="105.9" cy="32.5" r="1.1"/><circle cx="110.2" cy="47.7" r="1.1"/><circle cx="115.1" cy="56.1" r="1.1"/><circle cx="110.3" cy="35.6" r="1.1"/><circle cx="108.6" cy="32.0" r="1.1"/><circle cx="112.7" cy="26.5" r="1.1"/><circle cx="96.6" cy="61.7" r="1.1"/><circle cx="99.4" cy="70.9" r="1.1"/><circle cx="99.3" cy="59.6" r="1.1"/><circle cx="113.7" cy="46.1" r="1.1"/><circle cx="117.2" cy="57.9" r="1.1"/><circle cx="119.4" cy="60.0" r="1.1"/><circle cx="109.3" cy="49.2" r="1.1"/><circle cx="112.1" cy="40.9" r="1.1"/><circle cx="97.2" cy="53.0" r="1.1"/><circle cx="106.5" cy="65.1" r="1.1"/><circle cx="120.8" cy="40.1" r="1.1"/><circle cx="102.6" cy="27.0" r="1.1"/><circle cx="105.1" cy="44.3" r="1.1"/><circle cx="113.2" cy="59.8" r="1.1"/><circle cx="105.6" cy="54.0" r="1.1"/><circle cx="112.4" cy="41.6" r="1.1"/><circle cx="117.2" cy="22.3" r="1.1"/><circle cx="112.4" cy="68.1" r="1.1"/><circle cx="103.8" cy="63.6" r="1.1"/><circle cx="115.5" cy="89.4" r="1.1"/><circle cx="111.3" cy="57.9" r="1.1"/><circle cx="100.8" cy="18.9" r="1.1"/><circle cx="113.2" cy="76.8" r="1.1"/><circle cx="119.0" cy="51.7" r="1.1"/><circle cx="121.9" cy="57.3" r="1.1"/><circle cx="98.3" cy="66.5" r="1.1"/><circle cx="117.6" cy="38.4" r="1.1"/><circle cx="109.5" cy="59.8" r="1.1"/><circle cx="95.6" cy="42.9" r="1.1"/><circle cx="110.8" cy="27.8" r="1.1"/><circle cx="99.1" cy="70.3" r="1.1"/><circle cx="107.9" cy="32.5" r="1.1"/><circle cx="112.0" cy="64.1" r="1.1"/><circle cx="97.4" cy="60.8" r="1.1"/><circle cx="104.2" cy="91.6" r="1.1"/><circle cx="114.9" cy="74.3" r="1.1"/><circle cx="115.6" cy="50.4" r="1.1"/><circle cx="109.0" cy="39.3" r="1.1"/><circle cx="112.7" cy="57.1" r="1.1"/><circle cx="103.6" cy="50.2" r="1.1"/><circle cx="111.0" cy="34.5" r="1.1"/><circle cx="97.0" cy="23.7" r="1.1"/><circle cx="109.1" cy="55.9" r="1.1"/><circle cx="117.0" cy="64.8" r="1.1"/><circle cx="115.9" cy="29.0" r="1.1"/><circle cx="102.4" cy="74.3" r="1.1"/><circle cx="104.8" cy="37.5" r="1.1"/><circle cx="178.7" cy="44.8" r="1.1"/><circle cx="161.0" cy="65.6" r="1.1"/><circle cx="169.9" cy="60.1" r="1.1"/><circle cx="152.8" cy="57.5" r="1.1"/><circle cx="166.1" cy="76.8" r="1.1"/><circle cx="163.1" cy="73.9" r="1.1"/><circle cx="183.5" cy="57.7" r="1.1"/><circle cx="159.3" cy="67.1" r="1.1"/><circle cx="154.7" cy="95.2" r="1.1"/><circle cx="179.7" cy="44.7" r="1.1"/><circle cx="173.7" cy="79.5" r="1.1"/><circle cx="161.3" cy="44.3" r="1.1"/><circle cx="175.2" cy="88.9" r="1.1"/><circle cx="177.6" cy="60.5" r="1.1"/><circle cx="170.8" cy="66.2" r="1.1"/><circle cx="157.4" cy="59.0" r="1.1"/><circle cx="166.0" cy="53.9" r="1.1"/><circle cx="176.1" cy="81.5" r="1.1"/><circle cx="155.8" cy="83.6" r="1.1"/><circle cx="179.5" cy="51.5" r="1.1"/><circle cx="162.9" cy="57.9" r="1.1"/><circle cx="171.4" cy="66.7" r="1.1"/><circle cx="165.5" cy="75.6" r="1.1"/><circle cx="158.4" cy="82.1" r="1.1"/><circle cx="184.4" cy="69.4" r="1.1"/><circle cx="165.4" cy="83.6" r="1.1"/><circle cx="159.2" cy="73.1" r="1.1"/><circle cx="155.5" cy="84.1" r="1.1"/><circle cx="175.8" cy="65.0" r="1.1"/><circle cx="172.2" cy="60.4" r="1.1"/><circle cx="165.3" cy="55.7" r="1.1"/><circle cx="150.3" cy="56.7" r="1.1"/><circle cx="169.9" cy="71.6" r="1.1"/><circle cx="174.4" cy="88.5" r="1.1"/><circle cx="150.4" cy="63.3" r="1.1"/><circle cx="170.3" cy="67.6" r="1.1"/><circle cx="154.0" cy="72.3" r="1.1"/><circle cx="165.2" cy="56.4" r="1.1"/><circle cx="173.5" cy="57.9" r="1.1"/><circle cx="169.8" cy="72.0" r="1.1"/><circle cx="163.6" cy="73.7" r="1.1"/><circle cx="181.8" cy="70.7" r="1.1"/><circle cx="177.0" cy="68.6" r="1.1"/><circle cx="168.8" cy="85.7" r="1.1"/><circle cx="168.8" cy="69.4" r="1.1"/><circle cx="176.5" cy="70.3" r="1.1"/><circle cx="174.7" cy="79.8" r="1.1"/><circle cx="169.4" cy="53.8" r="1.1"/><circle cx="170.3" cy="66.0" r="1.1"/><circle cx="165.9" cy="53.7" r="1.1"/><circle cx="180.7" cy="81.1" r="1.1"/><circle cx="163.4" cy="55.1" r="1.1"/><circle cx="179.9" cy="69.1" r="1.1"/><circle cx="165.3" cy="73.5" r="1.1"/><circle cx="172.0" cy="87.0" r="1.1"/><circle cx="158.0" cy="72.5" r="1.1"/><circle cx="152.4" cy="70.3" r="1.1"/><circle cx="157.4" cy="86.0" r="1.1"/><circle cx="149.7" cy="70.1" r="1.1"/><circle cx="168.3" cy="59.2" r="1.1"/><circle cx="167.2" cy="85.4" r="1.1"/><circle cx="159.2" cy="75.2" r="1.1"/><circle cx="162.9" cy="81.3" r="1.1"/><circle cx="165.3" cy="47.5" r="1.1"/><circle cx="159.3" cy="59.6" r="1.1"/><circle cx="168.3" cy="48.4" r="1.1"/><circle cx="158.1" cy="84.5" r="1.1"/><circle cx="151.6" cy="61.9" r="1.1"/><circle cx="182.5" cy="69.3" r="1.1"/><circle cx="157.2" cy="45.1" r="1.1"/><circle cx="166.1" cy="77.9" r="1.1"/><circle cx="173.1" cy="56.3" r="1.1"/><circle cx="178.8" cy="67.0" r="1.1"/><circle cx="162.8" cy="62.5" r="1.1"/><circle cx="156.1" cy="51.9" r="1.1"/><circle cx="170.4" cy="69.4" r="1.1"/><circle cx="161.0" cy="70.4" r="1.1"/><circle cx="167.8" cy="63.3" r="1.1"/><circle cx="176.3" cy="67.2" r="1.1"/><circle cx="184.9" cy="53.8" r="1.1"/><circle cx="157.9" cy="67.8" r="1.1"/><circle cx="175.7" cy="49.4" r="1.1"/><circle cx="164.8" cy="77.6" r="1.1"/><circle cx="163.4" cy="56.6" r="1.1"/><circle cx="166.3" cy="55.1" r="1.1"/><circle cx="170.4" cy="71.9" r="1.1"/><circle cx="176.8" cy="83.0" r="1.1"/><circle cx="169.2" cy="67.2" r="1.1"/><circle cx="176.1" cy="74.7" r="1.1"/><circle cx="165.7" cy="91.9" r="1.1"/><circle cx="209.3" cy="60.8" r="1.1"/><circle cx="187.1" cy="65.5" r="1.1"/><circle cx="195.6" cy="39.8" r="1.1"/><circle cx="206.6" cy="60.8" r="1.1"/><circle cx="186.5" cy="56.3" r="1.1"/><circle cx="195.4" cy="39.0" r="1.1"/><circle cx="181.6" cy="65.8" r="1.1"/><circle cx="198.3" cy="43.0" r="1.1"/><circle cx="208.5" cy="56.4" r="1.1"/><circle cx="184.8" cy="55.3" r="1.1"/><circle cx="194.9" cy="53.1" r="1.1"/><circle cx="187.7" cy="36.3" r="1.1"/><circle cx="179.9" cy="56.8" r="1.1"/><circle cx="201.2" cy="41.2" r="1.1"/><circle cx="203.4" cy="61.0" r="1.1"/><circle cx="187.9" cy="60.6" r="1.1"/><circle cx="189.6" cy="54.9" r="1.1"/><circle cx="203.9" cy="43.4" r="1.1"/><circle cx="184.5" cy="58.3" r="1.1"/><circle cx="198.4" cy="46.6" r="1.1"/><circle cx="203.3" cy="57.6" r="1.1"/><circle cx="182.1" cy="59.9" r="1.1"/><circle cx="192.3" cy="60.6" r="1.1"/><circle cx="190.4" cy="70.5" r="1.1"/><circle cx="188.4" cy="52.1" r="1.1"/><circle cx="181.6" cy="61.7" r="1.1"/><circle cx="182.1" cy="60.1" r="1.1"/><circle cx="207.4" cy="60.8" r="1.1"/><circle cx="203.0" cy="50.3" r="1.1"/><circle cx="198.1" cy="38.0" r="1.1"/><circle cx="180.4" cy="44.5" r="1.1"/><circle cx="190.1" cy="67.8" r="1.1"/><circle cx="179.8" cy="54.5" r="1.1"/><circle cx="200.8" cy="57.7" r="1.1"/><circle cx="193.6" cy="44.3" r="1.1"/><circle cx="198.0" cy="52.0" r="1.1"/><circle cx="195.5" cy="46.1" r="1.1"/><circle cx="183.5" cy="65.5" r="1.1"/><circle cx="203.0" cy="50.2" r="1.1"/><circle cx="187.1" cy="44.7" r="1.1"/><circle cx="219.7" cy="46.2" r="1.1"/><circle cx="200.3" cy="101.5" r="1.1"/><circle cx="146.8" cy="62.2" r="1.1"/><circle cx="174.6" cy="91.5" r="1.1"/><circle cx="221.2" cy="44.6" r="1.1"/><circle cx="173.5" cy="85.7" r="1.1"/><circle cx="190.6" cy="89.2" r="1.1"/><circle cx="178.5" cy="71.0" r="1.1"/><circle cx="210.8" cy="86.9" r="1.1"/><circle cx="180.8" cy="72.2" r="1.1"/><circle cx="189.8" cy="55.1" r="1.1"/><circle cx="200.1" cy="80.7" r="1.1"/><circle cx="196.5" cy="102.5" r="1.1"/><circle cx="185.6" cy="86.9" r="1.1"/><circle cx="143.8" cy="33.4" r="1.1"/><circle cx="216.3" cy="59.2" r="1.1"/><circle cx="187.1" cy="51.9" r="1.1"/><circle cx="222.8" cy="50.9" r="1.1"/><circle cx="183.1" cy="63.8" r="1.1"/><circle cx="142.1" cy="34.1" r="1.1"/><circle cx="114.5" cy="119.1" r="1.1"/><circle cx="134.1" cy="117.7" r="1.1"/><circle cx="139.4" cy="113.9" r="1.1"/><circle cx="125.9" cy="125.0" r="1.1"/><circle cx="163.9" cy="114.8" r="1.1"/><circle cx="144.8" cy="131.4" r="1.1"/><circle cx="180.3" cy="122.6" r="1.1"/><circle cx="197.6" cy="119.1" r="1.1"/><circle cx="82.2" cy="138.1" r="1.1"/><circle cx="108.0" cy="142.5" r="1.1"/></g>
<text transform="translate(114.1,116.7) scale(0.868,1)" font-size="8.2" text-anchor="middle" fill="#000">9</text>
<text transform="translate(134.5,115.3) scale(0.868,1)" font-size="8.2" text-anchor="middle" fill="#000">1</text>
<text transform="translate(139.5,111.5) scale(0.868,1)" font-size="8.2" text-anchor="middle" fill="#000">8</text>
<text transform="translate(125.5,122.6) scale(0.868,1)" font-size="8.2" text-anchor="middle" fill="#000">10</text>
<text transform="translate(164.3,112.4) scale(0.868,1)" font-size="8.2" text-anchor="middle" fill="#000">7</text>
<text transform="translate(144.7,129.0) scale(0.868,1)" font-size="8.2" text-anchor="middle" fill="#000">4</text>
<text transform="translate(180.9,120.2) scale(0.868,1)" font-size="8.2" text-anchor="middle" fill="#000">6</text>
<text transform="translate(197.9,116.7) scale(0.868,1)" font-size="8.2" text-anchor="middle" fill="#000">3</text>
<text transform="translate(82.0,135.7) scale(0.868,1)" font-size="8.2" text-anchor="middle" fill="#000">2</text>
<text transform="translate(108.0,140.1) scale(0.868,1)" font-size="8.2" text-anchor="middle" fill="#000">5</text>
<rect x="165.9" y="3.5" width="92.1" height="7.8" fill="#fff" stroke="#444" stroke-width="0.7"/>
<text transform="translate(203.5,10.0) scale(0.868,1)" font-size="8.2" text-anchor="middle" fill="#000">Kv12-1AGT-run4</text>
<circle cx="244" cy="7.4" r="1.1" fill="#00ee00"/>
</g>
<g transform="translate(522.4,466.7)">
<polygon points="32.3,129.2 85.4,146.1 108.4,136.4 55.3,119.4" fill="#e6e6d8"/>
<polygon points="32.3,129.2 55.3,119.4 55.3,76.1 32.3,85.9" fill="#e6e6d8"/>
<line x1="50.0" y1="134.8" x2="141.9" y2="95.8" stroke="#808080" stroke-width="0.6" stroke-dasharray="4,1"/>
<line x1="67.7" y1="140.5" x2="159.6" y2="101.4" stroke="#808080" stroke-width="0.6" stroke-dasharray="4,1"/>
<line x1="85.4" y1="146.1" x2="177.3" y2="107.0" stroke="#808080" stroke-width="0.6" stroke-dasharray="4,1"/>
<line x1="103.1" y1="151.8" x2="195.0" y2="112.7" stroke="#808080" stroke-width="0.6" stroke-dasharray="4,1"/>
<line x1="120.8" y1="157.4" x2="212.7" y2="118.3" stroke="#808080" stroke-width="0.6" stroke-dasharray="4,1"/>
<line x1="55.3" y1="119.4" x2="161.5" y2="153.3" stroke="#808080" stroke-width="0.6" stroke-dasharray="4,1"/>
<line x1="78.2" y1="109.6" x2="184.4" y2="143.6" stroke="#808080" stroke-width="0.6" stroke-dasharray="4,1"/>
<line x1="101.2" y1="99.9" x2="207.4" y2="133.8" stroke="#808080" stroke-width="0.6" stroke-dasharray="4,1"/>
<line x1="32.3" y1="129.2" x2="138.5" y2="163.1" stroke="#444" stroke-width="0.7"/>
<line x1="138.5" y1="163.1" x2="230.4" y2="124.0" stroke="#444" stroke-width="0.7"/>
<line x1="32.3" y1="129.2" x2="124.2" y2="90.1" stroke="#444" stroke-width="0.7"/>
<line x1="124.2" y1="90.1" x2="230.4" y2="124.0" stroke="#444" stroke-width="0.7"/>
<line x1="32.3" y1="129.2" x2="32.3" y2="40.6" stroke="#999" stroke-width="0.9"/>
<line x1="124.2" y1="90.1" x2="124.2" y2="3.5" stroke="#999" stroke-width="0.9"/>
<line x1="230.4" y1="124.0" x2="230.4" y2="35.4" stroke="#999" stroke-width="0.9"/>
<line x1="31.8" y1="40.6" x2="118.4" y2="3.7" stroke="#444" stroke-width="0.7"/>
<line x1="131.7" y1="3.9" x2="230.4" y2="35.4" stroke="#444" stroke-width="0.7"/>
<line x1="29.5" y1="41.6" x2="32.3" y2="41.6" stroke="#666" stroke-width="0.6"/>
<text transform="translate(25.2,44.1) scale(0.868,1)" font-size="8.2" text-anchor="end" fill="#000">0</text>
<line x1="29.5" y1="53.7" x2="32.3" y2="53.7" stroke="#666" stroke-width="0.6"/>
<text transform="translate(25.2,56.2) scale(0.868,1)" font-size="8.2" text-anchor="end" fill="#000">-20</text>
<line x1="29.5" y1="65.8" x2="32.3" y2="65.8" stroke="#666" stroke-width="0.6"/>
<text transform="translate(25.2,68.3) scale(0.868,1)" font-size="8.2" text-anchor="end" fill="#000">-40</text>
<line x1="29.5" y1="77.9" x2="32.3" y2="77.9" stroke="#666" stroke-width="0.6"/>
<text transform="translate(25.2,80.4) scale(0.868,1)" font-size="8.2" text-anchor="end" fill="#000">-60</text>
<line x1="29.5" y1="90.0" x2="32.3" y2="90.0" stroke="#666" stroke-width="0.6"/>
<text transform="translate(25.2,92.5) scale(0.868,1)" font-size="8.2" text-anchor="end" fill="#000">-80</text>
<line x1="29.5" y1="102.2" x2="32.3" y2="102.2" stroke="#666" stroke-width="0.6"/>
<text transform="translate(25.2,104.7) scale(0.868,1)" font-size="8.2" text-anchor="end" fill="#000">-100</text>
<line x1="29.5" y1="114.3" x2="32.3" y2="114.3" stroke="#666" stroke-width="0.6"/>
<text transform="translate(25.2,116.8) scale(0.868,1)" font-size="8.2" text-anchor="end" fill="#000">-120</text>
<line x1="29.5" y1="126.4" x2="32.3" y2="126.4" stroke="#666" stroke-width="0.6"/>
<text transform="translate(25.2,128.9) scale(0.868,1)" font-size="8.2" text-anchor="end" fill="#000">-140</text>
<text transform="translate(27.3,135.1) scale(0.868,1)" font-size="8.2" text-anchor="end" fill="#000">0</text>
<text transform="translate(45.0,140.8) scale(0.868,1)" font-size="8.2" text-anchor="end" fill="#000">2</text>
<text transform="translate(62.7,146.4) scale(0.868,1)" font-size="8.2" text-anchor="end" fill="#000">4</text>
<text transform="translate(80.4,152.0) scale(0.868,1)" font-size="8.2" text-anchor="end" fill="#000">6</text>
<text transform="translate(98.1,157.7) scale(0.868,1)" font-size="8.2" text-anchor="end" fill="#000">8</text>
<text transform="translate(115.8,163.3) scale(0.868,1)" font-size="8.2" text-anchor="end" fill="#000">10</text>
<text transform="translate(133.5,169.0) scale(0.868,1)" font-size="8.2" text-anchor="end" fill="#000">12</text>
<text transform="translate(139.3,167.8) scale(0.868,1)" font-size="8.2" text-anchor="start" fill="#000">0</text>
<text transform="translate(162.3,158.0) scale(0.868,1)" font-size="8.2" text-anchor="start" fill="#000">5</text>
<text transform="translate(185.2,148.2) scale(0.868,1)" font-size="8.2" text-anchor="start" fill="#000">10</text>
<text transform="translate(208.2,138.5) scale(0.868,1)" font-size="8.2" text-anchor="start" fill="#000">15</text>
<text transform="translate(231.2,128.7) scale(0.868,1)" font-size="8.2" text-anchor="start" fill="#000">20</text>
<text transform="translate(47.9,15.2) scale(0.868,1)" font-size="8.2" text-anchor="middle" fill="#000">HADDOCK energy,</text>
<text transform="translate(49.3,22.0) scale(0.868,1)" font-size="8.2" text-anchor="middle" fill="#000">Kcal/mol</text>
<text transform="translate(62.0,172.9) scale(0.868,1)" font-size="8.2" text-anchor="middle" fill="#000">β-sheet Cα-RMSD with 2A9H.pdb,</text>
<text transform="translate(62.7,180.2) scale(0.868,1)" font-size="8.2" text-anchor="middle" fill="#000">Angs.</text>
<text transform="translate(206.3,169.3) scale(0.868,1)" font-size="8.2" text-anchor="middle" fill="#000">pore-Lys Y377-plane separation,</text>
<text transform="translate(207.6,176.4) scale(0.868,1)" font-size="8.2" text-anchor="middle" fill="#000">Angs.</text>
<g fill="#0000ee"><circle cx="40.8" cy="119.2" r="1.1"/><circle cx="33.4" cy="100.6" r="1.1"/><circle cx="40.3" cy="109.6" r="1.1"/><circle cx="40.3" cy="113.6" r="1.1"/><circle cx="40.1" cy="114.4" r="1.1"/><circle cx="36.0" cy="114.0" r="1.1"/><circle cx="52.5" cy="70.8" r="1.1"/><circle cx="39.5" cy="106.3" r="1.1"/><circle cx="47.1" cy="65.4" r="1.1"/><circle cx="50.6" cy="85.6" r="1.1"/><circle cx="52.5" cy="89.0" r="1.1"/><circle cx="51.2" cy="77.9" r="1.1"/><circle cx="38.7" cy="98.0" r="1.1"/><circle cx="57.5" cy="68.3" r="1.1"/><circle cx="53.2" cy="70.1" r="1.1"/><circle cx="50.3" cy="98.6" r="1.1"/><circle cx="56.7" cy="68.2" r="1.1"/><circle cx="49.4" cy="71.6" r="1.1"/><circle cx="53.4" cy="73.9" r="1.1"/><circle cx="53.9" cy="70.0" r="1.1"/><circle cx="33.3" cy="110.3" r="1.1"/><circle cx="43.3" cy="105.5" r="1.1"/><circle cx="50.8" cy="79.6" r="1.1"/><circle cx="49.7" cy="94.4" r="1.1"/><circle cx="37.4" cy="124.9" r="1.1"/><circle cx="42.1" cy="72.8" r="1.1"/><circle cx="35.8" cy="113.9" r="1.1"/><circle cx="47.0" cy="81.8" r="1.1"/><circle cx="47.3" cy="89.6" r="1.1"/><circle cx="37.8" cy="110.4" r="1.1"/><circle cx="41.8" cy="123.3" r="1.1"/><circle cx="34.6" cy="116.8" r="1.1"/><circle cx="43.4" cy="80.5" r="1.1"/><circle cx="49.8" cy="79.5" r="1.1"/><circle cx="43.9" cy="81.1" r="1.1"/><circle cx="41.9" cy="102.8" r="1.1"/><circle cx="42.7" cy="103.0" r="1.1"/><circle cx="47.0" cy="93.1" r="1.1"/><circle cx="47.7" cy="66.6" r="1.1"/><circle cx="33.3" cy="123.6" r="1.1"/><circle cx="49.2" cy="70.4" r="1.1"/><circle cx="50.5" cy="83.8" r="1.1"/><circle cx="51.3" cy="73.4" r="1.1"/><circle cx="39.7" cy="113.3" r="1.1"/><circle cx="49.9" cy="65.7" r="1.1"/><circle cx="94.5" cy="34.0" r="1.1"/><circle cx="86.2" cy="46.3" r="1.1"/><circle cx="76.5" cy="54.1" r="1.1"/><circle cx="85.0" cy="63.1" r="1.1"/><circle cx="79.4" cy="64.3" r="1.1"/><circle cx="65.6" cy="72.3" r="1.1"/><circle cx="115.3" cy="14.0" r="1.1"/><circle cx="91.6" cy="35.1" r="1.1"/><circle cx="76.7" cy="39.7" r="1.1"/><circle cx="47.7" cy="59.4" r="1.1"/><circle cx="80.5" cy="43.0" r="1.1"/><circle cx="108.8" cy="17.3" r="1.1"/><circle cx="100.3" cy="31.6" r="1.1"/><circle cx="79.7" cy="53.2" r="1.1"/><circle cx="90.7" cy="32.9" r="1.1"/><circle cx="88.2" cy="34.9" r="1.1"/><circle cx="91.7" cy="45.3" r="1.1"/><circle cx="101.0" cy="44.3" r="1.1"/><circle cx="102.7" cy="31.7" r="1.1"/><circle cx="100.7" cy="32.9" r="1.1"/><circle cx="69.7" cy="45.4" r="1.1"/><circle cx="56.5" cy="62.3" r="1.1"/><circle cx="104.8" cy="15.4" r="1.1"/><circle cx="107.7" cy="35.0" r="1.1"/><circle cx="107.0" cy="27.5" r="1.1"/><circle cx="52.3" cy="72.9" r="1.1"/><circle cx="99.9" cy="33.8" r="1.1"/><circle cx="113.6" cy="9.8" r="1.1"/><circle cx="47.3" cy="46.6" r="1.1"/><circle cx="119.8" cy="39.5" r="1.1"/><circle cx="63.3" cy="61.1" r="1.1"/><circle cx="79.9" cy="68.7" r="1.1"/><circle cx="73.4" cy="45.1" r="1.1"/><circle cx="79.0" cy="73.1" r="1.1"/><circle cx="94.1" cy="41.3" r="1.1"/><circle cx="73.6" cy="84.2" r="1.1"/><circle cx="55.9" cy="83.8" r="1.1"/><circle cx="93.4" cy="62.0" r="1.1"/><circle cx="102.7" cy="13.1" r="1.1"/><circle cx="117.5" cy="15.5" r="1.1"/><circle cx="82.2" cy="69.3" r="1.1"/><circle cx="52.7" cy="62.6" r="1.1"/><circle cx="118.6" cy="20.4" r="1.1"/><circle cx="85.6" cy="40.4" r="1.1"/><circle cx="83.1" cy="44.4" r="1.1"/><circle cx="114.0" cy="22.8" r="1.1"/><circle cx="87.5" cy="26.7" r="1.1"/><circle cx="104.3" cy="14.9" r="1.1"/><circle cx="90.2" cy="60.6" r="1.1"/><circle cx="107.6" cy="11.8" r="1.1"/><circle cx="87.8" cy="55.4" r="1.1"/><circle cx="46.6" cy="53.3" r="1.1"/><circle cx="93.9" cy="37.0" r="1.1"/><circle cx="116.6" cy="17.0" r="1.1"/><circle cx="80.3" cy="40.0" r="1.1"/><circle cx="97.7" cy="67.0" r="1.1"/><circle cx="96.0" cy="37.1" r="1.1"/><circle cx="63.4" cy="47.0" r="1.1"/><circle cx="95.9" cy="18.2" r="1.1"/><circle cx="104.1" cy="10.2" r="1.1"/><circle cx="85.1" cy="35.2" r="1.1"/><circle cx="76.1" cy="74.7" r="1.1"/><circle cx="102.3" cy="32.2" r="1.1"/><circle cx="51.0" cy="66.9" r="1.1"/><circle cx="60.4" cy="73.5" r="1.1"/><circle cx="93.0" cy="25.6" r="1.1"/><circle cx="104.8" cy="33.0" r="1.1"/><circle cx="104.2" cy="22.9" r="1.1"/><circle cx="76.3" cy="69.6" r="1.1"/><circle cx="66.1" cy="58.8" r="1.1"/><circle cx="67.4" cy="71.1" r="1.1"/><circle cx="57.0" cy="81.9" r="1.1"/><circle cx="63.1" cy="52.5" r="1.1"/><circle cx="87.0" cy="47.4" r="1.1"/><circle cx="108.6" cy="19.3" r="1.1"/><circle cx="89.4" cy="78.8" r="1.1"/><circle cx="70.5" cy="61.4" r="1.1"/><circle cx="118.2" cy="20.3" r="1.1"/><circle cx="99.0" cy="34.7" r="1.1"/><circle cx="61.4" cy="67.3" r="1.1"/><circle cx="75.0" cy="44.9" r="1.1"/><circle cx="67.7" cy="47.7" r="1.1"/><circle cx="84.6" cy="38.5" r="1.1"/><circle cx="80.9" cy="65.6" r="1.1"/><circle cx="90.5" cy="45.6" r="1.1"/><circle cx="77.3" cy="60.4" r="1.1"/><circle cx="102.7" cy="68.4" r="1.1"/><circle cx="80.6" cy="45.1" r="1.1"/><circle cx="101.6" cy="38.5" r="1.1"/><circle cx="78.6" cy="21.5" r="1.1"/><circle cx="56.2" cy="60.0" r="1.1"/><circle cx="52.1" cy="60.4" r="1.1"/><circle cx="58.5" cy="65.1" r="1.1"/><circle cx="63.1" cy="51.5" r="1.1"/><circle cx="73.7" cy="46.2" r="1.1"/><circle cx="72.4" cy="71.0" r="1.1"/><circle cx="59.3" cy="63.3" r="1.1"/><circle cx="108.0" cy="17.4" r="1.1"/><circle cx="115.6" cy="29.4" r="1.1"/><circle cx="69.2" cy="70.5" r="1.1"/><circle cx="50.1" cy="70.5" r="1.1"/><circle cx="49.9" cy="70.8" r="1.1"/><circle cx="101.2" cy="40.4" r="1.1"/><circle cx="92.2" cy="43.7" r="1.1"/><circle cx="63.1" cy="43.7" r="1.1"/><circle cx="56.6" cy="76.2" r="1.1"/><circle cx="107.0" cy="13.5" r="1.1"/><circle cx="53.2" cy="72.8" r="1.1"/><circle cx="119.4" cy="44.2" r="1.1"/><circle cx="51.0" cy="66.1" r="1.1"/><circle cx="101.0" cy="29.2" r="1.1"/><circle cx="113.8" cy="33.7" r="1.1"/><circle cx="100.0" cy="39.2" r="1.1"/><circle cx="71.0" cy="57.1" r="1.1"/><circle cx="56.7" cy="64.7" r="1.1"/><circle cx="116.4" cy="22.6" r="1.1"/><circle cx="81.2" cy="73.6" r="1.1"/><circle cx="68.6" cy="54.3" r="1.1"/><circle cx="68.0" cy="68.8" r="1.1"/><circle cx="93.5" cy="26.2" r="1.1"/><circle cx="89.6" cy="16.5" r="1.1"/><circle cx="92.8" cy="33.6" r="1.1"/><circle cx="95.7" cy="46.7" r="1.1"/><circle cx="112.5" cy="42.9" r="1.1"/><circle cx="49.4" cy="65.4" r="1.1"/><circle cx="86.7" cy="45.7" r="1.1"/><circle cx="71.1" cy="54.6" r="1.1"/><circle cx="106.5" cy="32.8" r="1.1"/><circle cx="85.7" cy="61.1" r="1.1"/><circle cx="120.7" cy="15.2" r="1.1"/><circle cx="87.3" cy="60.3" r="1.1"/><circle cx="96.7" cy="24.1" r="1.1"/><circle cx="73.5" cy="71.4" r="1.1"/><circle cx="71.0" cy="68.6" r="1.1"/><circle cx="108.8" cy="55.0" r="1.1"/><circle cx="78.4" cy="50.0" r="1.1"/><circle cx="122.3" cy="23.0" r="1.1"/><circle cx="52.1" cy="71.0" r="1.1"/><circle cx="112.1" cy="8.9" r="1.1"/><circle cx="68.9" cy="63.7" r="1.1"/><circle cx="64.8" cy="53.5" r="1.1"/><circle cx="102.9" cy="37.4" r="1.1"/><circle cx="115.7" cy="15.3" r="1.1"/><circle cx="101.2" cy="27.0" r="1.1"/><circle cx="73.8" cy="49.2" r="1.1"/><circle cx="66.2" cy="69.1" r="1.1"/><circle cx="51.4" cy="76.5" r="1.1"/><circle cx="99.7" cy="15.3" r="1.1"/><circle cx="103.2" cy="16.0" r="1.1"/><circle cx="59.2" cy="42.1" r="1.1"/><circle cx="117.8" cy="19.8" r="1.1"/><circle cx="103.9" cy="28.4" r="1.1"/><circle cx="81.7" cy="48.4" r="1.1"/><circle cx="78.9" cy="48.4" r="1.1"/><circle cx="80.1" cy="29.5" r="1.1"/><circle cx="77.0" cy="62.7" r="1.1"/><circle cx="86.5" cy="48.1" r="1.1"/><circle cx="90.4" cy="42.4" r="1.1"/><circle cx="93.7" cy="15.5" r="1.1"/><circle cx="74.3" cy="43.0" r="1.1"/><circle cx="92.5" cy="27.4" r="1.1"/><circle cx="106.1" cy="26.7" r="1.1"/><circle cx="87.4" cy="59.5" r="1.1"/><circle cx="100.7" cy="35.4" r="1.1"/><circle cx="70.0" cy="75.5" r="1.1"/><circle cx="116.5" cy="23.8" r="1.1"/><circle cx="95.4" cy="45.4" r="1.1"/><circle cx="104.1" cy="31.1" r="1.1"/><circle cx="56.5" cy="64.9" r="1.1"/><circle cx="96.7" cy="54.6" r="1.1"/><circle cx="97.5" cy="54.2" r="1.1"/><circle cx="107.0" cy="16.0" r="1.1"/><circle cx="107.6" cy="32.4" r="1.1"/><circle cx="80.2" cy="32.7" r="1.1"/><circle cx="86.5" cy="86.2" r="1.1"/><circle cx="47.3" cy="75.0" r="1.1"/><circle cx="116.6" cy="38.2" r="1.1"/><circle cx="111.2" cy="11.8" r="1.1"/><circle cx="112.2" cy="18.1" r="1.1"/><circle cx="107.8" cy="21.5" r="1.1"/><circle cx="51.3" cy="69.7" r="1.1"/><circle cx="116.0" cy="13.6" r="1.1"/><circle cx="88.6" cy="59.7" r="1.1"/><circle cx="53.3" cy="50.9" r="1.1"/><circle cx="113.3" cy="40.8" r="1.1"/><circle cx="173.4" cy="54.5" r="1.1"/><circle cx="183.6" cy="57.4" r="1.1"/><circle cx="161.7" cy="76.8" r="1.1"/><circle cx="198.1" cy="48.4" r="1.1"/><circle cx="202.2" cy="75.4" r="1.1"/><circle cx="204.6" cy="69.6" r="1.1"/><circle cx="144.1" cy="43.8" r="1.1"/><circle cx="164.1" cy="48.8" r="1.1"/><circle cx="140.2" cy="87.1" r="1.1"/><circle cx="188.6" cy="70.6" r="1.1"/><circle cx="170.2" cy="63.8" r="1.1"/><circle cx="176.1" cy="65.8" r="1.1"/><circle cx="152.7" cy="28.3" r="1.1"/><circle cx="190.1" cy="38.2" r="1.1"/><circle cx="145.6" cy="50.6" r="1.1"/><circle cx="199.5" cy="66.8" r="1.1"/><circle cx="214.7" cy="57.2" r="1.1"/><circle cx="165.2" cy="83.0" r="1.1"/><circle cx="194.8" cy="58.3" r="1.1"/><circle cx="194.8" cy="78.9" r="1.1"/><circle cx="138.3" cy="34.1" r="1.1"/><circle cx="219.4" cy="48.7" r="1.1"/><circle cx="188.8" cy="42.6" r="1.1"/><circle cx="215.7" cy="49.9" r="1.1"/><circle cx="199.7" cy="86.2" r="1.1"/><circle cx="180.4" cy="65.4" r="1.1"/><circle cx="174.0" cy="44.6" r="1.1"/><circle cx="164.9" cy="43.1" r="1.1"/><circle cx="149.6" cy="37.9" r="1.1"/><circle cx="192.9" cy="76.8" r="1.1"/><circle cx="169.0" cy="39.6" r="1.1"/><circle cx="188.2" cy="55.7" r="1.1"/><circle cx="182.5" cy="55.5" r="1.1"/><circle cx="159.5" cy="55.6" r="1.1"/><circle cx="211.6" cy="82.9" r="1.1"/><circle cx="228.9" cy="52.1" r="1.1"/><circle cx="167.7" cy="80.4" r="1.1"/><circle cx="190.6" cy="61.5" r="1.1"/><circle cx="173.4" cy="30.3" r="1.1"/><circle cx="158.9" cy="64.6" r="1.1"/><circle cx="216.7" cy="50.7" r="1.1"/><circle cx="184.5" cy="53.5" r="1.1"/><circle cx="168.6" cy="65.9" r="1.1"/><circle cx="168.9" cy="57.4" r="1.1"/><circle cx="176.8" cy="54.3" r="1.1"/><circle cx="210.4" cy="76.4" r="1.1"/><circle cx="195.6" cy="64.0" r="1.1"/><circle cx="161.0" cy="48.9" r="1.1"/><circle cx="192.1" cy="43.3" r="1.1"/><circle cx="192.7" cy="85.0" r="1.1"/><circle cx="190.3" cy="70.7" r="1.1"/><circle cx="185.9" cy="73.8" r="1.1"/><circle cx="139.9" cy="71.5" r="1.1"/><circle cx="204.4" cy="72.0" r="1.1"/><circle cx="227.7" cy="73.9" r="1.1"/><circle cx="172.1" cy="60.8" r="1.1"/><circle cx="208.2" cy="80.6" r="1.1"/><circle cx="179.3" cy="72.2" r="1.1"/><circle cx="196.3" cy="56.7" r="1.1"/><circle cx="174.5" cy="40.7" r="1.1"/><circle cx="165.1" cy="80.5" r="1.1"/><circle cx="191.8" cy="55.5" r="1.1"/><circle cx="169.5" cy="64.3" r="1.1"/><circle cx="203.7" cy="72.8" r="1.1"/><circle cx="187.1" cy="51.5" r="1.1"/><circle cx="195.8" cy="41.9" r="1.1"/><circle cx="148.2" cy="47.6" r="1.1"/><circle cx="223.0" cy="74.9" r="1.1"/><circle cx="179.7" cy="39.4" r="1.1"/><circle cx="208.2" cy="57.4" r="1.1"/><circle cx="141.6" cy="57.9" r="1.1"/><circle cx="152.4" cy="57.6" r="1.1"/><circle cx="149.1" cy="53.0" r="1.1"/><circle cx="185.8" cy="83.4" r="1.1"/><circle cx="199.0" cy="55.7" r="1.1"/><circle cx="177.6" cy="30.2" r="1.1"/><circle cx="218.5" cy="67.1" r="1.1"/><circle cx="169.9" cy="74.9" r="1.1"/><circle cx="184.4" cy="44.5" r="1.1"/><circle cx="205.7" cy="42.8" r="1.1"/><circle cx="187.7" cy="33.1" r="1.1"/><circle cx="190.4" cy="53.0" r="1.1"/><circle cx="218.0" cy="83.4" r="1.1"/><circle cx="179.3" cy="63.0" r="1.1"/><circle cx="180.1" cy="51.0" r="1.1"/><circle cx="210.5" cy="49.1" r="1.1"/><circle cx="190.1" cy="66.9" r="1.1"/><circle cx="195.4" cy="54.5" r="1.1"/><circle cx="139.1" cy="42.5" r="1.1"/><circle cx="178.5" cy="39.3" r="1.1"/><circle cx="181.7" cy="67.4" r="1.1"/><circle cx="164.7" cy="50.9" r="1.1"/><circle cx="186.1" cy="77.5" r="1.1"/><circle cx="185.3" cy="55.7" r="1.1"/><circle cx="166.2" cy="31.5" r="1.1"/><circle cx="156.1" cy="48.6" r="1.1"/><circle cx="187.4" cy="58.7" r="1.1"/><circle cx="172.5" cy="41.9" r="1.1"/><circle cx="167.9" cy="43.2" r="1.1"/><circle cx="174.5" cy="49.2" r="1.1"/><circle cx="208.9" cy="66.8" r="1.1"/><circle cx="150.0" cy="49.9" r="1.1"/><circle cx="149.1" cy="63.6" r="1.1"/><circle cx="180.9" cy="43.8" r="1.1"/><circle cx="186.1" cy="79.2" r="1.1"/><circle cx="194.4" cy="70.6" r="1.1"/><circle cx="222.0" cy="52.8" r="1.1"/><circle cx="163.0" cy="73.9" r="1.1"/><circle cx="158.3" cy="41.9" r="1.1"/><circle cx="200.8" cy="45.9" r="1.1"/><circle cx="207.9" cy="48.4" r="1.1"/><circle cx="164.3" cy="47.5" r="1.1"/><circle cx="202.4" cy="70.2" r="1.1"/><circle cx="152.0" cy="43.8" r="1.1"/><circle cx="185.2" cy="62.1" r="1.1"/><circle cx="215.4" cy="55.4" r="1.1"/><circle cx="195.6" cy="54.8" r="1.1"/><circle cx="157.3" cy="47.3" r="1.1"/><circle cx="226.2" cy="70.2" r="1.1"/><circle cx="211.3" cy="53.8" r="1.1"/><circle cx="209.2" cy="39.9" r="1.1"/><circle cx="171.1" cy="44.7" r="1.1"/><circle cx="184.9" cy="73.2" r="1.1"/><circle cx="223.4" cy="64.5" r="1.1"/><circle cx="178.1" cy="65.2" r="1.1"/><circle cx="153.7" cy="76.6" r="1.1"/><circle cx="188.5" cy="77.4" r="1.1"/><circle cx="226.1" cy="40.4" r="1.1"/><circle cx="172.7" cy="37.4" r="1.1"/><circle cx="161.8" cy="58.4" r="1.1"/><circle cx="171.3" cy="55.0" r="1.1"/><circle cx="188.3" cy="35.6" r="1.1"/><circle cx="203.3" cy="48.1" r="1.1"/><circle cx="207.9" cy="79.1" r="1.1"/><circle cx="173.1" cy="49.3" r="1.1"/><circle cx="159.4" cy="60.0" r="1.1"/><circle cx="171.0" cy="33.8" r="1.1"/><circle cx="207.9" cy="42.9" r="1.1"/><circle cx="207.4" cy="35.2" r="1.1"/><circle cx="139.5" cy="58.0" r="1.1"/><circle cx="170.9" cy="37.5" r="1.1"/><circle cx="221.8" cy="44.5" r="1.1"/><circle cx="156.3" cy="67.1" r="1.1"/><circle cx="188.7" cy="72.6" r="1.1"/><circle cx="218.2" cy="44.2" r="1.1"/><circle cx="192.5" cy="84.1" r="1.1"/><circle cx="150.3" cy="60.4" r="1.1"/><circle cx="165.1" cy="52.6" r="1.1"/><circle cx="191.8" cy="79.3" r="1.1"/><circle cx="226.8" cy="83.0" r="1.1"/><circle cx="217.4" cy="48.1" r="1.1"/><circle cx="211.0" cy="64.5" r="1.1"/><circle cx="220.7" cy="41.4" r="1.1"/><circle cx="214.4" cy="40.6" r="1.1"/><circle cx="175.3" cy="54.2" r="1.1"/><circle cx="168.8" cy="79.4" r="1.1"/><circle cx="193.3" cy="33.9" r="1.1"/><circle cx="192.3" cy="48.2" r="1.1"/><circle cx="141.0" cy="46.4" r="1.1"/><circle cx="148.4" cy="64.9" r="1.1"/><circle cx="165.1" cy="67.6" r="1.1"/><circle cx="162.5" cy="36.0" r="1.1"/><circle cx="184.5" cy="52.2" r="1.1"/><circle cx="191.9" cy="64.9" r="1.1"/><circle cx="201.6" cy="79.4" r="1.1"/><circle cx="220.9" cy="43.6" r="1.1"/><circle cx="180.2" cy="84.2" r="1.1"/><circle cx="178.2" cy="59.1" r="1.1"/><circle cx="181.1" cy="39.6" r="1.1"/><circle cx="190.4" cy="43.0" r="1.1"/><circle cx="167.6" cy="72.4" r="1.1"/><circle cx="194.7" cy="68.8" r="1.1"/><circle cx="161.6" cy="59.7" r="1.1"/><circle cx="190.7" cy="46.5" r="1.1"/><circle cx="141.3" cy="70.8" r="1.1"/><circle cx="218.4" cy="55.5" r="1.1"/><circle cx="197.1" cy="59.4" r="1.1"/><circle cx="197.2" cy="54.5" r="1.1"/><circle cx="188.5" cy="64.9" r="1.1"/><circle cx="170.9" cy="58.5" r="1.1"/><circle cx="180.7" cy="65.1" r="1.1"/><circle cx="201.3" cy="28.6" r="1.1"/><circle cx="199.6" cy="62.4" r="1.1"/><circle cx="209.1" cy="61.0" r="1.1"/><circle cx="171.1" cy="62.0" r="1.1"/><circle cx="195.8" cy="44.1" r="1.1"/><circle cx="181.2" cy="44.4" r="1.1"/><circle cx="156.3" cy="50.0" r="1.1"/><circle cx="157.5" cy="76.3" r="1.1"/><circle cx="153.1" cy="84.3" r="1.1"/><circle cx="191.8" cy="86.1" r="1.1"/><circle cx="222.5" cy="83.3" r="1.1"/><circle cx="193.5" cy="58.4" r="1.1"/><circle cx="144.8" cy="37.1" r="1.1"/><circle cx="146.1" cy="68.6" r="1.1"/><circle cx="212.1" cy="49.9" r="1.1"/><circle cx="224.6" cy="55.6" r="1.1"/><circle cx="157.8" cy="35.5" r="1.1"/><circle cx="225.9" cy="69.2" r="1.1"/><circle cx="142.3" cy="84.8" r="1.1"/><circle cx="155.5" cy="28.6" r="1.1"/><circle cx="172.4" cy="79.2" r="1.1"/><circle cx="158.3" cy="64.3" r="1.1"/><circle cx="155.1" cy="46.9" r="1.1"/><circle cx="174.4" cy="81.5" r="1.1"/><circle cx="199.7" cy="51.5" r="1.1"/><circle cx="221.7" cy="74.6" r="1.1"/><circle cx="165.1" cy="67.9" r="1.1"/><circle cx="229.7" cy="39.5" r="1.1"/><circle cx="209.9" cy="85.5" r="1.1"/><circle cx="152.2" cy="78.5" r="1.1"/><circle cx="219.6" cy="57.9" r="1.1"/><circle cx="207.4" cy="63.3" r="1.1"/><circle cx="217.4" cy="61.8" r="1.1"/><circle cx="153.2" cy="41.3" r="1.1"/><circle cx="74.4" cy="125.6" r="1.1"/><circle cx="69.4" cy="131.4" r="1.1"/><circle cx="54.1" cy="134.3" r="1.1"/><circle cx="61.6" cy="134.3" r="1.1"/><circle cx="60.4" cy="139.0" r="1.1"/><circle cx="63.7" cy="139.0" r="1.1"/><circle cx="74.5" cy="137.2" r="1.1"/><circle cx="85.8" cy="144.8" r="1.1"/><circle cx="104.5" cy="131.7" r="1.1"/><circle cx="111.0" cy="123.5" r="1.1"/></g>
<text transform="translate(74.5,123.2) scale(0.868,1)" font-size="8.2" text-anchor="middle" fill="#000">5</text>
<text transform="translate(69.2,129.0) scale(0.868,1)" font-size="8.2" text-anchor="middle" fill="#000">10</text>
<text transform="translate(54.0,131.9) scale(0.868,1)" font-size="8.2" text-anchor="middle" fill="#000">6</text>
<text transform="translate(61.9,131.9) scale(0.868,1)" font-size="8.2" text-anchor="middle" fill="#000">2</text>
<text transform="translate(60.5,136.6) scale(0.868,1)" font-size="8.2" text-anchor="middle" fill="#000">1</text>
<text transform="translate(63.4,136.6) scale(0.868,1)" font-size="8.2" text-anchor="middle" fill="#000">4</text>
<text transform="translate(74.5,134.8) scale(0.868,1)" font-size="8.2" text-anchor="middle" fill="#000">8</text>
<text transform="translate(85.3,142.4) scale(0.868,1)" font-size="8.2" text-anchor="middle" fill="#000">7</text>
<text transform="translate(104.2,129.3) scale(0.868,1)" font-size="8.2" text-anchor="middle" fill="#000">9</text>
<text transform="translate(111.5,121.1) scale(0.868,1)" font-size="8.2" text-anchor="middle" fill="#000">3</text>
<rect x="165.9" y="3.5" width="92.1" height="7.8" fill="#fff" stroke="#444" stroke-width="0.7"/>
<text transform="translate(203.5,10.0) scale(0.868,1)" font-size="8.2" text-anchor="middle" fill="#000">Kv13-1AGT-run4</text>
<circle cx="244" cy="7.4" r="1.1" fill="#0000ee"/>
</g>
<g fill="none" stroke="#999" stroke-width="1.4"><g transform="translate(64.5,859.5) rotate(257)" opacity="0.34"><ellipse cx="-4.4" cy="0" rx="8.8" ry="11.8"/><ellipse cx="4.4" cy="0" rx="8.8" ry="11.8"/></g><g transform="translate(214.5,797.9) rotate(36)" opacity="0.37"><ellipse cx="-7.1" cy="0" rx="8.2" ry="11.0"/><ellipse cx="0.0" cy="0" rx="8.2" ry="11.0"/><ellipse cx="7.1" cy="0" rx="8.2" ry="11.0"/></g><g transform="translate(64.6,833.4) rotate(-88)" opacity="0.33"><ellipse cx="-3.1" cy="0" rx="9.0" ry="12.0"/><ellipse cx="3.1" cy="0" rx="9.0" ry="12.0"/></g><g transform="translate(170.6,911.3) rotate(187)" opacity="0.40"><ellipse cx="-12.5" cy="0" rx="9.0" ry="12.0"/><ellipse cx="-4.2" cy="0" rx="9.0" ry="12.0"/><ellipse cx="4.2" cy="0" rx="9.0" ry="12.0"/><ellipse cx="12.5" cy="0" rx="9.0" ry="12.0"/></g><g transform="translate(101.2,798.2) rotate(-19)" opacity="0.44"><ellipse cx="-7.1" cy="0" rx="8.9" ry="11.9"/><ellipse cx="0.0" cy="0" rx="8.9" ry="11.9"/><ellipse cx="7.1" cy="0" rx="8.9" ry="11.9"/></g><g transform="translate(219.9,891.5) rotate(173)" opacity="0.48"><ellipse cx="-8.3" cy="0" rx="7.8" ry="10.4"/><ellipse cx="0.0" cy="0" rx="7.8" ry="10.4"/><ellipse cx="8.3" cy="0" rx="7.8" ry="10.4"/></g><g transform="translate(181.4,864.6) rotate(91)" opacity="0.49"><ellipse cx="-9.4" cy="0" rx="8.0" ry="10.6"/><ellipse cx="-3.1" cy="0" rx="8.0" ry="10.6"/><ellipse cx="3.1" cy="0" rx="8.0" ry="10.6"/><ellipse cx="9.4" cy="0" rx="8.0" ry="10.6"/></g><g transform="translate(100.0,735.6) rotate(-63)" opacity="0.48"><ellipse cx="-3.9" cy="0" rx="8.1" ry="10.8"/><ellipse cx="3.9" cy="0" rx="8.1" ry="10.8"/></g><g transform="translate(169.4,833.5) rotate(80)" opacity="0.45"><ellipse cx="-3.3" cy="0" rx="7.3" ry="9.7"/><ellipse cx="3.3" cy="0" rx="7.3" ry="9.7"/></g><g transform="translate(96.7,777.7) rotate(-77)" opacity="0.37"><ellipse cx="-8.3" cy="0" rx="8.2" ry="11.0"/><ellipse cx="0.0" cy="0" rx="8.2" ry="11.0"/><ellipse cx="8.3" cy="0" rx="8.2" ry="11.0"/></g><g transform="translate(198.9,928.8) rotate(185)" opacity="0.38"><ellipse cx="-4.1" cy="0" rx="7.9" ry="10.6"/><ellipse cx="4.1" cy="0" rx="7.9" ry="10.6"/></g><g transform="translate(32.0,818.1) rotate(-118)" opacity="0.50"><ellipse cx="-11.7" cy="0" rx="8.1" ry="10.8"/><ellipse cx="-3.9" cy="0" rx="8.1" ry="10.8"/><ellipse cx="3.9" cy="0" rx="8.1" ry="10.8"/><ellipse cx="11.7" cy="0" rx="8.1" ry="10.8"/></g><g transform="translate(175.2,930.4) rotate(177)" opacity="0.37"><ellipse cx="-8.4" cy="0" rx="8.1" ry="10.8"/><ellipse cx="0.0" cy="0" rx="8.1" ry="10.8"/><ellipse cx="8.4" cy="0" rx="8.1" ry="10.8"/></g><g transform="translate(221.3,852.8) rotate(82)" opacity="0.41"><ellipse cx="-8.2" cy="0" rx="9.3" ry="12.4"/><ellipse cx="0.0" cy="0" rx="9.3" ry="12.4"/><ellipse cx="8.2" cy="0" rx="9.3" ry="12.4"/></g><g transform="translate(94.0,854.1) rotate(207)" opacity="0.43"><ellipse cx="-8.0" cy="0" rx="7.2" ry="9.6"/><ellipse cx="0.0" cy="0" rx="7.2" ry="9.6"/><ellipse cx="8.0" cy="0" rx="7.2" ry="9.6"/></g><g transform="translate(42.9,862.9) rotate(284)" opacity="0.42"><ellipse cx="-12.6" cy="0" rx="8.4" ry="11.2"/><ellipse cx="-4.2" cy="0" rx="8.4" ry="11.2"/><ellipse cx="4.2" cy="0" rx="8.4" ry="11.2"/><ellipse cx="12.6" cy="0" rx="8.4" ry="11.2"/></g><g transform="translate(171.9,784.3) rotate(66)" opacity="0.40"><ellipse cx="-9.4" cy="0" rx="7.5" ry="10.0"/><ellipse cx="-3.1" cy="0" rx="7.5" ry="10.0"/><ellipse cx="3.1" cy="0" rx="7.5" ry="10.0"/><ellipse cx="9.4" cy="0" rx="7.5" ry="10.0"/></g><g transform="translate(97.2,929.9) rotate(239)" opacity="0.33"><ellipse cx="-3.1" cy="0" rx="7.6" ry="10.2"/><ellipse cx="3.1" cy="0" rx="7.6" ry="10.2"/></g><g transform="translate(147.1,748.8) rotate(-14)" opacity="0.31"><ellipse cx="-4.2" cy="0" rx="8.6" ry="11.5"/><ellipse cx="4.2" cy="0" rx="8.6" ry="11.5"/></g><g transform="translate(191.0,761.4) rotate(40)" opacity="0.46"><ellipse cx="-9.4" cy="0" rx="7.3" ry="9.8"/><ellipse cx="-3.1" cy="0" rx="7.3" ry="9.8"/><ellipse cx="3.1" cy="0" rx="7.3" ry="9.8"/><ellipse cx="9.4" cy="0" rx="7.3" ry="9.8"/></g><g transform="translate(239.3,837.3) rotate(130)" opacity="0.32"><ellipse cx="-4.0" cy="0" rx="7.2" ry="9.6"/><ellipse cx="4.0" cy="0" rx="7.2" ry="9.6"/></g><g transform="translate(201.6,868.1) rotate(148)" opacity="0.47"><ellipse cx="-6.7" cy="0" rx="7.7" ry="10.2"/><ellipse cx="0.0" cy="0" rx="7.7" ry="10.2"/><ellipse cx="6.7" cy="0" rx="7.7" ry="10.2"/></g><g transform="translate(193.0,824.5) rotate(79)" opacity="0.51"><ellipse cx="-7.0" cy="0" rx="8.0" ry="10.7"/><ellipse cx="0.0" cy="0" rx="8.0" ry="10.7"/><ellipse cx="7.0" cy="0" rx="8.0" ry="10.7"/></g><g transform="translate(168.3,738.3) rotate(34)" opacity="0.32"><ellipse cx="-8.4" cy="0" rx="8.2" ry="11.0"/><ellipse cx="0.0" cy="0" rx="8.2" ry="11.0"/><ellipse cx="8.4" cy="0" rx="8.2" ry="11.0"/></g><g transform="translate(56.9,805.6) rotate(-57)" opacity="0.45"><ellipse cx="-4.2" cy="0" rx="8.0" ry="10.7"/><ellipse cx="4.2" cy="0" rx="8.0" ry="10.7"/></g><g transform="translate(159.8,892.2) rotate(194)" opacity="0.51"><ellipse cx="-8.7" cy="0" rx="9.0" ry="12.0"/><ellipse cx="0.0" cy="0" rx="9.0" ry="12.0"/><ellipse cx="8.7" cy="0" rx="9.0" ry="12.0"/></g><g transform="translate(185.7,887.9) rotate(151)" opacity="0.32"><ellipse cx="-9.0" cy="0" rx="7.9" ry="10.6"/><ellipse cx="-3.0" cy="0" rx="7.9" ry="10.6"/><ellipse cx="3.0" cy="0" rx="7.9" ry="10.6"/><ellipse cx="9.0" cy="0" rx="7.9" ry="10.6"/></g><g transform="translate(124.0,876.2) rotate(242)" opacity="0.44"><ellipse cx="-3.2" cy="0" rx="7.7" ry="10.2"/><ellipse cx="3.2" cy="0" rx="7.7" ry="10.2"/></g><g transform="translate(161.6,854.1) rotate(144)" opacity="0.36"><ellipse cx="-7.3" cy="0" rx="7.6" ry="10.1"/><ellipse cx="0.0" cy="0" rx="7.6" ry="10.1"/><ellipse cx="7.3" cy="0" rx="7.6" ry="10.1"/></g><g transform="translate(141.2,908.4) rotate(224)" opacity="0.37"><ellipse cx="-4.1" cy="0" rx="8.2" ry="10.9"/><ellipse cx="4.1" cy="0" rx="8.2" ry="10.9"/></g><g transform="translate(77.2,899.8) rotate(190)" opacity="0.30"><ellipse cx="-4.1" cy="0" rx="9.2" ry="12.2"/><ellipse cx="4.1" cy="0" rx="9.2" ry="12.2"/></g><g transform="translate(98.2,817.1) rotate(-65)" opacity="0.38"><ellipse cx="-3.3" cy="0" rx="7.8" ry="10.4"/><ellipse cx="3.3" cy="0" rx="7.8" ry="10.4"/></g><g transform="translate(180.5,809.7) rotate(66)" opacity="0.35"><ellipse cx="-11.7" cy="0" rx="8.7" ry="11.7"/><ellipse cx="-3.9" cy="0" rx="8.7" ry="11.7"/><ellipse cx="3.9" cy="0" rx="8.7" ry="11.7"/><ellipse cx="11.7" cy="0" rx="8.7" ry="11.7"/></g><g transform="translate(138.3,938.4) rotate(148)" opacity="0.51"><ellipse cx="-8.7" cy="0" rx="8.0" ry="10.7"/><ellipse cx="0.0" cy="0" rx="8.0" ry="10.7"/><ellipse cx="8.7" cy="0" rx="8.0" ry="10.7"/></g><g transform="translate(135.7,802.8) rotate(9)" opacity="0.50"><ellipse cx="-10.2" cy="0" rx="8.2" ry="10.9"/><ellipse cx="-3.4" cy="0" rx="8.2" ry="10.9"/><ellipse cx="3.4" cy="0" rx="8.2" ry="10.9"/><ellipse cx="10.2" cy="0" rx="8.2" ry="10.9"/></g><g transform="translate(149.2,868.7) rotate(202)" opacity="0.32"><ellipse cx="-8.3" cy="0" rx="8.6" ry="11.5"/><ellipse cx="0.0" cy="0" rx="8.6" ry="11.5"/><ellipse cx="8.3" cy="0" rx="8.6" ry="11.5"/></g><g transform="translate(192.8,787.4) rotate(84)" opacity="0.48"><ellipse cx="-8.8" cy="0" rx="7.2" ry="9.6"/><ellipse cx="0.0" cy="0" rx="7.2" ry="9.6"/><ellipse cx="8.8" cy="0" rx="7.2" ry="9.6"/></g><g transform="translate(42.6,887.9) rotate(230)" opacity="0.47"><ellipse cx="-12.5" cy="0" rx="8.9" ry="11.9"/><ellipse cx="-4.2" cy="0" rx="8.9" ry="11.9"/><ellipse cx="4.2" cy="0" rx="8.9" ry="11.9"/><ellipse cx="12.5" cy="0" rx="8.9" ry="11.9"/></g><g transform="translate(56.3,780.9) rotate(-100)" opacity="0.50"><ellipse cx="-4.3" cy="0" rx="9.1" ry="12.2"/><ellipse cx="4.3" cy="0" rx="9.1" ry="12.2"/></g><g transform="translate(133.0,775.8) rotate(-10)" opacity="0.33"><ellipse cx="-3.9" cy="0" rx="8.7" ry="11.6"/><ellipse cx="3.9" cy="0" rx="8.7" ry="11.6"/></g><g transform="translate(98.8,889.2) rotate(183)" opacity="0.48"><ellipse cx="-8.7" cy="0" rx="7.5" ry="9.9"/><ellipse cx="0.0" cy="0" rx="7.5" ry="9.9"/><ellipse cx="8.7" cy="0" rx="7.5" ry="9.9"/></g><g transform="translate(125.6,748.2) rotate(-45)" opacity="0.42"><ellipse cx="-10.2" cy="0" rx="9.4" ry="12.5"/><ellipse cx="-3.4" cy="0" rx="9.4" ry="12.5"/><ellipse cx="3.4" cy="0" rx="9.4" ry="12.5"/><ellipse cx="10.2" cy="0" rx="9.4" ry="12.5"/></g><g transform="translate(117.4,898.5) rotate(164)" opacity="0.49"><ellipse cx="-4.2" cy="0" rx="7.1" ry="9.5"/><ellipse cx="4.2" cy="0" rx="7.1" ry="9.5"/></g><g transform="translate(206.1,773.8) rotate(79)" opacity="0.42"><ellipse cx="-3.9" cy="0" rx="7.9" ry="10.6"/><ellipse cx="3.9" cy="0" rx="7.9" ry="10.6"/></g><g transform="translate(222.9,827.5) rotate(123)" opacity="0.43"><ellipse cx="-13.3" cy="0" rx="8.2" ry="10.9"/><ellipse cx="-4.4" cy="0" rx="8.2" ry="10.9"/><ellipse cx="4.4" cy="0" rx="8.2" ry="10.9"/><ellipse cx="13.3" cy="0" rx="8.2" ry="10.9"/></g><g transform="translate(77.1,773.4) rotate(-8)" opacity="0.34"><ellipse cx="-6.6" cy="0" rx="7.2" ry="9.6"/><ellipse cx="0.0" cy="0" rx="7.2" ry="9.6"/><ellipse cx="6.6" cy="0" rx="7.2" ry="9.6"/></g><g transform="translate(111.8,761.4) rotate(-1)" opacity="0.42"><ellipse cx="-7.6" cy="0" rx="7.6" ry="10.1"/><ellipse cx="0.0" cy="0" rx="7.6" ry="10.1"/><ellipse cx="7.6" cy="0" rx="7.6" ry="10.1"/></g><g transform="translate(228.9,776.8) rotate(22)" opacity="0.42"><ellipse cx="-7.2" cy="0" rx="7.8" ry="10.4"/><ellipse cx="0.0" cy="0" rx="7.8" ry="10.4"/><ellipse cx="7.2" cy="0" rx="7.8" ry="10.4"/></g><g transform="translate(77.2,752.7) rotate(14)" opacity="0.45"><ellipse cx="-10.6" cy="0" rx="8.7" ry="11.6"/><ellipse cx="-3.5" cy="0" rx="8.7" ry="11.6"/><ellipse cx="3.5" cy="0" rx="8.7" ry="11.6"/><ellipse cx="10.6" cy="0" rx="8.7" ry="11.6"/></g><g transform="translate(30.5,845.4) rotate(226)" opacity="0.47"><ellipse cx="-8.2" cy="0" rx="8.6" ry="11.5"/><ellipse cx="0.0" cy="0" rx="8.6" ry="11.5"/><ellipse cx="8.2" cy="0" rx="8.6" ry="11.5"/></g><g transform="translate(240.4,803.4) rotate(34)" opacity="0.46"><ellipse cx="-7.1" cy="0" rx="7.2" ry="9.5"/><ellipse cx="0.0" cy="0" rx="7.2" ry="9.5"/><ellipse cx="7.1" cy="0" rx="7.2" ry="9.5"/></g><g transform="translate(160.9,803.7) rotate(8)" opacity="0.49"><ellipse cx="-12.5" cy="0" rx="7.4" ry="9.8"/><ellipse cx="-4.2" cy="0" rx="7.4" ry="9.8"/><ellipse cx="4.2" cy="0" rx="7.4" ry="9.8"/><ellipse cx="12.5" cy="0" rx="7.4" ry="9.8"/></g><g transform="translate(200.5,900.5) rotate(170)" opacity="0.36"><ellipse cx="-11.8" cy="0" rx="7.6" ry="10.1"/><ellipse cx="-3.9" cy="0" rx="7.6" ry="10.1"/><ellipse cx="3.9" cy="0" rx="7.6" ry="10.1"/><ellipse cx="11.8" cy="0" rx="7.6" ry="10.1"/></g><g transform="translate(84.3,874.3) rotate(223)" opacity="0.47"><ellipse cx="-13.3" cy="0" rx="8.8" ry="11.7"/><ellipse cx="-4.4" cy="0" rx="8.8" ry="11.7"/><ellipse cx="4.4" cy="0" rx="8.8" ry="11.7"/><ellipse cx="13.3" cy="0" rx="8.8" ry="11.7"/></g><g transform="translate(41.4,792.9) rotate(-60)" opacity="0.46"><ellipse cx="-3.3" cy="0" rx="7.7" ry="10.3"/><ellipse cx="3.3" cy="0" rx="7.7" ry="10.3"/></g><g transform="translate(236.3,869.0) rotate(91)" opacity="0.37"><ellipse cx="-8.2" cy="0" rx="8.4" ry="11.2"/><ellipse cx="0.0" cy="0" rx="8.4" ry="11.2"/><ellipse cx="8.2" cy="0" rx="8.4" ry="11.2"/></g><g transform="translate(60.3,913.3) rotate(258)" opacity="0.33"><ellipse cx="-3.9" cy="0" rx="7.4" ry="9.8"/><ellipse cx="3.9" cy="0" rx="7.4" ry="9.8"/></g><g transform="translate(136.9,730.7) rotate(12)" opacity="0.48"><ellipse cx="-3.6" cy="0" rx="7.5" ry="10.0"/><ellipse cx="3.6" cy="0" rx="7.5" ry="10.0"/></g><g transform="translate(153.0,768.9) rotate(22)" opacity="0.52"><ellipse cx="-3.0" cy="0" rx="7.4" ry="9.8"/><ellipse cx="3.0" cy="0" rx="7.4" ry="9.8"/></g><g transform="translate(78.5,798.7) rotate(-64)" opacity="0.50"><ellipse cx="-4.2" cy="0" rx="7.9" ry="10.5"/><ellipse cx="4.2" cy="0" rx="7.9" ry="10.5"/></g><g transform="translate(126.5,923.1) rotate(152)" opacity="0.38"><ellipse cx="-4.2" cy="0" rx="8.9" ry="11.8"/><ellipse cx="4.2" cy="0" rx="8.9" ry="11.8"/></g><g transform="translate(59.9,761.2) rotate(-63)" opacity="0.43"><ellipse cx="-8.2" cy="0" rx="8.5" ry="11.4"/><ellipse cx="0.0" cy="0" rx="8.5" ry="11.4"/><ellipse cx="8.2" cy="0" rx="8.5" ry="11.4"/></g></g><g fill="#ffe550" opacity="0.55"><circle cx="31.7" cy="746.7" r="4.8"/><circle cx="35.0" cy="750.0" r="4.8"/><circle cx="126.7" cy="735.0" r="4.8"/><circle cx="128.0" cy="743.0" r="4.8"/><circle cx="213.0" cy="731.7" r="4.8"/><circle cx="218.0" cy="741.7" r="4.8"/><circle cx="50.0" cy="771.7" r="4.8"/><circle cx="53.0" cy="780.0" r="4.8"/><circle cx="90.0" cy="780.0" r="4.8"/><circle cx="127.0" cy="765.0" r="4.8"/><circle cx="182.0" cy="755.0" r="4.8"/><circle cx="183.0" cy="763.0" r="4.8"/><circle cx="36.7" cy="836.7" r="4.8"/><circle cx="41.7" cy="840.0" r="4.8"/><circle cx="86.7" cy="823.0" r="4.8"/><circle cx="90.0" cy="826.0" r="4.8"/><circle cx="230.0" cy="826.7" r="4.8"/><circle cx="213.0" cy="838.0" r="4.8"/><circle cx="76.7" cy="870.0" r="4.8"/><circle cx="71.7" cy="891.7" r="4.8"/><circle cx="70.0" cy="900.0" r="4.8"/><circle cx="83.0" cy="900.0" r="4.8"/><circle cx="180.0" cy="873.0" r="4.8"/><circle cx="206.7" cy="886.7" r="4.8"/><circle cx="230.0" cy="910.0" r="4.8"/><circle cx="230.0" cy="916.7" r="4.8"/><circle cx="38.3" cy="928.0" r="4.8"/><circle cx="50.0" cy="930.0" r="4.8"/><circle cx="53.0" cy="923.0" r="4.8"/><circle cx="126.7" cy="873.0" r="4.8"/><circle cx="136.7" cy="926.7" r="4.8"/></g><g fill="#70e6fa" opacity="0.55"><circle cx="206.7" cy="755.0" r="4.5"/><circle cx="61.7" cy="815.0" r="4.5"/><circle cx="70.0" cy="818.0" r="4.5"/><circle cx="200.0" cy="841.7" r="4.5"/><circle cx="210.0" cy="848.0" r="4.5"/><circle cx="108.0" cy="903.0" r="4.5"/><circle cx="118.0" cy="895.0" r="4.5"/><circle cx="40.0" cy="903.0" r="4.5"/></g><g fill="none" stroke="#999" stroke-width="1.4"><g transform="translate(500.5,805.6) rotate(121)" opacity="0.34"><ellipse cx="-12.9" cy="0" rx="8.7" ry="11.6"/><ellipse cx="-4.3" cy="0" rx="8.7" ry="11.6"/><ellipse cx="4.3" cy="0" rx="8.7" ry="11.6"/><ellipse cx="12.9" cy="0" rx="8.7" ry="11.6"/></g><g transform="translate(426.2,835.3) rotate(144)" opacity="0.31"><ellipse cx="-4.5" cy="0" rx="8.5" ry="11.3"/><ellipse cx="4.5" cy="0" rx="8.5" ry="11.3"/></g><g transform="translate(442.2,924.3) rotate(186)" opacity="0.30"><ellipse cx="-8.7" cy="0" rx="7.3" ry="9.8"/><ellipse cx="0.0" cy="0" rx="7.3" ry="9.8"/><ellipse cx="8.7" cy="0" rx="7.3" ry="9.8"/></g><g transform="translate(344.3,757.7) rotate(-55)" opacity="0.38"><ellipse cx="-3.5" cy="0" rx="8.3" ry="11.1"/><ellipse cx="3.5" cy="0" rx="8.3" ry="11.1"/></g><g transform="translate(478.2,769.1) rotate(35)" opacity="0.32"><ellipse cx="-3.1" cy="0" rx="8.8" ry="11.8"/><ellipse cx="3.1" cy="0" rx="8.8" ry="11.8"/></g><g transform="translate(370.3,810.9) rotate(-77)" opacity="0.46"><ellipse cx="-4.3" cy="0" rx="9.0" ry="12.0"/><ellipse cx="4.3" cy="0" rx="9.0" ry="12.0"/></g><g transform="translate(371.5,732.6) rotate(-10)" opacity="0.49"><ellipse cx="-8.5" cy="0" rx="9.0" ry="12.0"/><ellipse cx="0.0" cy="0" rx="9.0" ry="12.0"/><ellipse cx="8.5" cy="0" rx="9.0" ry="12.0"/></g><g transform="translate(454.5,783.1) rotate(52)" opacity="0.51"><ellipse cx="-3.5" cy="0" rx="8.6" ry="11.5"/><ellipse cx="3.5" cy="0" rx="8.6" ry="11.5"/></g><g transform="translate(361.1,922.8) rotate(169)" opacity="0.43"><ellipse cx="-8.8" cy="0" rx="7.9" ry="10.5"/><ellipse cx="0.0" cy="0" rx="7.9" ry="10.5"/><ellipse cx="8.8" cy="0" rx="7.9" ry="10.5"/></g><g transform="translate(450.1,811.7) rotate(62)" opacity="0.48"><ellipse cx="-7.4" cy="0" rx="9.4" ry="12.5"/><ellipse cx="0.0" cy="0" rx="9.4" ry="12.5"/><ellipse cx="7.4" cy="0" rx="9.4" ry="12.5"/></g><g transform="translate(472.7,814.2) rotate(80)" opacity="0.51"><ellipse cx="-7.9" cy="0" rx="8.1" ry="10.8"/><ellipse cx="0.0" cy="0" rx="8.1" ry="10.8"/><ellipse cx="7.9" cy="0" rx="8.1" ry="10.8"/></g><g transform="translate(376.8,767.0) rotate(4)" opacity="0.31"><ellipse cx="-11.4" cy="0" rx="7.9" ry="10.5"/><ellipse cx="-3.8" cy="0" rx="7.9" ry="10.5"/><ellipse cx="3.8" cy="0" rx="7.9" ry="10.5"/><ellipse cx="11.4" cy="0" rx="7.9" ry="10.5"/></g><g transform="translate(397.8,862.2) rotate(201)" opacity="0.47"><ellipse cx="-6.9" cy="0" rx="8.0" ry="10.7"/><ellipse cx="0.0" cy="0" rx="8.0" ry="10.7"/><ellipse cx="6.9" cy="0" rx="8.0" ry="10.7"/></g><g transform="translate(378.9,879.0) rotate(220)" opacity="0.45"><ellipse cx="-3.7" cy="0" rx="9.1" ry="12.1"/><ellipse cx="3.7" cy="0" rx="9.1" ry="12.1"/></g><g transform="translate(430.5,868.2) rotate(123)" opacity="0.32"><ellipse cx="-3.4" cy="0" rx="7.3" ry="9.7"/><ellipse cx="3.4" cy="0" rx="7.3" ry="9.7"/></g><g transform="translate(474.6,854.3) rotate(127)" opacity="0.31"><ellipse cx="-4.4" cy="0" rx="7.4" ry="9.8"/><ellipse cx="4.4" cy="0" rx="7.4" ry="9.8"/></g><g transform="translate(320.5,828.5) rotate(-70)" opacity="0.43"><ellipse cx="-11.1" cy="0" rx="8.1" ry="10.9"/><ellipse cx="-3.7" cy="0" rx="8.1" ry="10.9"/><ellipse cx="3.7" cy="0" rx="8.1" ry="10.9"/><ellipse cx="11.1" cy="0" rx="8.1" ry="10.9"/></g><g transform="translate(342.7,866.1) rotate(248)" opacity="0.31"><ellipse cx="-6.8" cy="0" rx="9.0" ry="12.0"/><ellipse cx="0.0" cy="0" rx="9.0" ry="12.0"/><ellipse cx="6.8" cy="0" rx="9.0" ry="12.0"/></g><g transform="translate(315.8,809.3) rotate(-69)" opacity="0.37"><ellipse cx="-7.2" cy="0" rx="7.9" ry="10.5"/><ellipse cx="0.0" cy="0" rx="7.9" ry="10.5"/><ellipse cx="7.2" cy="0" rx="7.9" ry="10.5"/></g><g transform="translate(344.8,898.1) rotate(234)" opacity="0.34"><ellipse cx="-6.6" cy="0" rx="8.7" ry="11.6"/><ellipse cx="0.0" cy="0" rx="8.7" ry="11.6"/><ellipse cx="6.6" cy="0" rx="8.7" ry="11.6"/></g><g transform="translate(369.5,851.5) rotate(202)" opacity="0.44"><ellipse cx="-7.2" cy="0" rx="7.5" ry="10.0"/><ellipse cx="0.0" cy="0" rx="7.5" ry="10.0"/><ellipse cx="7.2" cy="0" rx="7.5" ry="10.0"/></g><g transform="translate(311.7,891.8) rotate(261)" opacity="0.31"><ellipse cx="-7.4" cy="0" rx="7.7" ry="10.3"/><ellipse cx="0.0" cy="0" rx="7.7" ry="10.3"/><ellipse cx="7.4" cy="0" rx="7.7" ry="10.3"/></g><g transform="translate(349.1,820.6) rotate(-64)" opacity="0.45"><ellipse cx="-7.1" cy="0" rx="8.1" ry="10.8"/><ellipse cx="0.0" cy="0" rx="8.1" ry="10.8"/><ellipse cx="7.1" cy="0" rx="8.1" ry="10.8"/></g><g transform="translate(474.9,792.6) rotate(87)" opacity="0.41"><ellipse cx="-6.1" cy="0" rx="7.6" ry="10.1"/><ellipse cx="0.0" cy="0" rx="7.6" ry="10.1"/><ellipse cx="6.1" cy="0" rx="7.6" ry="10.1"/></g><g transform="translate(341.3,841.0) rotate(260)" opacity="0.31"><ellipse cx="-4.2" cy="0" rx="8.2" ry="11.0"/><ellipse cx="4.2" cy="0" rx="8.2" ry="11.0"/></g><g transform="translate(409.9,785.9) rotate(4)" opacity="0.43"><ellipse cx="-8.7" cy="0" rx="8.6" ry="11.5"/><ellipse cx="0.0" cy="0" rx="8.6" ry="11.5"/><ellipse cx="8.7" cy="0" rx="8.6" ry="11.5"/></g><g transform="translate(308.7,869.3) rotate(220)" opacity="0.41"><ellipse cx="-12.8" cy="0" rx="8.8" ry="11.7"/><ellipse cx="-4.3" cy="0" rx="8.8" ry="11.7"/><ellipse cx="4.3" cy="0" rx="8.8" ry="11.7"/><ellipse cx="12.8" cy="0" rx="8.8" ry="11.7"/></g><g transform="translate(420.2,923.5) rotate(203)" opacity="0.50"><ellipse cx="-7.6" cy="0" rx="9.1" ry="12.1"/><ellipse cx="0.0" cy="0" rx="9.1" ry="12.1"/><ellipse cx="7.6" cy="0" rx="9.1" ry="12.1"/></g><g transform="translate(382.1,930.8) rotate(200)" opacity="0.36"><ellipse cx="-7.1" cy="0" rx="8.2" ry="11.0"/><ellipse cx="0.0" cy="0" rx="8.2" ry="11.0"/><ellipse cx="7.1" cy="0" rx="8.2" ry="11.0"/></g><g transform="translate(300.2,849.6) rotate(266)" opacity="0.31"><ellipse cx="-4.1" cy="0" rx="8.8" ry="11.7"/><ellipse cx="4.1" cy="0" rx="8.8" ry="11.7"/></g><g transform="translate(463.4,746.4) rotate(70)" opacity="0.44"><ellipse cx="-4.0" cy="0" rx="9.2" ry="12.3"/><ellipse cx="4.0" cy="0" rx="9.2" ry="12.3"/></g><g transform="translate(312.3,768.1) rotate(-36)" opacity="0.35"><ellipse cx="-9.8" cy="0" rx="7.3" ry="9.7"/><ellipse cx="-3.3" cy="0" rx="7.3" ry="9.7"/><ellipse cx="3.3" cy="0" rx="7.3" ry="9.7"/><ellipse cx="9.8" cy="0" rx="7.3" ry="9.7"/></g><g transform="translate(410.4,729.8) rotate(29)" opacity="0.31"><ellipse cx="-9.2" cy="0" rx="7.6" ry="10.1"/><ellipse cx="-3.1" cy="0" rx="7.6" ry="10.1"/><ellipse cx="3.1" cy="0" rx="7.6" ry="10.1"/><ellipse cx="9.2" cy="0" rx="7.6" ry="10.1"/></g><g transform="translate(444.5,736.8) rotate(30)" opacity="0.41"><ellipse cx="-13.0" cy="0" rx="7.4" ry="9.9"/><ellipse cx="-4.3" cy="0" rx="7.4" ry="9.9"/><ellipse cx="4.3" cy="0" rx="7.4" ry="9.9"/><ellipse cx="13.0" cy="0" rx="7.4" ry="9.9"/></g><g transform="translate(298.2,823.7) rotate(-69)" opacity="0.31"><ellipse cx="-3.9" cy="0" rx="7.4" ry="9.9"/><ellipse cx="3.9" cy="0" rx="7.4" ry="9.9"/></g><g transform="translate(442.8,765.3) rotate(41)" opacity="0.48"><ellipse cx="-4.0" cy="0" rx="7.2" ry="9.6"/><ellipse cx="4.0" cy="0" rx="7.2" ry="9.6"/></g><g transform="translate(383.2,786.8) rotate(-58)" opacity="0.45"><ellipse cx="-6.7" cy="0" rx="8.9" ry="11.8"/><ellipse cx="0.0" cy="0" rx="8.9" ry="11.8"/><ellipse cx="6.7" cy="0" rx="8.9" ry="11.8"/></g><g transform="translate(444.0,892.2) rotate(158)" opacity="0.51"><ellipse cx="-7.3" cy="0" rx="7.4" ry="9.8"/><ellipse cx="0.0" cy="0" rx="7.4" ry="9.8"/><ellipse cx="7.3" cy="0" rx="7.4" ry="9.8"/></g><g transform="translate(494.5,871.8) rotate(105)" opacity="0.42"><ellipse cx="-3.9" cy="0" rx="7.9" ry="10.5"/><ellipse cx="3.9" cy="0" rx="7.9" ry="10.5"/></g><g transform="translate(356.9,792.2) rotate(-52)" opacity="0.43"><ellipse cx="-9.5" cy="0" rx="8.4" ry="11.2"/><ellipse cx="-3.2" cy="0" rx="8.4" ry="11.2"/><ellipse cx="3.2" cy="0" rx="8.4" ry="11.2"/><ellipse cx="9.5" cy="0" rx="8.4" ry="11.2"/></g><g transform="translate(470.2,901.6) rotate(101)" opacity="0.40"><ellipse cx="-12.0" cy="0" rx="9.0" ry="11.9"/><ellipse cx="-4.0" cy="0" rx="9.0" ry="11.9"/><ellipse cx="4.0" cy="0" rx="9.0" ry="11.9"/><ellipse cx="12.0" cy="0" rx="9.0" ry="11.9"/></g><g transform="translate(504.9,837.9) rotate(106)" opacity="0.50"><ellipse cx="-3.5" cy="0" rx="7.6" ry="10.1"/><ellipse cx="3.5" cy="0" rx="7.6" ry="10.1"/></g><g transform="translate(334.1,800.8) rotate(-27)" opacity="0.33"><ellipse cx="-12.5" cy="0" rx="7.4" ry="9.9"/><ellipse cx="-4.2" cy="0" rx="7.4" ry="9.9"/><ellipse cx="4.2" cy="0" rx="7.4" ry="9.9"/><ellipse cx="12.5" cy="0" rx="7.4" ry="9.9"/></g><g transform="translate(404.2,903.7) rotate(128)" opacity="0.39"><ellipse cx="-12.4" cy="0" rx="8.1" ry="10.7"/><ellipse cx="-4.1" cy="0" rx="8.1" ry="10.7"/><ellipse cx="4.1" cy="0" rx="8.1" ry="10.7"/><ellipse cx="12.4" cy="0" rx="8.1" ry="10.7"/></g><g transform="translate(443.7,851.3) rotate(120)" opacity="0.51"><ellipse cx="-4.2" cy="0" rx="9.1" ry="12.1"/><ellipse cx="4.2" cy="0" rx="9.1" ry="12.1"/></g><g transform="translate(418.4,767.9) rotate(17)" opacity="0.51"><ellipse cx="-13.0" cy="0" rx="9.1" ry="12.1"/><ellipse cx="-4.3" cy="0" rx="9.1" ry="12.1"/><ellipse cx="4.3" cy="0" rx="9.1" ry="12.1"/><ellipse cx="13.0" cy="0" rx="9.1" ry="12.1"/></g><g transform="translate(389.5,745.2) rotate(22)" opacity="0.42"><ellipse cx="-7.2" cy="0" rx="9.0" ry="12.0"/><ellipse cx="0.0" cy="0" rx="9.0" ry="12.0"/><ellipse cx="7.2" cy="0" rx="9.0" ry="12.0"/></g><g transform="translate(459.2,832.0) rotate(46)" opacity="0.43"><ellipse cx="-10.9" cy="0" rx="8.5" ry="11.3"/><ellipse cx="-3.6" cy="0" rx="8.5" ry="11.3"/><ellipse cx="3.6" cy="0" rx="8.5" ry="11.3"/><ellipse cx="10.9" cy="0" rx="8.5" ry="11.3"/></g><g transform="translate(487.3,890.8) rotate(166)" opacity="0.42"><ellipse cx="-3.2" cy="0" rx="8.2" ry="10.9"/><ellipse cx="3.2" cy="0" rx="8.2" ry="10.9"/></g><g transform="translate(425.9,796.6) rotate(45)" opacity="0.38"><ellipse cx="-10.2" cy="0" rx="8.4" ry="11.2"/><ellipse cx="-3.4" cy="0" rx="8.4" ry="11.2"/><ellipse cx="3.4" cy="0" rx="8.4" ry="11.2"/><ellipse cx="10.2" cy="0" rx="8.4" ry="11.2"/></g><g transform="translate(329.2,909.1) rotate(189)" opacity="0.40"><ellipse cx="-4.1" cy="0" rx="7.6" ry="10.2"/><ellipse cx="4.1" cy="0" rx="7.6" ry="10.2"/></g><g transform="translate(372.6,832.7) rotate(268)" opacity="0.34"><ellipse cx="-4.0" cy="0" rx="7.7" ry="10.3"/><ellipse cx="4.0" cy="0" rx="7.7" ry="10.3"/></g><g transform="translate(396.3,802.5) rotate(4)" opacity="0.43"><ellipse cx="-11.0" cy="0" rx="8.0" ry="10.6"/><ellipse cx="-3.7" cy="0" rx="8.0" ry="10.6"/><ellipse cx="3.7" cy="0" rx="8.0" ry="10.6"/><ellipse cx="11.0" cy="0" rx="8.0" ry="10.6"/></g><g transform="translate(426.1,903.8) rotate(136)" opacity="0.46"><ellipse cx="-10.0" cy="0" rx="7.9" ry="10.5"/><ellipse cx="-3.3" cy="0" rx="7.9" ry="10.5"/><ellipse cx="3.3" cy="0" rx="7.9" ry="10.5"/><ellipse cx="10.0" cy="0" rx="7.9" ry="10.5"/></g><g transform="translate(461.8,880.9) rotate(144)" opacity="0.43"><ellipse cx="-12.3" cy="0" rx="7.5" ry="10.0"/><ellipse cx="-4.1" cy="0" rx="7.5" ry="10.0"/><ellipse cx="4.1" cy="0" rx="7.5" ry="10.0"/><ellipse cx="12.3" cy="0" rx="7.5" ry="10.0"/></g><g transform="translate(331.1,775.4) rotate(-91)" opacity="0.41"><ellipse cx="-9.3" cy="0" rx="9.1" ry="12.2"/><ellipse cx="-3.1" cy="0" rx="9.1" ry="12.2"/><ellipse cx="3.1" cy="0" rx="9.1" ry="12.2"/><ellipse cx="9.3" cy="0" rx="9.1" ry="12.2"/></g><g transform="translate(496.1,783.0) rotate(100)" opacity="0.45"><ellipse cx="-8.6" cy="0" rx="7.8" ry="10.4"/><ellipse cx="0.0" cy="0" rx="7.8" ry="10.4"/><ellipse cx="8.6" cy="0" rx="7.8" ry="10.4"/></g><g transform="translate(355.7,880.5) rotate(181)" opacity="0.51"><ellipse cx="-4.1" cy="0" rx="8.6" ry="11.5"/><ellipse cx="4.1" cy="0" rx="8.6" ry="11.5"/></g><g transform="translate(482.8,836.4) rotate(108)" opacity="0.42"><ellipse cx="-7.7" cy="0" rx="7.9" ry="10.5"/><ellipse cx="0.0" cy="0" rx="7.9" ry="10.5"/><ellipse cx="7.7" cy="0" rx="7.9" ry="10.5"/></g><g transform="translate(351.0,739.2) rotate(-32)" opacity="0.44"><ellipse cx="-11.7" cy="0" rx="8.5" ry="11.3"/><ellipse cx="-3.9" cy="0" rx="8.5" ry="11.3"/><ellipse cx="3.9" cy="0" rx="8.5" ry="11.3"/><ellipse cx="11.7" cy="0" rx="8.5" ry="11.3"/></g></g><g fill="#ffe550" opacity="0.55"><circle cx="293.0" cy="750.0" r="4.8"/><circle cx="299.7" cy="748.0" r="4.8"/><circle cx="294.7" cy="761.7" r="4.8"/><circle cx="384.7" cy="733.0" r="4.8"/><circle cx="386.3" cy="746.7" r="4.8"/><circle cx="464.7" cy="735.0" r="4.8"/><circle cx="471.3" cy="736.7" r="4.8"/><circle cx="478.0" cy="731.7" r="4.8"/><circle cx="316.3" cy="773.0" r="4.8"/><circle cx="321.3" cy="780.0" r="4.8"/><circle cx="336.3" cy="771.7" r="4.8"/><circle cx="343.0" cy="790.0" r="4.8"/><circle cx="356.3" cy="785.0" r="4.8"/><circle cx="399.7" cy="786.7" r="4.8"/><circle cx="446.3" cy="756.7" r="4.8"/><circle cx="449.7" cy="780.0" r="4.8"/><circle cx="349.7" cy="826.7" r="4.8"/><circle cx="346.3" cy="820.0" r="4.8"/><circle cx="294.7" cy="843.0" r="4.8"/><circle cx="479.7" cy="823.0" r="4.8"/><circle cx="484.7" cy="825.0" r="4.8"/><circle cx="344.7" cy="876.7" r="4.8"/><circle cx="348.0" cy="883.0" r="4.8"/><circle cx="334.7" cy="890.0" r="4.8"/><circle cx="336.3" cy="910.0" r="4.8"/><circle cx="439.7" cy="876.7" r="4.8"/><circle cx="444.7" cy="880.0" r="4.8"/><circle cx="463.0" cy="885.0" r="4.8"/><circle cx="467.0" cy="887.0" r="4.8"/><circle cx="489.7" cy="906.7" r="4.8"/><circle cx="493.0" cy="910.0" r="4.8"/><circle cx="304.7" cy="930.0" r="4.8"/><circle cx="309.7" cy="930.0" r="4.8"/><circle cx="314.7" cy="930.0" r="4.8"/></g><g fill="#70e6fa" opacity="0.55"><circle cx="329.7" cy="776.7" r="4.5"/><circle cx="334.7" cy="810.0" r="4.5"/><circle cx="328.0" cy="815.0" r="4.5"/><circle cx="321.3" cy="818.0" r="4.5"/><circle cx="454.7" cy="843.0" r="4.5"/><circle cx="453.0" cy="848.0" r="4.5"/><circle cx="333.0" cy="883.0" r="4.5"/><circle cx="456.3" cy="881.7" r="4.5"/></g><g fill="none" stroke="#999" stroke-width="1.4"><g transform="translate(580.7,806.6) rotate(-108)" opacity="0.48"><ellipse cx="-6.6" cy="0" rx="8.3" ry="11.1"/><ellipse cx="0.0" cy="0" rx="8.3" ry="11.1"/><ellipse cx="6.6" cy="0" rx="8.3" ry="11.1"/></g><g transform="translate(702.2,739.9) rotate(75)" opacity="0.38"><ellipse cx="-13.0" cy="0" rx="7.4" ry="9.9"/><ellipse cx="-4.3" cy="0" rx="7.4" ry="9.9"/><ellipse cx="4.3" cy="0" rx="7.4" ry="9.9"/><ellipse cx="13.0" cy="0" rx="7.4" ry="9.9"/></g><g transform="translate(626.1,801.2) rotate(-53)" opacity="0.35"><ellipse cx="-9.2" cy="0" rx="7.3" ry="9.8"/><ellipse cx="-3.1" cy="0" rx="7.3" ry="9.8"/><ellipse cx="3.1" cy="0" rx="7.3" ry="9.8"/><ellipse cx="9.2" cy="0" rx="7.3" ry="9.8"/></g><g transform="translate(760.2,775.5) rotate(49)" opacity="0.38"><ellipse cx="-6.6" cy="0" rx="9.3" ry="12.4"/><ellipse cx="0.0" cy="0" rx="9.3" ry="12.4"/><ellipse cx="6.6" cy="0" rx="9.3" ry="12.4"/></g><g transform="translate(604.7,772.7) rotate(-11)" opacity="0.37"><ellipse cx="-3.4" cy="0" rx="9.1" ry="12.2"/><ellipse cx="3.4" cy="0" rx="9.1" ry="12.2"/></g><g transform="translate(620.2,839.3) rotate(-41)" opacity="0.36"><ellipse cx="-8.4" cy="0" rx="8.5" ry="11.4"/><ellipse cx="0.0" cy="0" rx="8.5" ry="11.4"/><ellipse cx="8.4" cy="0" rx="8.5" ry="11.4"/></g><g transform="translate(559.8,823.8) rotate(-81)" opacity="0.44"><ellipse cx="-3.8" cy="0" rx="7.9" ry="10.6"/><ellipse cx="3.8" cy="0" rx="7.9" ry="10.6"/></g><g transform="translate(730.2,813.6) rotate(76)" opacity="0.50"><ellipse cx="-3.1" cy="0" rx="8.8" ry="11.7"/><ellipse cx="3.1" cy="0" rx="8.8" ry="11.7"/></g><g transform="translate(620.0,939.7) rotate(221)" opacity="0.44"><ellipse cx="-7.2" cy="0" rx="7.7" ry="10.2"/><ellipse cx="0.0" cy="0" rx="7.7" ry="10.2"/><ellipse cx="7.2" cy="0" rx="7.7" ry="10.2"/></g><g transform="translate(535.8,842.8) rotate(271)" opacity="0.38"><ellipse cx="-12.1" cy="0" rx="8.1" ry="10.8"/><ellipse cx="-4.0" cy="0" rx="8.1" ry="10.8"/><ellipse cx="4.0" cy="0" rx="8.1" ry="10.8"/><ellipse cx="12.1" cy="0" rx="8.1" ry="10.8"/></g><g transform="translate(598.5,797.0) rotate(-69)" opacity="0.34"><ellipse cx="-12.8" cy="0" rx="8.1" ry="10.8"/><ellipse cx="-4.3" cy="0" rx="8.1" ry="10.8"/><ellipse cx="4.3" cy="0" rx="8.1" ry="10.8"/><ellipse cx="12.8" cy="0" rx="8.1" ry="10.8"/></g><g transform="translate(605.9,863.3) rotate(232)" opacity="0.42"><ellipse cx="-7.1" cy="0" rx="7.9" ry="10.5"/><ellipse cx="0.0" cy="0" rx="7.9" ry="10.5"/><ellipse cx="7.1" cy="0" rx="7.9" ry="10.5"/></g><g transform="translate(602.8,732.2) rotate(-62)" opacity="0.34"><ellipse cx="-6.5" cy="0" rx="8.0" ry="10.6"/><ellipse cx="0.0" cy="0" rx="8.0" ry="10.6"/><ellipse cx="6.5" cy="0" rx="8.0" ry="10.6"/></g><g transform="translate(687.3,851.3) rotate(110)" opacity="0.37"><ellipse cx="-7.4" cy="0" rx="8.2" ry="10.9"/><ellipse cx="0.0" cy="0" rx="8.2" ry="10.9"/><ellipse cx="7.4" cy="0" rx="8.2" ry="10.9"/></g><g transform="translate(711.0,799.6) rotate(54)" opacity="0.48"><ellipse cx="-9.5" cy="0" rx="9.2" ry="12.3"/><ellipse cx="-3.2" cy="0" rx="9.2" ry="12.3"/><ellipse cx="3.2" cy="0" rx="9.2" ry="12.3"/><ellipse cx="9.5" cy="0" rx="9.2" ry="12.3"/></g><g transform="translate(739.6,918.5) rotate(146)" opacity="0.52"><ellipse cx="-13.4" cy="0" rx="8.3" ry="11.1"/><ellipse cx="-4.5" cy="0" rx="8.3" ry="11.1"/><ellipse cx="4.5" cy="0" rx="8.3" ry="11.1"/><ellipse cx="13.4" cy="0" rx="8.3" ry="11.1"/></g><g transform="translate(660.0,943.3) rotate(136)" opacity="0.51"><ellipse cx="-8.7" cy="0" rx="9.1" ry="12.1"/><ellipse cx="0.0" cy="0" rx="9.1" ry="12.1"/><ellipse cx="8.7" cy="0" rx="9.1" ry="12.1"/></g><g transform="translate(742.9,843.3) rotate(50)" opacity="0.34"><ellipse cx="-3.3" cy="0" rx="8.4" ry="11.2"/><ellipse cx="3.3" cy="0" rx="8.4" ry="11.2"/></g><g transform="translate(704.1,948.7) rotate(167)" opacity="0.49"><ellipse cx="-12.3" cy="0" rx="8.5" ry="11.3"/><ellipse cx="-4.1" cy="0" rx="8.5" ry="11.3"/><ellipse cx="4.1" cy="0" rx="8.5" ry="11.3"/><ellipse cx="12.3" cy="0" rx="8.5" ry="11.3"/></g><g transform="translate(653.6,759.8) rotate(-27)" opacity="0.38"><ellipse cx="-8.4" cy="0" rx="7.3" ry="9.8"/><ellipse cx="0.0" cy="0" rx="7.3" ry="9.8"/><ellipse cx="8.4" cy="0" rx="7.3" ry="9.8"/></g><g transform="translate(761.7,878.4) rotate(147)" opacity="0.50"><ellipse cx="-3.0" cy="0" rx="8.2" ry="11.0"/><ellipse cx="3.0" cy="0" rx="8.2" ry="11.0"/></g><g transform="translate(552.6,856.4) rotate(264)" opacity="0.39"><ellipse cx="-3.7" cy="0" rx="9.3" ry="12.5"/><ellipse cx="3.7" cy="0" rx="9.3" ry="12.5"/></g><g transform="translate(596.4,826.1) rotate(-103)" opacity="0.45"><ellipse cx="-4.4" cy="0" rx="8.9" ry="11.9"/><ellipse cx="4.4" cy="0" rx="8.9" ry="11.9"/></g><g transform="translate(677.7,728.8) rotate(-11)" opacity="0.52"><ellipse cx="-4.1" cy="0" rx="8.8" ry="11.7"/><ellipse cx="4.1" cy="0" rx="8.8" ry="11.7"/></g><g transform="translate(748.8,748.3) rotate(18)" opacity="0.34"><ellipse cx="-6.6" cy="0" rx="7.3" ry="9.7"/><ellipse cx="0.0" cy="0" rx="7.3" ry="9.7"/><ellipse cx="6.6" cy="0" rx="7.3" ry="9.7"/></g><g transform="translate(635.7,882.1) rotate(206)" opacity="0.37"><ellipse cx="-9.2" cy="0" rx="7.3" ry="9.8"/><ellipse cx="-3.1" cy="0" rx="7.3" ry="9.8"/><ellipse cx="3.1" cy="0" rx="7.3" ry="9.8"/><ellipse cx="9.2" cy="0" rx="7.3" ry="9.8"/></g><g transform="translate(576.1,842.4) rotate(303)" opacity="0.38"><ellipse cx="-6.0" cy="0" rx="8.5" ry="11.4"/><ellipse cx="0.0" cy="0" rx="8.5" ry="11.4"/><ellipse cx="6.0" cy="0" rx="8.5" ry="11.4"/></g><g transform="translate(683.4,813.5) rotate(44)" opacity="0.36"><ellipse cx="-4.4" cy="0" rx="9.0" ry="12.0"/><ellipse cx="4.4" cy="0" rx="9.0" ry="12.0"/></g><g transform="translate(597.6,947.1) rotate(240)" opacity="0.37"><ellipse cx="-4.3" cy="0" rx="9.1" ry="12.2"/><ellipse cx="4.3" cy="0" rx="9.1" ry="12.2"/></g><g transform="translate(683.5,902.8) rotate(124)" opacity="0.33"><ellipse cx="-4.4" cy="0" rx="8.6" ry="11.5"/><ellipse cx="4.4" cy="0" rx="8.6" ry="11.5"/></g><g transform="translate(567.8,760.2) rotate(2)" opacity="0.37"><ellipse cx="-12.7" cy="0" rx="7.5" ry="10.0"/><ellipse cx="-4.2" cy="0" rx="7.5" ry="10.0"/><ellipse cx="4.2" cy="0" rx="7.5" ry="10.0"/><ellipse cx="12.7" cy="0" rx="7.5" ry="10.0"/></g><g transform="translate(707.9,829.1) rotate(80)" opacity="0.36"><ellipse cx="-4.3" cy="0" rx="7.3" ry="9.8"/><ellipse cx="4.3" cy="0" rx="7.3" ry="9.8"/></g><g transform="translate(644.5,917.8) rotate(196)" opacity="0.47"><ellipse cx="-7.5" cy="0" rx="8.7" ry="11.6"/><ellipse cx="0.0" cy="0" rx="8.7" ry="11.6"/><ellipse cx="7.5" cy="0" rx="8.7" ry="11.6"/></g><g transform="translate(546.0,788.9) rotate(-97)" opacity="0.44"><ellipse cx="-8.3" cy="0" rx="9.3" ry="12.4"/><ellipse cx="0.0" cy="0" rx="9.3" ry="12.4"/><ellipse cx="8.3" cy="0" rx="9.3" ry="12.4"/></g><g transform="translate(669.7,874.5) rotate(168)" opacity="0.33"><ellipse cx="-9.3" cy="0" rx="8.8" ry="11.7"/><ellipse cx="-3.1" cy="0" rx="8.8" ry="11.7"/><ellipse cx="3.1" cy="0" rx="8.8" ry="11.7"/><ellipse cx="9.3" cy="0" rx="8.8" ry="11.7"/></g><g transform="translate(666.3,784.9) rotate(32)" opacity="0.48"><ellipse cx="-3.4" cy="0" rx="8.3" ry="11.1"/><ellipse cx="3.4" cy="0" rx="8.3" ry="11.1"/></g><g transform="translate(612.2,885.2) rotate(200)" opacity="0.44"><ellipse cx="-10.1" cy="0" rx="8.1" ry="10.8"/><ellipse cx="-3.4" cy="0" rx="8.1" ry="10.8"/><ellipse cx="3.4" cy="0" rx="8.1" ry="10.8"/><ellipse cx="10.1" cy="0" rx="8.1" ry="10.8"/></g><g transform="translate(722.1,733.2) rotate(-13)" opacity="0.39"><ellipse cx="-3.2" cy="0" rx="8.0" ry="10.6"/><ellipse cx="3.2" cy="0" rx="8.0" ry="10.6"/></g><g transform="translate(602.1,920.1) rotate(260)" opacity="0.33"><ellipse cx="-12.7" cy="0" rx="7.3" ry="9.7"/><ellipse cx="-4.2" cy="0" rx="7.3" ry="9.7"/><ellipse cx="4.2" cy="0" rx="7.3" ry="9.7"/><ellipse cx="12.7" cy="0" rx="7.3" ry="9.7"/></g><g transform="translate(543.2,874.6) rotate(254)" opacity="0.36"><ellipse cx="-10.6" cy="0" rx="8.1" ry="10.8"/><ellipse cx="-3.5" cy="0" rx="8.1" ry="10.8"/><ellipse cx="3.5" cy="0" rx="8.1" ry="10.8"/><ellipse cx="10.6" cy="0" rx="8.1" ry="10.8"/></g><g transform="translate(761.9,897.5) rotate(78)" opacity="0.45"><ellipse cx="-7.0" cy="0" rx="7.3" ry="9.8"/><ellipse cx="0.0" cy="0" rx="7.3" ry="9.8"/><ellipse cx="7.0" cy="0" rx="7.3" ry="9.8"/></g><g transform="translate(545.7,901.9) rotate(250)" opacity="0.31"><ellipse cx="-7.4" cy="0" rx="8.5" ry="11.4"/><ellipse cx="0.0" cy="0" rx="8.5" ry="11.4"/><ellipse cx="7.4" cy="0" rx="8.5" ry="11.4"/></g><g transform="translate(682.6,759.3) rotate(45)" opacity="0.37"><ellipse cx="-12.0" cy="0" rx="8.9" ry="11.9"/><ellipse cx="-4.0" cy="0" rx="8.9" ry="11.9"/><ellipse cx="4.0" cy="0" rx="8.9" ry="11.9"/><ellipse cx="12.0" cy="0" rx="8.9" ry="11.9"/></g><g transform="translate(575.8,929.5) rotate(212)" opacity="0.45"><ellipse cx="-3.5" cy="0" rx="8.4" ry="11.3"/><ellipse cx="3.5" cy="0" rx="8.4" ry="11.3"/></g><g transform="translate(637.2,734.0) rotate(-12)" opacity="0.40"><ellipse cx="-8.4" cy="0" rx="7.3" ry="9.8"/><ellipse cx="0.0" cy="0" rx="7.3" ry="9.8"/><ellipse cx="8.4" cy="0" rx="7.3" ry="9.8"/></g><g transform="translate(758.5,826.5) rotate(34)" opacity="0.46"><ellipse cx="-9.4" cy="0" rx="8.7" ry="11.6"/><ellipse cx="-3.1" cy="0" rx="8.7" ry="11.6"/><ellipse cx="3.1" cy="0" rx="8.7" ry="11.6"/><ellipse cx="9.4" cy="0" rx="8.7" ry="11.6"/></g><g transform="translate(662.1,909.1) rotate(152)" opacity="0.36"><ellipse cx="-4.3" cy="0" rx="7.9" ry="10.6"/><ellipse cx="4.3" cy="0" rx="7.9" ry="10.6"/></g><g transform="translate(710.0,877.2) rotate(86)" opacity="0.39"><ellipse cx="-12.9" cy="0" rx="7.8" ry="10.4"/><ellipse cx="-4.3" cy="0" rx="7.8" ry="10.4"/><ellipse cx="4.3" cy="0" rx="7.8" ry="10.4"/><ellipse cx="12.9" cy="0" rx="7.8" ry="10.4"/></g><g transform="translate(722.2,938.2) rotate(143)" opacity="0.37"><ellipse cx="-4.3" cy="0" rx="7.4" ry="9.8"/><ellipse cx="4.3" cy="0" rx="7.4" ry="9.8"/></g><g transform="translate(577.8,905.7) rotate(230)" opacity="0.37"><ellipse cx="-8.8" cy="0" rx="7.6" ry="10.1"/><ellipse cx="0.0" cy="0" rx="7.6" ry="10.1"/><ellipse cx="8.8" cy="0" rx="7.6" ry="10.1"/></g><g transform="translate(702.3,928.6) rotate(198)" opacity="0.35"><ellipse cx="-3.5" cy="0" rx="8.9" ry="11.8"/><ellipse cx="3.5" cy="0" rx="8.9" ry="11.8"/></g><g transform="translate(720.1,910.5) rotate(91)" opacity="0.52"><ellipse cx="-12.6" cy="0" rx="9.1" ry="12.1"/><ellipse cx="-4.2" cy="0" rx="9.1" ry="12.1"/><ellipse cx="4.2" cy="0" rx="9.1" ry="12.1"/><ellipse cx="12.6" cy="0" rx="9.1" ry="12.1"/></g><g transform="translate(733.2,785.6) rotate(48)" opacity="0.51"><ellipse cx="-9.3" cy="0" rx="9.3" ry="12.4"/><ellipse cx="-3.1" cy="0" rx="9.3" ry="12.4"/><ellipse cx="3.1" cy="0" rx="9.3" ry="12.4"/><ellipse cx="9.3" cy="0" rx="9.3" ry="12.4"/></g><g transform="translate(663.0,810.9) rotate(-21)" opacity="0.51"><ellipse cx="-7.0" cy="0" rx="7.7" ry="10.3"/><ellipse cx="0.0" cy="0" rx="7.7" ry="10.3"/><ellipse cx="7.0" cy="0" rx="7.7" ry="10.3"/></g><g transform="translate(621.1,920.4) rotate(158)" opacity="0.42"><ellipse cx="-7.0" cy="0" rx="9.0" ry="12.1"/><ellipse cx="0.0" cy="0" rx="9.0" ry="12.1"/><ellipse cx="7.0" cy="0" rx="9.0" ry="12.1"/></g><g transform="translate(547.8,808.9) rotate(-75)" opacity="0.31"><ellipse cx="-6.1" cy="0" rx="9.1" ry="12.1"/><ellipse cx="0.0" cy="0" rx="9.1" ry="12.1"/><ellipse cx="6.1" cy="0" rx="9.1" ry="12.1"/></g><g transform="translate(767.3,798.2) rotate(62)" opacity="0.36"><ellipse cx="-3.4" cy="0" rx="7.5" ry="10.0"/><ellipse cx="3.4" cy="0" rx="7.5" ry="10.0"/></g><g transform="translate(621.4,755.5) rotate(-62)" opacity="0.33"><ellipse cx="-7.5" cy="0" rx="7.6" ry="10.1"/><ellipse cx="0.0" cy="0" rx="7.6" ry="10.1"/><ellipse cx="7.5" cy="0" rx="7.6" ry="10.1"/></g><g transform="translate(585.7,741.3) rotate(-36)" opacity="0.38"><ellipse cx="-8.2" cy="0" rx="9.1" ry="12.1"/><ellipse cx="0.0" cy="0" rx="9.1" ry="12.1"/><ellipse cx="8.2" cy="0" rx="9.1" ry="12.1"/></g><g transform="translate(775.0,844.4) rotate(74)" opacity="0.39"><ellipse cx="-8.2" cy="0" rx="8.6" ry="11.5"/><ellipse cx="0.0" cy="0" rx="8.6" ry="11.5"/><ellipse cx="8.2" cy="0" rx="8.6" ry="11.5"/></g><g transform="translate(719.7,769.9) rotate(86)" opacity="0.31"><ellipse cx="-4.0" cy="0" rx="7.3" ry="9.8"/><ellipse cx="4.0" cy="0" rx="7.3" ry="9.8"/></g><g transform="translate(758.9,916.4) rotate(102)" opacity="0.45"><ellipse cx="-9.3" cy="0" rx="8.7" ry="11.6"/><ellipse cx="-3.1" cy="0" rx="8.7" ry="11.6"/><ellipse cx="3.1" cy="0" rx="8.7" ry="11.6"/><ellipse cx="9.3" cy="0" rx="8.7" ry="11.6"/></g><g transform="translate(716.8,851.9) rotate(96)" opacity="0.51"><ellipse cx="-10.0" cy="0" rx="8.9" ry="11.9"/><ellipse cx="-3.3" cy="0" rx="8.9" ry="11.9"/><ellipse cx="3.3" cy="0" rx="8.9" ry="11.9"/><ellipse cx="10.0" cy="0" rx="8.9" ry="11.9"/></g><g transform="translate(590.3,877.6) rotate(193)" opacity="0.51"><ellipse cx="-9.2" cy="0" rx="7.4" ry="9.9"/><ellipse cx="-3.1" cy="0" rx="7.4" ry="9.9"/><ellipse cx="3.1" cy="0" rx="7.4" ry="9.9"/><ellipse cx="9.2" cy="0" rx="7.4" ry="9.9"/></g><g transform="translate(655.6,726.4) rotate(-14)" opacity="0.49"><ellipse cx="-3.7" cy="0" rx="9.2" ry="12.2"/><ellipse cx="3.7" cy="0" rx="9.2" ry="12.2"/></g><g transform="translate(680.2,953.5) rotate(150)" opacity="0.38"><ellipse cx="-8.1" cy="0" rx="9.2" ry="12.3"/><ellipse cx="0.0" cy="0" rx="9.2" ry="12.3"/><ellipse cx="8.1" cy="0" rx="9.2" ry="12.3"/></g><g transform="translate(567.4,787.4) rotate(-81)" opacity="0.41"><ellipse cx="-3.1" cy="0" rx="9.2" ry="12.2"/><ellipse cx="3.1" cy="0" rx="9.2" ry="12.2"/></g><g transform="translate(696.9,774.5) rotate(64)" opacity="0.41"><ellipse cx="-4.2" cy="0" rx="9.2" ry="12.2"/><ellipse cx="4.2" cy="0" rx="9.2" ry="12.2"/></g><g transform="translate(546.1,768.4) rotate(-105)" opacity="0.51"><ellipse cx="-6.9" cy="0" rx="9.0" ry="12.1"/><ellipse cx="0.0" cy="0" rx="9.0" ry="12.1"/><ellipse cx="6.9" cy="0" rx="9.0" ry="12.1"/></g><g transform="translate(638.4,780.8) rotate(20)" opacity="0.35"><ellipse cx="-8.0" cy="0" rx="7.2" ry="9.6"/><ellipse cx="0.0" cy="0" rx="7.2" ry="9.6"/><ellipse cx="8.0" cy="0" rx="7.2" ry="9.6"/></g><g transform="translate(739.2,894.9) rotate(150)" opacity="0.36"><ellipse cx="-8.2" cy="0" rx="8.1" ry="10.8"/><ellipse cx="0.0" cy="0" rx="8.1" ry="10.8"/><ellipse cx="8.2" cy="0" rx="8.1" ry="10.8"/></g><g transform="translate(563.1,893.1) rotate(191)" opacity="0.40"><ellipse cx="-6.7" cy="0" rx="8.6" ry="11.5"/><ellipse cx="0.0" cy="0" rx="8.6" ry="11.5"/><ellipse cx="6.7" cy="0" rx="8.6" ry="11.5"/></g><g transform="translate(617.1,820.2) rotate(-34)" opacity="0.45"><ellipse cx="-3.7" cy="0" rx="8.2" ry="10.9"/><ellipse cx="3.7" cy="0" rx="8.2" ry="10.9"/></g><g transform="translate(650.5,869.7) rotate(184)" opacity="0.45"><ellipse cx="-4.0" cy="0" rx="9.0" ry="12.0"/><ellipse cx="4.0" cy="0" rx="9.0" ry="12.0"/></g><g transform="translate(677.6,925.5) rotate(174)" opacity="0.48"><ellipse cx="-8.1" cy="0" rx="7.6" ry="10.2"/><ellipse cx="0.0" cy="0" rx="7.6" ry="10.2"/><ellipse cx="8.1" cy="0" rx="7.6" ry="10.2"/></g><g transform="translate(637.6,946.9) rotate(200)" opacity="0.47"><ellipse cx="-3.7" cy="0" rx="9.0" ry="12.0"/><ellipse cx="3.7" cy="0" rx="9.0" ry="12.0"/></g></g><g fill="#ffe550" opacity="0.55"><circle cx="545.0" cy="756.7" r="4.8"/><circle cx="556.7" cy="748.0" r="4.8"/><circle cx="630.0" cy="733.0" r="4.8"/><circle cx="645.0" cy="735.0" r="4.8"/><circle cx="726.7" cy="736.7" r="4.8"/><circle cx="738.3" cy="738.3" r="4.8"/><circle cx="746.7" cy="735.0" r="4.8"/><circle cx="575.0" cy="771.7" r="4.8"/><circle cx="591.7" cy="770.0" r="4.8"/><circle cx="681.7" cy="750.0" r="4.8"/><circle cx="715.0" cy="758.3" r="4.8"/><circle cx="705.0" cy="778.3" r="4.8"/><circle cx="610.0" cy="781.7" r="4.8"/><circle cx="660.0" cy="781.7" r="4.8"/><circle cx="565.0" cy="835.0" r="4.8"/><circle cx="568.3" cy="846.7" r="4.8"/><circle cx="726.7" cy="826.7" r="4.8"/><circle cx="751.7" cy="820.0" r="4.8"/><circle cx="595.0" cy="891.7" r="4.8"/><circle cx="613.3" cy="891.7" r="4.8"/><circle cx="706.7" cy="876.7" r="4.8"/><circle cx="705.0" cy="895.0" r="4.8"/><circle cx="713.3" cy="890.0" r="4.8"/><circle cx="728.3" cy="891.7" r="4.8"/><circle cx="751.7" cy="908.3" r="4.8"/><circle cx="751.7" cy="918.3" r="4.8"/><circle cx="756.7" cy="930.0" r="4.8"/><circle cx="566.7" cy="921.7" r="4.8"/><circle cx="568.3" cy="930.0" r="4.8"/><circle cx="661.7" cy="928.3" r="4.8"/></g><g fill="#70e6fa" opacity="0.55"><circle cx="573.3" cy="810.0" r="4.5"/><circle cx="580.0" cy="818.3" r="4.5"/><circle cx="588.3" cy="818.3" r="4.5"/><circle cx="711.7" cy="770.0" r="4.5"/><circle cx="715.0" cy="845.0" r="4.5"/><circle cx="738.3" cy="850.0" r="4.5"/><circle cx="563.3" cy="903.3" r="4.5"/><circle cx="721.7" cy="903.3" r="4.5"/><circle cx="631.7" cy="896.7" r="4.5"/></g><path d="M88,796 C92,790 102,790 106,798 C110,806 108,816 102,820" fill="none" stroke="rgb(25,110,25)" stroke-width="8.6" stroke-linecap="round" stroke-linejoin="round" opacity="0.39"/><path d="M88,796 C92,790 102,790 106,798 C110,806 108,816 102,820" fill="none" stroke="rgb(55,205,55)" stroke-width="7" stroke-linecap="round" stroke-linejoin="round" opacity="0.80"/><path d="M100,806 C96,815 98,825 104,830" fill="none" stroke="rgb(25,110,25)" stroke-width="5.6" stroke-linecap="round" stroke-linejoin="round" opacity="0.36"/><path d="M100,806 C96,815 98,825 104,830" fill="none" stroke="rgb(55,205,55)" stroke-width="4" stroke-linecap="round" stroke-linejoin="round" opacity="0.75"/><path d="M112,808 C115,795 125,786 135,781" fill="none" stroke="rgb(25,110,25)" stroke-width="5.6" stroke-linecap="round" stroke-linejoin="round" opacity="0.39"/><path d="M112,808 C115,795 125,786 135,781" fill="none" stroke="rgb(55,205,55)" stroke-width="4" stroke-linecap="round" stroke-linejoin="round" opacity="0.80"/><path d="M145,786 C148,795 148,812 143,827" fill="none" stroke="rgb(25,110,25)" stroke-width="6.6" stroke-linecap="round" stroke-linejoin="round" opacity="0.39"/><path d="M145,786 C148,795 148,812 143,827" fill="none" stroke="rgb(55,205,55)" stroke-width="5" stroke-linecap="round" stroke-linejoin="round" opacity="0.80"/><path d="M143,827 C138,845 145,862 160,866 C172,868 174,855 168,850" fill="none" stroke="rgb(25,110,25)" stroke-width="7.6" stroke-linecap="round" stroke-linejoin="round" opacity="0.39"/><path d="M143,827 C138,845 145,862 160,866 C172,868 174,855 168,850" fill="none" stroke="rgb(55,205,55)" stroke-width="6" stroke-linecap="round" stroke-linejoin="round" opacity="0.80"/><path d="M139,858 C148,850 162,849 170,856" fill="none" stroke="rgb(25,110,25)" stroke-width="9.6" stroke-linecap="round" stroke-linejoin="round" opacity="0.41"/><path d="M139,858 C148,850 162,849 170,856" fill="none" stroke="rgb(55,205,55)" stroke-width="8" stroke-linecap="round" stroke-linejoin="round" opacity="0.85"/><path d="M119,831 C121,850 124,870 125,892" fill="none" stroke="rgb(25,110,25)" stroke-width="5.6" stroke-linecap="round" stroke-linejoin="round" opacity="0.36"/><path d="M119,831 C121,850 124,870 125,892" fill="none" stroke="rgb(55,205,55)" stroke-width="4" stroke-linecap="round" stroke-linejoin="round" opacity="0.75"/><path d="M104,830 C98,845 92,858 88,870" fill="none" stroke="rgb(25,110,25)" stroke-width="5.6" stroke-linecap="round" stroke-linejoin="round" opacity="0.36"/><path d="M104,830 C98,845 92,858 88,870" fill="none" stroke="rgb(55,205,55)" stroke-width="4" stroke-linecap="round" stroke-linejoin="round" opacity="0.75"/><path d="M119,808 C116,830 110,850 112,875 C113,890 116,900 115,906" fill="none" stroke="rgb(120,25,25)" stroke-width="6.6" stroke-linecap="round" stroke-linejoin="round" opacity="0.36"/><path d="M119,808 C116,830 110,850 112,875 C113,890 116,900 115,906" fill="none" stroke="rgb(225,55,55)" stroke-width="5" stroke-linecap="round" stroke-linejoin="round" opacity="0.75"/><path d="M127,808 C130,820 133,832 133,845" fill="none" stroke="rgb(120,25,25)" stroke-width="6.6" stroke-linecap="round" stroke-linejoin="round" opacity="0.36"/><path d="M127,808 C130,820 133,832 133,845" fill="none" stroke="rgb(225,55,55)" stroke-width="5" stroke-linecap="round" stroke-linejoin="round" opacity="0.75"/><path d="M151,836 C160,828 178,830 184,840 C186,850 175,856 162,852" fill="none" stroke="rgb(120,25,25)" stroke-width="10.6" stroke-linecap="round" stroke-linejoin="round" opacity="0.39"/><path d="M151,836 C160,828 178,830 184,840 C186,850 175,856 162,852" fill="none" stroke="rgb(225,55,55)" stroke-width="9" stroke-linecap="round" stroke-linejoin="round" opacity="0.80"/><path d="M129,885 C135,874 150,873 156,884" fill="none" stroke="rgb(120,25,25)" stroke-width="11.6" stroke-linecap="round" stroke-linejoin="round" opacity="0.39"/><path d="M129,885 C135,874 150,873 156,884" fill="none" stroke="rgb(225,55,55)" stroke-width="10" stroke-linecap="round" stroke-linejoin="round" opacity="0.80"/><path d="M112,805 C116,798 124,797 128,803 C132,798 140,796 146,800" fill="none" stroke="rgb(120,25,25)" stroke-width="5.6" stroke-linecap="round" stroke-linejoin="round" opacity="0.36"/><path d="M112,805 C116,798 124,797 128,803 C132,798 140,796 146,800" fill="none" stroke="rgb(225,55,55)" stroke-width="4" stroke-linecap="round" stroke-linejoin="round" opacity="0.75"/><path d="M111,808 C108,830 106,855 109,874 C111,890 114,900 114,906" fill="none" stroke="rgb(30,30,120)" stroke-width="5.6" stroke-linecap="round" stroke-linejoin="round" opacity="0.33"/><path d="M111,808 C108,830 106,855 109,874 C111,890 114,900 114,906" fill="none" stroke="rgb(80,75,215)" stroke-width="4" stroke-linecap="round" stroke-linejoin="round" opacity="0.70"/><path d="M131,812 C134,825 136,835 134,846" fill="none" stroke="rgb(30,30,120)" stroke-width="5.6" stroke-linecap="round" stroke-linejoin="round" opacity="0.33"/><path d="M131,812 C134,825 136,835 134,846" fill="none" stroke="rgb(80,75,215)" stroke-width="4" stroke-linecap="round" stroke-linejoin="round" opacity="0.70"/><path d="M130,878 C136,872 148,872 154,879" fill="none" stroke="rgb(30,30,120)" stroke-width="9.6" stroke-linecap="round" stroke-linejoin="round" opacity="0.39"/><path d="M130,878 C136,872 148,872 154,879" fill="none" stroke="rgb(80,75,215)" stroke-width="8" stroke-linecap="round" stroke-linejoin="round" opacity="0.80"/><path d="M140,812 C148,800 158,792 166,790" fill="none" stroke="rgb(30,30,120)" stroke-width="5.6" stroke-linecap="round" stroke-linejoin="round" opacity="0.33"/><path d="M140,812 C148,800 158,792 166,790" fill="none" stroke="rgb(80,75,215)" stroke-width="4" stroke-linecap="round" stroke-linejoin="round" opacity="0.70"/><path d="M116,800 C120,795 126,795 128,800" fill="none" stroke="rgb(30,30,120)" stroke-width="5.6" stroke-linecap="round" stroke-linejoin="round" opacity="0.33"/><path d="M116,800 C120,795 126,795 128,800" fill="none" stroke="rgb(80,75,215)" stroke-width="4" stroke-linecap="round" stroke-linejoin="round" opacity="0.70"/><path d="M116,804 C112,792 120,786 127,790 C131,795 129,802 124,806" fill="none" stroke="rgb(30,30,120)" stroke-width="5.6" stroke-linecap="round" stroke-linejoin="round" opacity="0.33"/><path d="M116,804 C112,792 120,786 127,790 C131,795 129,802 124,806" fill="none" stroke="rgb(80,75,215)" stroke-width="4" stroke-linecap="round" stroke-linejoin="round" opacity="0.70"/><path d="M118,806 C125,796 140,795 150,805" fill="none" stroke="rgb(120,25,25)" stroke-width="5.6" stroke-linecap="round" stroke-linejoin="round" opacity="0.33"/><path d="M118,806 C125,796 140,795 150,805" fill="none" stroke="rgb(225,55,55)" stroke-width="4" stroke-linecap="round" stroke-linejoin="round" opacity="0.70"/><path d="M142,836 C139,850 142,860 149,864" fill="none" stroke="rgb(30,30,120)" stroke-width="6.6" stroke-linecap="round" stroke-linejoin="round" opacity="0.33"/><path d="M142,836 C139,850 142,860 149,864" fill="none" stroke="rgb(80,75,215)" stroke-width="5" stroke-linecap="round" stroke-linejoin="round" opacity="0.70"/><path d="M150,812 C160,802 170,800 176,804" fill="none" stroke="rgb(120,25,25)" stroke-width="5.6" stroke-linecap="round" stroke-linejoin="round" opacity="0.33"/><path d="M150,812 C160,802 170,800 176,804" fill="none" stroke="rgb(225,55,55)" stroke-width="4" stroke-linecap="round" stroke-linejoin="round" opacity="0.70"/><path d="M103,830 C110,835 115,842 118,852" fill="none" stroke="rgb(25,110,25)" stroke-width="5.6" stroke-linecap="round" stroke-linejoin="round" opacity="0.33"/><path d="M103,830 C110,835 115,842 118,852" fill="none" stroke="rgb(55,205,55)" stroke-width="4" stroke-linecap="round" stroke-linejoin="round" opacity="0.70"/><path d="M100,835 C104,845 106,855 104,865" fill="none" stroke="rgb(120,25,25)" stroke-width="5.6" stroke-linecap="round" stroke-linejoin="round" opacity="0.33"/><path d="M100,835 C104,845 106,855 104,865" fill="none" stroke="rgb(225,55,55)" stroke-width="4" stroke-linecap="round" stroke-linejoin="round" opacity="0.70"/><g fill="none" stroke="#444" stroke-width="3.8" stroke-linejoin="round" stroke-linecap="round" opacity="0.6"><path d="M90.5,773 L100,775 L106,781 L112,788 L115,794"/><path d="M88.4,803.7 L97,806 L104,812 L112,815 L121,819"/><path d="M92.5,830 L100,838 L104,848 L108,858"/><path d="M96,832 L103,840 L106,852"/><path d="M80.3,865.6 L88,862 L96.5,861.5"/><path d="M75,851 L85,854 L95,858"/><path d="M92,858 L98,866 L100,872"/><path d="M110.8,906 L112,915 L118,925 L125,932.6"/><path d="M118,915 L124,925 L128,935"/><path d="M127,902 L134,908 L140,912 L145.3,918.4"/><path d="M132,900 L138,905 L142,910"/><path d="M155.4,881.8 L165,884 L175,880 L181.8,881.8"/><path d="M155,885 L160,892 L166,896"/><path d="M165.6,857.5 L178,860 L190,858 L200,864 L206,865.6"/><path d="M180,858 L186,852 L194,855"/><path d="M169.6,810.8 L180,808 L190,812 L202,810.8"/><path d="M172,812 L182,806 L190,806"/><path d="M147.3,780 L155,784 L165.6,786.4"/><path d="M165.6,776.2 L172,780 L178,785 L181.8,784.4"/><path d="M160,800 L168,792 L172,782 L168,776"/><path d="M135,781 L140,772 L148,766 L152,762"/><path d="M158,806 L166,800 L174,796 L180,790 L186,788"/><path d="M162,810 L170,804 L178,800 L184,794"/><path d="M170,816 L176,812 L182,806 L190,804"/><path d="M86,830 L94,834 L98,842 L104,846"/><path d="M100,845 L106,852 L110,860"/><path d="M120,908 L126,912 L132,906 L138,910"/><path d="M128,918 L134,924 L138,930"/><path d="M156,858 L166,866 L176,868 L186,866"/></g><g fill="none" stroke-width="2.3" stroke-linejoin="round" stroke-linecap="round"><path d="M90.5,773 L100,775 L106,781 L112,788 L115,794" stroke="#6ab46a"/><path d="M88.4,803.7 L97,806 L104,812 L112,815 L121,819" stroke="#b890b0"/><path d="M92.5,830 L100,838 L104,848 L108,858" stroke="#7a86d0"/><path d="M96,832 L103,840 L106,852" stroke="#b890b0"/><path d="M80.3,865.6 L88,862 L96.5,861.5" stroke="#b890b0"/><path d="M75,851 L85,854 L95,858" stroke="#7a86d0"/><path d="M92,858 L98,866 L100,872" stroke="#6ab46a"/><path d="M110.8,906 L112,915 L118,925 L125,932.6" stroke="#b890b0"/><path d="M118,915 L124,925 L128,935" stroke="#7a86d0"/><path d="M127,902 L134,908 L140,912 L145.3,918.4" stroke="#b890b0"/><path d="M132,900 L138,905 L142,910" stroke="#7a86d0"/><path d="M155.4,881.8 L165,884 L175,880 L181.8,881.8" stroke="#b890b0"/><path d="M155,885 L160,892 L166,896" stroke="#6ab46a"/><path d="M165.6,857.5 L178,860 L190,858 L200,864 L206,865.6" stroke="#b890b0"/><path d="M180,858 L186,852 L194,855" stroke="#b890b0"/><path d="M169.6,810.8 L180,808 L190,812 L202,810.8" stroke="#6ab46a"/><path d="M172,812 L182,806 L190,806" stroke="#b890b0"/><path d="M147.3,780 L155,784 L165.6,786.4" stroke="#6ab46a"/><path d="M165.6,776.2 L172,780 L178,785 L181.8,784.4" stroke="#b890b0"/><path d="M160,800 L168,792 L172,782 L168,776" stroke="#7a86d0"/><path d="M135,781 L140,772 L148,766 L152,762" stroke="#6ab46a"/><path d="M158,806 L166,800 L174,796 L180,790 L186,788" stroke="#7a86d0"/><path d="M162,810 L170,804 L178,800 L184,794" stroke="#b890b0"/><path d="M170,816 L176,812 L182,806 L190,804" stroke="#6ab46a"/><path d="M86,830 L94,834 L98,842 L104,846" stroke="#b890b0"/><path d="M100,845 L106,852 L110,860" stroke="#7a86d0"/><path d="M120,908 L126,912 L132,906 L138,910" stroke="#b890b0"/><path d="M128,918 L134,924 L138,930" stroke="#7a86d0"/><path d="M156,858 L166,866 L176,868 L186,866" stroke="#b890b0"/></g><text x="64.3" y="772.5" font-size="18.5" fill="#0d780d" stroke="#0d780d" stroke-width="0.35">K6</text><text x="121.6" y="762.7" font-size="18.5" fill="#0d780d" stroke="#0d780d" stroke-width="0.35">K8</text><text x="140.3" y="778.6" font-size="18.5" fill="#0d780d" stroke="#0d780d" stroke-width="0.35">H9</text><text x="177.6" y="774.1" font-size="18.5" fill="#6e6e6e" stroke="#6e6e6e" stroke-width="0.35">K8</text><text x="185.0" y="794.6" font-size="18.5" fill="#6e6e6e" stroke="#6e6e6e" stroke-width="0.35">H9</text><text x="53.7" y="812.0" font-size="18.5" fill="#6e1414" stroke="#6e1414" stroke-width="0.35">K31</text><text x="205.6" y="816.0" font-size="18.5" fill="#0d780d" stroke="#0d780d" stroke-width="0.35">R11</text><text x="57.1" y="845.8" font-size="18.5" fill="#6e6e6e" stroke="#6e6e6e" stroke-width="0.35">H33</text><text x="51.2" y="876.2" font-size="22" fill="#000" stroke="#000" stroke-width="0.35">V1</text><text x="212.2" y="862.3" font-size="18.5" fill="#6e6e6e" stroke="#6e6e6e" stroke-width="0.35">R11</text><text x="185.6" y="886.3" font-size="18.5" fill="#0d780d" stroke="#0d780d" stroke-width="0.35">K18</text><text x="172.3" y="904.4" font-size="18.5" fill="#6e6e6e" stroke="#6e6e6e" stroke-width="0.35">K18</text><text x="160.3" y="919.6" font-size="18.5" fill="#0d780d" stroke="#0d780d" stroke-width="0.35">R23</text><text x="139.7" y="935.6" font-size="18.5" fill="#6e6e6e" stroke="#6e6e6e" stroke-width="0.35">R23</text><text x="84.3" y="942.3" font-size="18.5" fill="#6e6e6e" stroke="#6e6e6e" stroke-width="0.35">K37</text><path d="M377.6,786 C372,810 364,840 358.6,864" fill="none" stroke="rgb(30,30,120)" stroke-width="11.6" stroke-linecap="round" stroke-linejoin="round" opacity="0.34"/><path d="M377.6,786 C372,810 364,840 358.6,864" fill="none" stroke="rgb(80,75,215)" stroke-width="10" stroke-linecap="round" stroke-linejoin="round" opacity="0.72"/><path d="M381.4,790 C385,805 387,815 387,822 C389,845 392,865 392.8,881" fill="none" stroke="rgb(30,30,120)" stroke-width="7.6" stroke-linecap="round" stroke-linejoin="round" opacity="0.33"/><path d="M381.4,790 C385,805 387,815 387,822 C389,845 392,865 392.8,881" fill="none" stroke="rgb(80,75,215)" stroke-width="6" stroke-linecap="round" stroke-linejoin="round" opacity="0.70"/><path d="M377.6,784 C388,782 402,782 419.5,789.7 C423,795 422,800 421.4,807" fill="none" stroke="rgb(30,30,120)" stroke-width="7.6" stroke-linecap="round" stroke-linejoin="round" opacity="0.36"/><path d="M377.6,784 C388,782 402,782 419.5,789.7 C423,795 422,800 421.4,807" fill="none" stroke="rgb(80,75,215)" stroke-width="6" stroke-linecap="round" stroke-linejoin="round" opacity="0.75"/><path d="M410,818.5 a10.5,9.5 0 1,0 21,0 a10.5,9.5 0 1,0 -21,0" fill="none" stroke="rgb(30,30,120)" stroke-width="4.6" stroke-linecap="round" stroke-linejoin="round" opacity="0.33"/><path d="M410,818.5 a10.5,9.5 0 1,0 21,0 a10.5,9.5 0 1,0 -21,0" fill="none" stroke="rgb(80,75,215)" stroke-width="3" stroke-linecap="round" stroke-linejoin="round" opacity="0.70"/><path d="M402,852 C410,846 425,846 433,852" fill="none" stroke="rgb(30,30,120)" stroke-width="8.6" stroke-linecap="round" stroke-linejoin="round" opacity="0.39"/><path d="M402,852 C410,846 425,846 433,852" fill="none" stroke="rgb(80,75,215)" stroke-width="7" stroke-linecap="round" stroke-linejoin="round" opacity="0.80"/><path d="M368,807 C360,825 350,845 341.4,862" fill="none" stroke="rgb(120,25,25)" stroke-width="9.6" stroke-linecap="round" stroke-linejoin="round" opacity="0.33"/><path d="M368,807 C360,825 350,845 341.4,862" fill="none" stroke="rgb(225,55,55)" stroke-width="8" stroke-linecap="round" stroke-linejoin="round" opacity="0.70"/><path d="M389,822 C385,845 376,865 368,883 C370,890 374,895 377.6,898" fill="none" stroke="rgb(120,25,25)" stroke-width="9.6" stroke-linecap="round" stroke-linejoin="round" opacity="0.33"/><path d="M389,822 C385,845 376,865 368,883 C370,890 374,895 377.6,898" fill="none" stroke="rgb(225,55,55)" stroke-width="8" stroke-linecap="round" stroke-linejoin="round" opacity="0.70"/><path d="M387,807 C398,806 408,808 415.7,808.8 C425,810 432,812 436.6,816.4 C442,822 442,830 440.4,827.8 C440,836 438,842 436.6,845 C432,848 426,849 421.4,848.8" fill="none" stroke="rgb(120,25,25)" stroke-width="6.6" stroke-linecap="round" stroke-linejoin="round" opacity="0.33"/><path d="M387,807 C398,806 408,808 415.7,808.8 C425,810 432,812 436.6,816.4 C442,822 442,830 440.4,827.8 C440,836 438,842 436.6,845 C432,848 426,849 421.4,848.8" fill="none" stroke="rgb(225,55,55)" stroke-width="5" stroke-linecap="round" stroke-linejoin="round" opacity="0.70"/><path d="M402,868 C410,860 425,860 433,866" fill="none" stroke="rgb(120,25,25)" stroke-width="8.6" stroke-linecap="round" stroke-linejoin="round" opacity="0.39"/><path d="M402,868 C410,860 425,860 433,866" fill="none" stroke="rgb(225,55,55)" stroke-width="7" stroke-linecap="round" stroke-linejoin="round" opacity="0.80"/><path d="M387,885 C395,876 408,878 415.7,890" fill="none" stroke="rgb(120,25,25)" stroke-width="8.6" stroke-linecap="round" stroke-linejoin="round" opacity="0.36"/><path d="M387,885 C395,876 408,878 415.7,890" fill="none" stroke="rgb(225,55,55)" stroke-width="7" stroke-linecap="round" stroke-linejoin="round" opacity="0.75"/><path d="M383.3,797.4 C375,820 362,845 354.7,867.8" fill="none" stroke="rgb(25,110,25)" stroke-width="7.6" stroke-linecap="round" stroke-linejoin="round" opacity="0.33"/><path d="M383.3,797.4 C375,820 362,845 354.7,867.8" fill="none" stroke="rgb(55,205,55)" stroke-width="6" stroke-linecap="round" stroke-linejoin="round" opacity="0.70"/><path d="M392.8,831.6 C390,855 385,880 379.5,898.3" fill="none" stroke="rgb(25,110,25)" stroke-width="6.6" stroke-linecap="round" stroke-linejoin="round" opacity="0.33"/><path d="M392.8,831.6 C390,855 385,880 379.5,898.3" fill="none" stroke="rgb(55,205,55)" stroke-width="5" stroke-linecap="round" stroke-linejoin="round" opacity="0.70"/><path d="M377.6,799 C388,794 400,794 406,795.5 C415,800 425,812 429,822" fill="none" stroke="rgb(25,110,25)" stroke-width="4.6" stroke-linecap="round" stroke-linejoin="round" opacity="0.36"/><path d="M377.6,799 C388,794 400,794 406,795.5 C415,800 425,812 429,822" fill="none" stroke="rgb(55,205,55)" stroke-width="3" stroke-linecap="round" stroke-linejoin="round" opacity="0.75"/><path d="M402,860 C410,854 425,856 433,860" fill="none" stroke="rgb(25,110,25)" stroke-width="7.6" stroke-linecap="round" stroke-linejoin="round" opacity="0.36"/><path d="M402,860 C410,854 425,856 433,860" fill="none" stroke="rgb(55,205,55)" stroke-width="6" stroke-linecap="round" stroke-linejoin="round" opacity="0.75"/><path d="M390,880 C400,874 410,876 414,886" fill="none" stroke="rgb(25,110,25)" stroke-width="6.6" stroke-linecap="round" stroke-linejoin="round" opacity="0.33"/><path d="M390,880 C400,874 410,876 414,886" fill="none" stroke="rgb(55,205,55)" stroke-width="5" stroke-linecap="round" stroke-linejoin="round" opacity="0.70"/><g fill="none" stroke="#444" stroke-width="3.8" stroke-linejoin="round" stroke-linecap="round" opacity="0.6"><path d="M374,767 L380,770 L385,776 L387,782"/><path d="M412,778 L408,788 L404,796 L402,801"/><path d="M429,770.7 L428,780 L426,790 L425,803"/><path d="M421.4,765 L420,772 L417.6,780"/><path d="M436.6,784 L434,792 L432,800 L429,808.8"/><path d="M429,816 L440,814 L450,812 L458,808 L464,810"/><path d="M432.8,864 L442,862 L450,868 L458,864 L463.3,867.8"/><path d="M417.6,888.7 L430,890 L444.2,890.6"/><path d="M349,788 L358,792 L366,798 L374,803"/><path d="M352,795 L362,800 L370,806"/><path d="M352.8,831.6 L365,832 L377.6,833.5"/><path d="M360,836 L366,842 L372,846"/><path d="M392.8,913.5 L400,918 L406,922 L411.9,926.8"/><path d="M395,890 L402,896 L408,902 L414,906"/><path d="M398,898 L406,904 L414,900 L421,906"/><path d="M386,830 L390,840 L392,848"/><path d="M345,792 L355,796 L362,804 L370,808"/><path d="M356,800 L364,808 L372,812"/><path d="M404,893 L410,898 L418,896 L422,902"/><path d="M400,884 L408,888 L416,884"/><path d="M420,880 L428,874 L436,876"/><path d="M438,858 L446,852 L454,858 L462,856"/><path d="M432,822 L440,820 L446,826"/><path d="M366,836 L372,842 L378,838"/></g><g fill="none" stroke-width="2.3" stroke-linejoin="round" stroke-linecap="round"><path d="M374,767 L380,770 L385,776 L387,782" stroke="#7a86d0"/><path d="M412,778 L408,788 L404,796 L402,801" stroke="#b890b0"/><path d="M429,770.7 L428,780 L426,790 L425,803" stroke="#6ab46a"/><path d="M421.4,765 L420,772 L417.6,780" stroke="#7a86d0"/><path d="M436.6,784 L434,792 L432,800 L429,808.8" stroke="#b890b0"/><path d="M429,816 L440,814 L450,812 L458,808 L464,810" stroke="#7a86d0"/><path d="M432.8,864 L442,862 L450,868 L458,864 L463.3,867.8" stroke="#b890b0"/><path d="M417.6,888.7 L430,890 L444.2,890.6" stroke="#b890b0"/><path d="M349,788 L358,792 L366,798 L374,803" stroke="#7a86d0"/><path d="M352,795 L362,800 L370,806" stroke="#6ab46a"/><path d="M352.8,831.6 L365,832 L377.6,833.5" stroke="#7a86d0"/><path d="M360,836 L366,842 L372,846" stroke="#b890b0"/><path d="M392.8,913.5 L400,918 L406,922 L411.9,926.8" stroke="#6ab46a"/><path d="M395,890 L402,896 L408,902 L414,906" stroke="#7a86d0"/><path d="M398,898 L406,904 L414,900 L421,906" stroke="#b890b0"/><path d="M386,830 L390,840 L392,848" stroke="#6ab46a"/><path d="M345,792 L355,796 L362,804 L370,808" stroke="#b890b0"/><path d="M356,800 L364,808 L372,812" stroke="#6ab46a"/><path d="M404,893 L410,898 L418,896 L422,902" stroke="#7a86d0"/><path d="M400,884 L408,888 L416,884" stroke="#b890b0"/><path d="M420,880 L428,874 L436,876" stroke="#6ab46a"/><path d="M438,858 L446,852 L454,858 L462,856" stroke="#b890b0"/><path d="M432,822 L440,820 L446,826" stroke="#7a86d0"/><path d="M366,836 L372,842 L378,838" stroke="#b890b0"/></g><text x="356.0" y="760.9" font-size="18.5" fill="#1c1c78" stroke="#1c1c78" stroke-width="0.35">K7</text><text x="397.0" y="771.3" font-size="18.5" fill="#6e1414" stroke="#6e1414" stroke-width="0.35">K7</text><text x="441.2" y="777.7" font-size="22.5" fill="#000" stroke="#000" stroke-width="0.35">K9</text><text x="293.3" y="805.0" font-size="22.5" fill="#000" stroke="#000" stroke-width="0.35">K32</text><text x="468.3" y="817.6" font-size="18.5" fill="#1c1c78" stroke="#1c1c78" stroke-width="0.35">R12</text><text x="306.4" y="849.0" font-size="22.5" fill="#000" stroke="#000" stroke-width="0.35">H34</text><text x="303.6" y="878.9" font-size="22.5" fill="#000" stroke="#000" stroke-width="0.35">G1</text><text x="466.9" y="869.6" font-size="18.5" fill="#6e1414" stroke="#6e1414" stroke-width="0.35">R12</text><text x="451.5" y="904.8" font-size="18.5" fill="#000" stroke="#000" stroke-width="0.35">K19</text><text x="420.3" y="930.0" font-size="22.5" fill="#000" stroke="#000" stroke-width="0.35">R24</text><text x="372.8" y="948.6" font-size="18.5" fill="#0d780d" stroke="#0d780d" stroke-width="0.35">K38</text><path d="M613.7,802.8 C612,796 620,792 627,793.7 C632,795 635,798 635,800 C638,805 641,810 650,819.6" fill="none" stroke="rgb(25,110,25)" stroke-width="7.6" stroke-linecap="round" stroke-linejoin="round" opacity="0.36"/><path d="M613.7,802.8 C612,796 620,792 627,793.7 C632,795 635,798 635,800 C638,805 641,810 650,819.6" fill="none" stroke="rgb(55,205,55)" stroke-width="6" stroke-linecap="round" stroke-linejoin="round" opacity="0.75"/><path d="M645.7,807.4 C648,800 653,796.8 664,793.7 C670,793 676,795 676,795" fill="none" stroke="rgb(25,110,25)" stroke-width="6.6" stroke-linecap="round" stroke-linejoin="round" opacity="0.36"/><path d="M645.7,807.4 C648,800 653,796.8 664,793.7 C670,793 676,795 676,795" fill="none" stroke="rgb(55,205,55)" stroke-width="5" stroke-linecap="round" stroke-linejoin="round" opacity="0.75"/><path d="M673,803 C680,805 688,810 688,810 C690,816 688,822 686.8,822.6 C680,824 675,824 671.6,824" fill="none" stroke="rgb(25,110,25)" stroke-width="7.6" stroke-linecap="round" stroke-linejoin="round" opacity="0.36"/><path d="M673,803 C680,805 688,810 688,810 C690,816 688,822 686.8,822.6 C680,824 675,824 671.6,824" fill="none" stroke="rgb(55,205,55)" stroke-width="6" stroke-linecap="round" stroke-linejoin="round" opacity="0.75"/><path d="M633.5,798 C640,796 646,795 650,796" fill="none" stroke="rgb(30,30,120)" stroke-width="5.6" stroke-linecap="round" stroke-linejoin="round" opacity="0.33"/><path d="M633.5,798 C640,796 646,795 650,796" fill="none" stroke="rgb(80,75,215)" stroke-width="4" stroke-linecap="round" stroke-linejoin="round" opacity="0.70"/><path d="M650,818 C649,840 648,865 647,886.6 C645,895 643,900 642.6,905" fill="none" stroke="rgb(30,30,120)" stroke-width="10.6" stroke-linecap="round" stroke-linejoin="round" opacity="0.34"/><path d="M650,818 C649,840 648,865 647,886.6 C645,895 643,900 642.6,905" fill="none" stroke="rgb(80,75,215)" stroke-width="9" stroke-linecap="round" stroke-linejoin="round" opacity="0.72"/><path d="M622.8,865 C628,855 636,846 642.6,841" fill="none" stroke="rgb(30,30,120)" stroke-width="8.6" stroke-linecap="round" stroke-linejoin="round" opacity="0.33"/><path d="M622.8,865 C628,855 636,846 642.6,841" fill="none" stroke="rgb(80,75,215)" stroke-width="7" stroke-linecap="round" stroke-linejoin="round" opacity="0.70"/><path d="M615,865 C618,858 624,848 630,842.4" fill="none" stroke="rgb(25,110,25)" stroke-width="8.6" stroke-linecap="round" stroke-linejoin="round" opacity="0.33"/><path d="M615,865 C618,858 624,848 630,842.4" fill="none" stroke="rgb(55,205,55)" stroke-width="7" stroke-linecap="round" stroke-linejoin="round" opacity="0.70"/><path d="M638,844 C639,858 640,872 639.6,886.6" fill="none" stroke="rgb(25,110,25)" stroke-width="5.6" stroke-linecap="round" stroke-linejoin="round" opacity="0.33"/><path d="M638,844 C639,858 640,872 639.6,886.6" fill="none" stroke="rgb(55,205,55)" stroke-width="4" stroke-linecap="round" stroke-linejoin="round" opacity="0.70"/><path d="M653,787.6 C658,786 662,787 665.5,789" fill="none" stroke="rgb(120,25,25)" stroke-width="5.6" stroke-linecap="round" stroke-linejoin="round" opacity="0.33"/><path d="M653,787.6 C658,786 662,787 665.5,789" fill="none" stroke="rgb(225,55,55)" stroke-width="4" stroke-linecap="round" stroke-linejoin="round" opacity="0.70"/><path d="M661,800 C663,808 664,812 668,818 C672,824 675,835 676,848.5" fill="none" stroke="rgb(120,25,25)" stroke-width="6.6" stroke-linecap="round" stroke-linejoin="round" opacity="0.33"/><path d="M661,800 C663,808 664,812 668,818 C672,824 675,835 676,848.5" fill="none" stroke="rgb(225,55,55)" stroke-width="5" stroke-linecap="round" stroke-linejoin="round" opacity="0.70"/><path d="M673,800 C690,800 703,808 704,822 C705,832 708,842 700,842 C694,840 688,838 682,838" fill="none" stroke="rgb(120,25,25)" stroke-width="7.6" stroke-linecap="round" stroke-linejoin="round" opacity="0.36"/><path d="M673,800 C690,800 703,808 704,822 C705,832 708,842 700,842 C694,840 688,838 682,838" fill="none" stroke="rgb(225,55,55)" stroke-width="6" stroke-linecap="round" stroke-linejoin="round" opacity="0.75"/><path d="M665,852 C675,847 688,847 696,853" fill="none" stroke="rgb(25,110,25)" stroke-width="11.6" stroke-linecap="round" stroke-linejoin="round" opacity="0.34"/><path d="M665,852 C675,847 688,847 696,853" fill="none" stroke="rgb(55,205,55)" stroke-width="10" stroke-linecap="round" stroke-linejoin="round" opacity="0.72"/><path d="M664,862 C674,857 688,858 697,865" fill="none" stroke="rgb(120,25,25)" stroke-width="11.6" stroke-linecap="round" stroke-linejoin="round" opacity="0.34"/><path d="M664,862 C674,857 688,858 697,865" fill="none" stroke="rgb(225,55,55)" stroke-width="10" stroke-linecap="round" stroke-linejoin="round" opacity="0.72"/><path d="M662,872 C672,868 686,869 694,876" fill="none" stroke="rgb(30,30,120)" stroke-width="11.6" stroke-linecap="round" stroke-linejoin="round" opacity="0.34"/><path d="M662,872 C672,868 686,869 694,876" fill="none" stroke="rgb(80,75,215)" stroke-width="10" stroke-linecap="round" stroke-linejoin="round" opacity="0.72"/><path d="M663,882 C672,878 683,880 690,886" fill="none" stroke="rgb(25,110,25)" stroke-width="10.6" stroke-linecap="round" stroke-linejoin="round" opacity="0.33"/><path d="M663,882 C672,878 683,880 690,886" fill="none" stroke="rgb(55,205,55)" stroke-width="9" stroke-linecap="round" stroke-linejoin="round" opacity="0.70"/><path d="M648,878 C652,885 655,890 658,895" fill="none" stroke="rgb(120,25,25)" stroke-width="7.6" stroke-linecap="round" stroke-linejoin="round" opacity="0.33"/><path d="M648,878 C652,885 655,890 658,895" fill="none" stroke="rgb(225,55,55)" stroke-width="6" stroke-linecap="round" stroke-linejoin="round" opacity="0.70"/><path d="M648,818 L656,830" fill="none" stroke="rgb(30,30,120)" stroke-width="11.6" stroke-linecap="round" stroke-linejoin="round" opacity="0.44"/><path d="M648,818 L656,830" fill="none" stroke="rgb(80,75,215)" stroke-width="10" stroke-linecap="round" stroke-linejoin="round" opacity="0.85"/><g fill="none" stroke="#444" stroke-width="3.8" stroke-linejoin="round" stroke-linecap="round" opacity="0.6"><path d="M664,786 L664,775 L666,765 L666,754"/><path d="M656,752 L666,756 L674,750"/><path d="M660,760 L672,762"/><path d="M620,772 L632,782 L644,782 L650,790"/><path d="M628,776 L636,772"/><path d="M602,778 L614,778 L626,778"/><path d="M686,862 L704,860 L712,864 L718,868"/><path d="M680,882 L692,890 L696,902"/><path d="M684,878 L690,884 L700,884"/><path d="M640,900 L660,910 L668,922"/><path d="M648,898 L656,906 L662,916 L668,926"/><path d="M652,900 L658,908"/><path d="M620,832 L636,836 L640,842"/><path d="M636,784 L644,778 L652,784 L658,790"/><path d="M626,786 L634,790 L642,786"/><path d="M672,870 L680,876 L686,884"/><path d="M690,880 L698,884 L704,878"/><path d="M656,904 L664,900 L672,906 L676,914"/><path d="M648,912 L656,918 L664,924"/><path d="M660,890 L664,898 L670,902"/><path d="M694,862 L702,866 L708,862"/></g><g fill="none" stroke-width="2.3" stroke-linejoin="round" stroke-linecap="round"><path d="M664,786 L664,775 L666,765 L666,754" stroke="#b890b0"/><path d="M656,752 L666,756 L674,750" stroke="#b890b0"/><path d="M660,760 L672,762" stroke="#b890b0"/><path d="M620,772 L632,782 L644,782 L650,790" stroke="#7a86d0"/><path d="M628,776 L636,772" stroke="#7a86d0"/><path d="M602,778 L614,778 L626,778" stroke="#6ab46a"/><path d="M686,862 L704,860 L712,864 L718,868" stroke="#b890b0"/><path d="M680,882 L692,890 L696,902" stroke="#7a86d0"/><path d="M684,878 L690,884 L700,884" stroke="#b890b0"/><path d="M640,900 L660,910 L668,922" stroke="#b890b0"/><path d="M648,898 L656,906 L662,916 L668,926" stroke="#7a86d0"/><path d="M652,900 L658,908" stroke="#6ab46a"/><path d="M620,832 L636,836 L640,842" stroke="#7a86d0"/><path d="M636,784 L644,778 L652,784 L658,790" stroke="#b890b0"/><path d="M626,786 L634,790 L642,786" stroke="#7a86d0"/><path d="M672,870 L680,876 L686,884" stroke="#6ab46a"/><path d="M690,880 L698,884 L704,878" stroke="#b890b0"/><path d="M656,904 L664,900 L672,906 L676,914" stroke="#7a86d0"/><path d="M648,912 L656,918 L664,924" stroke="#b890b0"/><path d="M660,890 L664,898 L670,902" stroke="#6ab46a"/><path d="M694,862 L702,866 L708,862" stroke="#b890b0"/></g><text x="649.6" y="744.5" font-size="18.5" fill="#6e1414" stroke="#6e1414" stroke-width="0.35">R31</text><text x="615.0" y="768.0" font-size="18.5" fill="#6e1414" stroke="#6e1414" stroke-width="0.35">K32</text><text x="564.9" y="788.0" font-size="18.5" fill="#6e6e6e" stroke="#6e6e6e" stroke-width="0.35">R31</text><text x="593.1" y="826.6" font-size="18.5" fill="#6e6e6e" stroke="#6e6e6e" stroke-width="0.35">H34</text><text x="585.1" y="850.6" font-size="18.5" fill="#6e1414" stroke="#6e1414" stroke-width="0.35">G1</text><text x="722.9" y="874.6" font-size="18.5" fill="#6e1414" stroke="#6e1414" stroke-width="0.35">K16</text><text x="591.5" y="882.6" font-size="18.5" fill="#6e6e6e" stroke="#6e6e6e" stroke-width="0.35">G1</text><text x="594.5" y="913.3" font-size="22.5" fill="#000" stroke="#000" stroke-width="0.35">R24</text><text x="683.2" y="924.0" font-size="22.5" fill="#000" stroke="#000" stroke-width="0.35">K19</text><text x="616.6" y="938.6" font-size="22.5" fill="#000" stroke="#000" stroke-width="0.35">K38</text>
<text x="130.6" y="214.0" font-family="Liberation Serif" font-size="17.3" text-anchor="middle"><tspan font-size="18">(a)</tspan><tspan dx="1.6"> K</tspan><tspan font-size="11.5" dy="2.3" dx="1.2">v</tspan><tspan dy="-2.3" dx="0.5">1.1</tspan><tspan dx="2.4">—</tspan><tspan dx="0.8">ADWX-1</tspan></text>
<text x="391.8" y="214.0" font-family="Liberation Serif" font-size="17.3" text-anchor="middle"><tspan font-size="18">(b)</tspan><tspan dx="1.6"> K</tspan><tspan font-size="11.5" dy="2.3" dx="1.2">v</tspan><tspan dy="-2.3" dx="0.5">1.2</tspan><tspan dx="2.4">—</tspan><tspan dx="0.8">ADWX-1</tspan></text>
<text x="653.0" y="214.0" font-family="Liberation Serif" font-size="17.3" text-anchor="middle"><tspan font-size="18">(c)</tspan><tspan dx="1.6"> K</tspan><tspan font-size="11.5" dy="2.3" dx="1.2">v</tspan><tspan dy="-2.3" dx="0.5">1.3</tspan><tspan dx="2.4">—</tspan><tspan dx="0.8">ADWX-1</tspan></text>
<text x="130.6" y="446.6" font-family="Liberation Serif" font-size="17.3" text-anchor="middle"><tspan font-size="18">(d)</tspan><tspan dx="1.6"> K</tspan><tspan font-size="11.5" dy="2.3" dx="1.2">v</tspan><tspan dy="-2.3" dx="0.5">1.1</tspan><tspan dx="2.4">—</tspan><tspan dx="0.8">AOsK</tspan></text>
<text x="391.8" y="446.6" font-family="Liberation Serif" font-size="17.3" text-anchor="middle"><tspan font-size="18">(e)</tspan><tspan dx="1.6"> K</tspan><tspan font-size="11.5" dy="2.3" dx="1.2">v</tspan><tspan dy="-2.3" dx="0.5">1.2</tspan><tspan dx="2.4">—</tspan><tspan dx="0.8">AOsK</tspan></text>
<text x="653.0" y="446.6" font-family="Liberation Serif" font-size="17.3" text-anchor="middle"><tspan font-size="18">(f)</tspan><tspan dx="1.6"> K</tspan><tspan font-size="11.5" dy="2.3" dx="1.2">v</tspan><tspan dy="-2.3" dx="0.5">1.3</tspan><tspan dx="2.4">—</tspan><tspan dx="0.8">AOsK</tspan></text>
<text x="130.6" y="680.8" font-family="Liberation Serif" font-size="17.3" text-anchor="middle"><tspan font-size="18">(g)</tspan><tspan dx="1.6"> K</tspan><tspan font-size="11.5" dy="2.3" dx="1.2">v</tspan><tspan dy="-2.3" dx="0.5">1.1</tspan><tspan dx="2.4">—</tspan><tspan dx="0.8">AgTX2</tspan></text>
<text x="391.8" y="680.8" font-family="Liberation Serif" font-size="17.3" text-anchor="middle"><tspan font-size="18">(h)</tspan><tspan dx="1.6"> K</tspan><tspan font-size="11.5" dy="2.3" dx="1.2">v</tspan><tspan dy="-2.3" dx="0.5">1.2</tspan><tspan dx="2.4">—</tspan><tspan dx="0.8">AgTX2</tspan></text>
<text x="653.0" y="680.8" font-family="Liberation Serif" font-size="17.3" text-anchor="middle"><tspan font-size="18">(i)</tspan><tspan dx="1.6"> K</tspan><tspan font-size="11.5" dy="2.3" dx="1.2">v</tspan><tspan dy="-2.3" dx="0.5">1.3</tspan><tspan dx="2.4">—</tspan><tspan dx="0.8">AgTX2</tspan></text>
<text x="34.7" y="991.5" font-family="Liberation Serif" font-size="17.3">(j)</text><text x="59.8" y="991.5" font-family="Liberation Serif" font-size="17.3">ADWX-1</text><text x="130.7" y="994.5" font-family="Liberation Serif" font-size="14" font-style="italic" letter-spacing="3.8">NMR</text><text x="173" y="991.5" font-family="Liberation Serif" font-size="17.3" letter-spacing="0.5">overlap</text>
<text x="307.4" y="991.5" font-family="Liberation Serif" font-size="17.3">(k)</text><text x="336.2" y="991.5" font-family="Liberation Serif" font-size="17.3">AOsK</text><text x="380.8" y="994.5" font-family="Liberation Serif" font-size="14" font-style="italic" letter-spacing="3.8">NMR</text><text x="423.2" y="991.5" font-family="Liberation Serif" font-size="17.3" letter-spacing="0.5">overlap</text>
<text x="570.6" y="991.5" font-family="Liberation Serif" font-size="17.3">(l)</text><text x="596.2" y="991.5" font-family="Liberation Serif" font-size="17.3">AgTX2</text><text x="651.3" y="994.5" font-family="Liberation Serif" font-size="14" font-style="italic" letter-spacing="3.5">MD</text><text x="682.4" y="991.5" font-family="Liberation Serif" font-size="17.3" letter-spacing="0.5">overlap</text>
</svg>
</body></html>
